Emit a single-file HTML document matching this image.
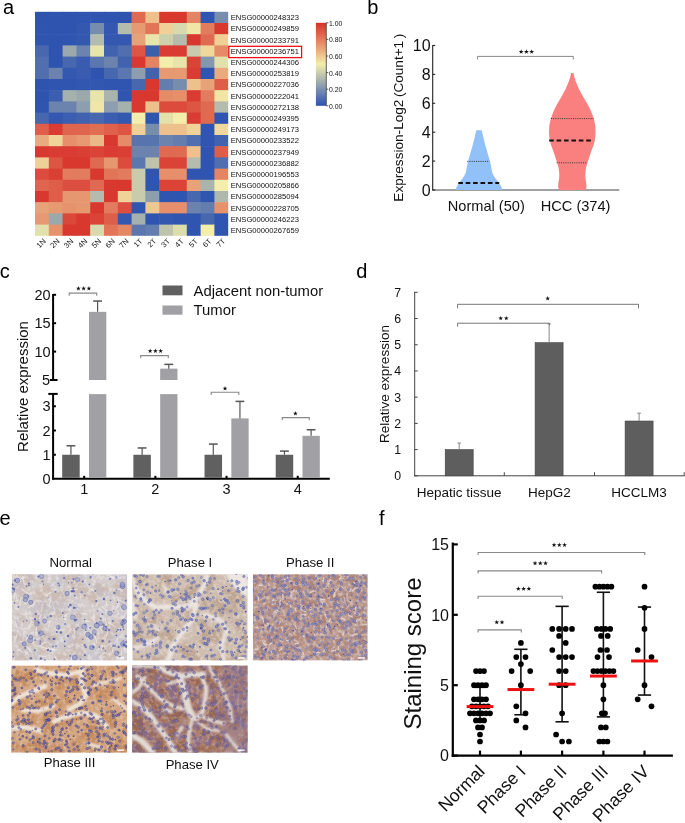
<!DOCTYPE html>
<html><head><meta charset="utf-8"><style>
html,body{margin:0;padding:0;background:#fff;width:685px;height:823px;overflow:hidden}
svg{display:block;will-change:transform}
text{font-family:"Liberation Sans", sans-serif}
</style></head><body>
<svg width="685" height="823" viewBox="0 0 685 823" font-family='"Liberation Sans", sans-serif'>
<rect width="685" height="823" fill="#fff"/>
<text x="2.90" y="14.40" font-size="20" text-anchor="start" fill="#000" >a</text>
<text x="367.30" y="14.40" font-size="20" text-anchor="start" fill="#000" >b</text>
<text x="-0.30" y="277.60" font-size="20" text-anchor="start" fill="#000" >c</text>
<text x="356.20" y="277.60" font-size="20" text-anchor="start" fill="#000" >d</text>
<text x="-0.60" y="524.80" font-size="20" text-anchor="start" fill="#000" >e</text>
<text x="379.00" y="524.80" font-size="20" text-anchor="start" fill="#000" >f</text>
<rect x="35.00" y="11.80" width="14.40" height="11.80" fill="#2e54b0" />
<rect x="48.80" y="11.80" width="14.40" height="11.80" fill="#2e54b0" />
<rect x="62.60" y="11.80" width="14.40" height="11.80" fill="#2e54b0" />
<rect x="76.40" y="11.80" width="14.40" height="11.80" fill="#3055b0" />
<rect x="90.20" y="11.80" width="14.40" height="11.80" fill="#3055b0" />
<rect x="104.00" y="11.80" width="14.40" height="11.80" fill="#2e54b0" />
<rect x="117.80" y="11.80" width="14.40" height="11.80" fill="#2e54b0" />
<rect x="131.60" y="11.80" width="14.40" height="11.80" fill="#e06951" />
<rect x="145.40" y="11.80" width="14.40" height="11.80" fill="#edc08c" />
<rect x="159.20" y="11.80" width="14.40" height="11.80" fill="#d9382f" />
<rect x="173.00" y="11.80" width="14.40" height="11.80" fill="#d9382f" />
<rect x="186.80" y="11.80" width="14.40" height="11.80" fill="#e48463" />
<rect x="200.60" y="11.80" width="14.40" height="11.80" fill="#3055b0" />
<rect x="214.40" y="11.80" width="13.80" height="11.80" fill="#778dae" />
<rect x="35.00" y="23.00" width="14.40" height="11.80" fill="#3055b0" />
<rect x="48.80" y="23.00" width="14.40" height="11.80" fill="#2e54b0" />
<rect x="62.60" y="23.00" width="14.40" height="11.80" fill="#2e54b0" />
<rect x="76.40" y="23.00" width="14.40" height="11.80" fill="#3458b0" />
<rect x="90.20" y="23.00" width="14.40" height="11.80" fill="#778dae" />
<rect x="104.00" y="23.00" width="14.40" height="11.80" fill="#3458b0" />
<rect x="117.80" y="23.00" width="14.40" height="11.80" fill="#b4bcad" />
<rect x="131.60" y="23.00" width="14.40" height="11.80" fill="#e79a72" />
<rect x="145.40" y="23.00" width="14.40" height="11.80" fill="#e27458" />
<rect x="159.20" y="23.00" width="14.40" height="11.80" fill="#efd096" />
<rect x="173.00" y="23.00" width="14.40" height="11.80" fill="#d8d9ac" />
<rect x="186.80" y="23.00" width="14.40" height="11.80" fill="#f2e6a6" />
<rect x="200.60" y="23.00" width="14.40" height="11.80" fill="#e37c5e" />
<rect x="214.40" y="23.00" width="13.80" height="11.80" fill="#d9382f" />
<rect x="35.00" y="34.20" width="14.40" height="11.80" fill="#3055b0" />
<rect x="48.80" y="34.20" width="14.40" height="11.80" fill="#2e54b0" />
<rect x="62.60" y="34.20" width="14.40" height="11.80" fill="#3055b0" />
<rect x="76.40" y="34.20" width="14.40" height="11.80" fill="#3458b0" />
<rect x="90.20" y="34.20" width="14.40" height="11.80" fill="#b4bcad" />
<rect x="104.00" y="34.20" width="14.40" height="11.80" fill="#3458b0" />
<rect x="117.80" y="34.20" width="14.40" height="11.80" fill="#3458b0" />
<rect x="131.60" y="34.20" width="14.40" height="11.80" fill="#e8a277" />
<rect x="145.40" y="34.20" width="14.40" height="11.80" fill="#e8e5ab" />
<rect x="159.20" y="34.20" width="14.40" height="11.80" fill="#cdd0ac" />
<rect x="173.00" y="34.20" width="14.40" height="11.80" fill="#b4bcad" />
<rect x="186.80" y="34.20" width="14.40" height="11.80" fill="#d9382f" />
<rect x="200.60" y="34.20" width="14.40" height="11.80" fill="#e06951" />
<rect x="214.40" y="34.20" width="13.80" height="11.80" fill="#efd096" />
<rect x="35.00" y="45.40" width="14.40" height="11.80" fill="#4767af" />
<rect x="48.80" y="45.40" width="14.40" height="11.80" fill="#2e54b0" />
<rect x="62.60" y="45.40" width="14.40" height="11.80" fill="#9ba9ad" />
<rect x="76.40" y="45.40" width="14.40" height="11.80" fill="#6b83ae" />
<rect x="90.20" y="45.40" width="14.40" height="11.80" fill="#e8e5ab" />
<rect x="104.00" y="45.40" width="14.40" height="11.80" fill="#4162af" />
<rect x="117.80" y="45.40" width="14.40" height="11.80" fill="#516faf" />
<rect x="131.60" y="45.40" width="14.40" height="11.80" fill="#dd5644" />
<rect x="145.40" y="45.40" width="14.40" height="11.80" fill="#3b5eb0" />
<rect x="159.20" y="45.40" width="14.40" height="11.80" fill="#da3b32" />
<rect x="173.00" y="45.40" width="14.40" height="11.80" fill="#da3b32" />
<rect x="186.80" y="45.40" width="14.40" height="11.80" fill="#c8ccac" />
<rect x="200.60" y="45.40" width="14.40" height="11.80" fill="#f0d79c" />
<rect x="214.40" y="45.40" width="13.80" height="11.80" fill="#e58b68" />
<rect x="35.00" y="56.60" width="14.40" height="11.80" fill="#516faf" />
<rect x="48.80" y="56.60" width="14.40" height="11.80" fill="#2e54b0" />
<rect x="62.60" y="56.60" width="14.40" height="11.80" fill="#4767af" />
<rect x="76.40" y="56.60" width="14.40" height="11.80" fill="#395cb0" />
<rect x="90.20" y="56.60" width="14.40" height="11.80" fill="#5c77af" />
<rect x="104.00" y="56.60" width="14.40" height="11.80" fill="#6b83ae" />
<rect x="117.80" y="56.60" width="14.40" height="11.80" fill="#4162af" />
<rect x="131.60" y="56.60" width="14.40" height="11.80" fill="#d9382f" />
<rect x="145.40" y="56.60" width="14.40" height="11.80" fill="#e48463" />
<rect x="159.20" y="56.60" width="14.40" height="11.80" fill="#f3eeab" />
<rect x="173.00" y="56.60" width="14.40" height="11.80" fill="#e8e5ab" />
<rect x="186.80" y="56.60" width="14.40" height="11.80" fill="#db4337" />
<rect x="200.60" y="56.60" width="14.40" height="11.80" fill="#8497ae" />
<rect x="214.40" y="56.60" width="13.80" height="11.80" fill="#e2e1ab" />
<rect x="35.00" y="67.80" width="14.40" height="11.80" fill="#516faf" />
<rect x="48.80" y="67.80" width="14.40" height="11.80" fill="#6b83ae" />
<rect x="62.60" y="67.80" width="14.40" height="11.80" fill="#3458b0" />
<rect x="76.40" y="67.80" width="14.40" height="11.80" fill="#395cb0" />
<rect x="90.20" y="67.80" width="14.40" height="11.80" fill="#2e54b0" />
<rect x="104.00" y="67.80" width="14.40" height="11.80" fill="#4767af" />
<rect x="117.80" y="67.80" width="14.40" height="11.80" fill="#5c77af" />
<rect x="131.60" y="67.80" width="14.40" height="11.80" fill="#8d9eae" />
<rect x="145.40" y="67.80" width="14.40" height="11.80" fill="#4162af" />
<rect x="159.20" y="67.80" width="14.40" height="11.80" fill="#e79a72" />
<rect x="173.00" y="67.80" width="14.40" height="11.80" fill="#e79a72" />
<rect x="186.80" y="67.80" width="14.40" height="11.80" fill="#da3b32" />
<rect x="200.60" y="67.80" width="14.40" height="11.80" fill="#3055b0" />
<rect x="214.40" y="67.80" width="13.80" height="11.80" fill="#e9aa7d" />
<rect x="35.00" y="79.00" width="14.40" height="11.80" fill="#2e54b0" />
<rect x="48.80" y="79.00" width="14.40" height="11.80" fill="#3055b0" />
<rect x="62.60" y="79.00" width="14.40" height="11.80" fill="#3055b0" />
<rect x="76.40" y="79.00" width="14.40" height="11.80" fill="#3257b0" />
<rect x="90.20" y="79.00" width="14.40" height="11.80" fill="#3257b0" />
<rect x="104.00" y="79.00" width="14.40" height="11.80" fill="#3055b0" />
<rect x="117.80" y="79.00" width="14.40" height="11.80" fill="#3055b0" />
<rect x="131.60" y="79.00" width="14.40" height="11.80" fill="#4767af" />
<rect x="145.40" y="79.00" width="14.40" height="11.80" fill="#d9382f" />
<rect x="159.20" y="79.00" width="14.40" height="11.80" fill="#637daf" />
<rect x="173.00" y="79.00" width="14.40" height="11.80" fill="#778dae" />
<rect x="186.80" y="79.00" width="14.40" height="11.80" fill="#edc08c" />
<rect x="200.60" y="79.00" width="14.40" height="11.80" fill="#e8a277" />
<rect x="214.40" y="79.00" width="13.80" height="11.80" fill="#de5e49" />
<rect x="35.00" y="90.20" width="14.40" height="11.80" fill="#2e54b0" />
<rect x="48.80" y="90.20" width="14.40" height="11.80" fill="#3b5eb0" />
<rect x="62.60" y="90.20" width="14.40" height="11.80" fill="#a5b1ad" />
<rect x="76.40" y="90.20" width="14.40" height="11.80" fill="#9ba9ad" />
<rect x="90.20" y="90.20" width="14.40" height="11.80" fill="#e8e5ab" />
<rect x="104.00" y="90.20" width="14.40" height="11.80" fill="#aab4ad" />
<rect x="117.80" y="90.20" width="14.40" height="11.80" fill="#3055b0" />
<rect x="131.60" y="90.20" width="14.40" height="11.80" fill="#d9382f" />
<rect x="145.40" y="90.20" width="14.40" height="11.80" fill="#d9382f" />
<rect x="159.20" y="90.20" width="14.40" height="11.80" fill="#e58b68" />
<rect x="173.00" y="90.20" width="14.40" height="11.80" fill="#e68f6a" />
<rect x="186.80" y="90.20" width="14.40" height="11.80" fill="#da3b32" />
<rect x="200.60" y="90.20" width="14.40" height="11.80" fill="#e37c5e" />
<rect x="214.40" y="90.20" width="13.80" height="11.80" fill="#f2e6a6" />
<rect x="35.00" y="101.40" width="14.40" height="11.80" fill="#3055b0" />
<rect x="48.80" y="101.40" width="14.40" height="11.80" fill="#6b83ae" />
<rect x="62.60" y="101.40" width="14.40" height="11.80" fill="#6b83ae" />
<rect x="76.40" y="101.40" width="14.40" height="11.80" fill="#8d9eae" />
<rect x="90.20" y="101.40" width="14.40" height="11.80" fill="#f2e6a6" />
<rect x="104.00" y="101.40" width="14.40" height="11.80" fill="#8d9eae" />
<rect x="117.80" y="101.40" width="14.40" height="11.80" fill="#a5b1ad" />
<rect x="131.60" y="101.40" width="14.40" height="11.80" fill="#d9382f" />
<rect x="145.40" y="101.40" width="14.40" height="11.80" fill="#edc08c" />
<rect x="159.20" y="101.40" width="14.40" height="11.80" fill="#dc4b3c" />
<rect x="173.00" y="101.40" width="14.40" height="11.80" fill="#dc4b3c" />
<rect x="186.80" y="101.40" width="14.40" height="11.80" fill="#dd5644" />
<rect x="200.60" y="101.40" width="14.40" height="11.80" fill="#e06951" />
<rect x="214.40" y="101.40" width="13.80" height="11.80" fill="#b4bcad" />
<rect x="35.00" y="112.60" width="14.40" height="11.80" fill="#4767af" />
<rect x="48.80" y="112.60" width="14.40" height="11.80" fill="#3458b0" />
<rect x="62.60" y="112.60" width="14.40" height="11.80" fill="#3b5eb0" />
<rect x="76.40" y="112.60" width="14.40" height="11.80" fill="#4162af" />
<rect x="90.20" y="112.60" width="14.40" height="11.80" fill="#4767af" />
<rect x="104.00" y="112.60" width="14.40" height="11.80" fill="#3b5eb0" />
<rect x="117.80" y="112.60" width="14.40" height="11.80" fill="#3458b0" />
<rect x="131.60" y="112.60" width="14.40" height="11.80" fill="#f3eeab" />
<rect x="145.40" y="112.60" width="14.40" height="11.80" fill="#3055b0" />
<rect x="159.20" y="112.60" width="14.40" height="11.80" fill="#e2e1ab" />
<rect x="173.00" y="112.60" width="14.40" height="11.80" fill="#f3eeab" />
<rect x="186.80" y="112.60" width="14.40" height="11.80" fill="#da3b32" />
<rect x="200.60" y="112.60" width="14.40" height="11.80" fill="#e06951" />
<rect x="214.40" y="112.60" width="13.80" height="11.80" fill="#3055b0" />
<rect x="35.00" y="123.80" width="14.40" height="11.80" fill="#de5e49" />
<rect x="48.80" y="123.80" width="14.40" height="11.80" fill="#da3b32" />
<rect x="62.60" y="123.80" width="14.40" height="11.80" fill="#e0654e" />
<rect x="76.40" y="123.80" width="14.40" height="11.80" fill="#e0654e" />
<rect x="90.20" y="123.80" width="14.40" height="11.80" fill="#e16d53" />
<rect x="104.00" y="123.80" width="14.40" height="11.80" fill="#df614c" />
<rect x="117.80" y="123.80" width="14.40" height="11.80" fill="#dd5644" />
<rect x="131.60" y="123.80" width="14.40" height="11.80" fill="#efd096" />
<rect x="145.40" y="123.80" width="14.40" height="11.80" fill="#778dae" />
<rect x="159.20" y="123.80" width="14.40" height="11.80" fill="#edc08c" />
<rect x="173.00" y="123.80" width="14.40" height="11.80" fill="#edc08c" />
<rect x="186.80" y="123.80" width="14.40" height="11.80" fill="#efd399" />
<rect x="200.60" y="123.80" width="14.40" height="11.80" fill="#3055b0" />
<rect x="214.40" y="123.80" width="13.80" height="11.80" fill="#f0d79c" />
<rect x="35.00" y="135.00" width="14.40" height="11.80" fill="#e9aa7d" />
<rect x="48.80" y="135.00" width="14.40" height="11.80" fill="#efd399" />
<rect x="62.60" y="135.00" width="14.40" height="11.80" fill="#e68f6a" />
<rect x="76.40" y="135.00" width="14.40" height="11.80" fill="#e79a72" />
<rect x="90.20" y="135.00" width="14.40" height="11.80" fill="#ebb987" />
<rect x="104.00" y="135.00" width="14.40" height="11.80" fill="#d9382f" />
<rect x="117.80" y="135.00" width="14.40" height="11.80" fill="#e58b68" />
<rect x="131.60" y="135.00" width="14.40" height="11.80" fill="#5874af" />
<rect x="145.40" y="135.00" width="14.40" height="11.80" fill="#5874af" />
<rect x="159.20" y="135.00" width="14.40" height="11.80" fill="#6b83ae" />
<rect x="173.00" y="135.00" width="14.40" height="11.80" fill="#637daf" />
<rect x="186.80" y="135.00" width="14.40" height="11.80" fill="#516faf" />
<rect x="200.60" y="135.00" width="14.40" height="11.80" fill="#3055b0" />
<rect x="214.40" y="135.00" width="13.80" height="11.80" fill="#4162af" />
<rect x="35.00" y="146.20" width="14.40" height="11.80" fill="#d9382f" />
<rect x="48.80" y="146.20" width="14.40" height="11.80" fill="#da3b32" />
<rect x="62.60" y="146.20" width="14.40" height="11.80" fill="#da3b32" />
<rect x="76.40" y="146.20" width="14.40" height="11.80" fill="#da3f34" />
<rect x="90.20" y="146.20" width="14.40" height="11.80" fill="#db4337" />
<rect x="104.00" y="146.20" width="14.40" height="11.80" fill="#da3b32" />
<rect x="117.80" y="146.20" width="14.40" height="11.80" fill="#da3f34" />
<rect x="131.60" y="146.20" width="14.40" height="11.80" fill="#6b83ae" />
<rect x="145.40" y="146.20" width="14.40" height="11.80" fill="#6b83ae" />
<rect x="159.20" y="146.20" width="14.40" height="11.80" fill="#e06951" />
<rect x="173.00" y="146.20" width="14.40" height="11.80" fill="#e06951" />
<rect x="186.80" y="146.20" width="14.40" height="11.80" fill="#edc08c" />
<rect x="200.60" y="146.20" width="14.40" height="11.80" fill="#3055b0" />
<rect x="214.40" y="146.20" width="13.80" height="11.80" fill="#de5e49" />
<rect x="35.00" y="157.40" width="14.40" height="11.80" fill="#efd096" />
<rect x="48.80" y="157.40" width="14.40" height="11.80" fill="#dd5644" />
<rect x="62.60" y="157.40" width="14.40" height="11.80" fill="#d9382f" />
<rect x="76.40" y="157.40" width="14.40" height="11.80" fill="#d9382f" />
<rect x="90.20" y="157.40" width="14.40" height="11.80" fill="#e06951" />
<rect x="104.00" y="157.40" width="14.40" height="11.80" fill="#e79770" />
<rect x="117.80" y="157.40" width="14.40" height="11.80" fill="#dc4b3c" />
<rect x="131.60" y="157.40" width="14.40" height="11.80" fill="#5c77af" />
<rect x="145.40" y="157.40" width="14.40" height="11.80" fill="#bec4ac" />
<rect x="159.20" y="157.40" width="14.40" height="11.80" fill="#db4337" />
<rect x="173.00" y="157.40" width="14.40" height="11.80" fill="#db4337" />
<rect x="186.80" y="157.40" width="14.40" height="11.80" fill="#b4bcad" />
<rect x="200.60" y="157.40" width="14.40" height="11.80" fill="#3055b0" />
<rect x="214.40" y="157.40" width="13.80" height="11.80" fill="#516faf" />
<rect x="35.00" y="168.60" width="14.40" height="11.80" fill="#dc4b3c" />
<rect x="48.80" y="168.60" width="14.40" height="11.80" fill="#da3f34" />
<rect x="62.60" y="168.60" width="14.40" height="11.80" fill="#e37c5e" />
<rect x="76.40" y="168.60" width="14.40" height="11.80" fill="#e37c5e" />
<rect x="90.20" y="168.60" width="14.40" height="11.80" fill="#d9382f" />
<rect x="104.00" y="168.60" width="14.40" height="11.80" fill="#e27458" />
<rect x="117.80" y="168.60" width="14.40" height="11.80" fill="#e37c5e" />
<rect x="131.60" y="168.60" width="14.40" height="11.80" fill="#c8ccac" />
<rect x="145.40" y="168.60" width="14.40" height="11.80" fill="#3055b0" />
<rect x="159.20" y="168.60" width="14.40" height="11.80" fill="#e68f6a" />
<rect x="173.00" y="168.60" width="14.40" height="11.80" fill="#e68f6a" />
<rect x="186.80" y="168.60" width="14.40" height="11.80" fill="#3055b0" />
<rect x="200.60" y="168.60" width="14.40" height="11.80" fill="#3055b0" />
<rect x="214.40" y="168.60" width="13.80" height="11.80" fill="#e48463" />
<rect x="35.00" y="179.80" width="14.40" height="11.80" fill="#e0654e" />
<rect x="48.80" y="179.80" width="14.40" height="11.80" fill="#de5e49" />
<rect x="62.60" y="179.80" width="14.40" height="11.80" fill="#dc4e3f" />
<rect x="76.40" y="179.80" width="14.40" height="11.80" fill="#dc4e3f" />
<rect x="90.20" y="179.80" width="14.40" height="11.80" fill="#e06951" />
<rect x="104.00" y="179.80" width="14.40" height="11.80" fill="#d9382f" />
<rect x="117.80" y="179.80" width="14.40" height="11.80" fill="#d9382f" />
<rect x="131.60" y="179.80" width="14.40" height="11.80" fill="#c8ccac" />
<rect x="145.40" y="179.80" width="14.40" height="11.80" fill="#3055b0" />
<rect x="159.20" y="179.80" width="14.40" height="11.80" fill="#db4337" />
<rect x="173.00" y="179.80" width="14.40" height="11.80" fill="#db4337" />
<rect x="186.80" y="179.80" width="14.40" height="11.80" fill="#e8a277" />
<rect x="200.60" y="179.80" width="14.40" height="11.80" fill="#aab4ad" />
<rect x="214.40" y="179.80" width="13.80" height="11.80" fill="#f3eeab" />
<rect x="35.00" y="191.00" width="14.40" height="11.80" fill="#d9382f" />
<rect x="48.80" y="191.00" width="14.40" height="11.80" fill="#de5e49" />
<rect x="62.60" y="191.00" width="14.40" height="11.80" fill="#e79770" />
<rect x="76.40" y="191.00" width="14.40" height="11.80" fill="#e79770" />
<rect x="90.20" y="191.00" width="14.40" height="11.80" fill="#b4bcad" />
<rect x="104.00" y="191.00" width="14.40" height="11.80" fill="#d9382f" />
<rect x="117.80" y="191.00" width="14.40" height="11.80" fill="#efd399" />
<rect x="131.60" y="191.00" width="14.40" height="11.80" fill="#c8ccac" />
<rect x="145.40" y="191.00" width="14.40" height="11.80" fill="#8d9eae" />
<rect x="159.20" y="191.00" width="14.40" height="11.80" fill="#3055b0" />
<rect x="173.00" y="191.00" width="14.40" height="11.80" fill="#3055b0" />
<rect x="186.80" y="191.00" width="14.40" height="11.80" fill="#4767af" />
<rect x="200.60" y="191.00" width="14.40" height="11.80" fill="#3055b0" />
<rect x="214.40" y="191.00" width="13.80" height="11.80" fill="#afb8ad" />
<rect x="35.00" y="202.20" width="14.40" height="11.80" fill="#e8a277" />
<rect x="48.80" y="202.20" width="14.40" height="11.80" fill="#e79a72" />
<rect x="62.60" y="202.20" width="14.40" height="11.80" fill="#e6936d" />
<rect x="76.40" y="202.20" width="14.40" height="11.80" fill="#e79770" />
<rect x="90.20" y="202.20" width="14.40" height="11.80" fill="#d9382f" />
<rect x="104.00" y="202.20" width="14.40" height="11.80" fill="#e37c5e" />
<rect x="117.80" y="202.20" width="14.40" height="11.80" fill="#dc4e3f" />
<rect x="131.60" y="202.20" width="14.40" height="11.80" fill="#3055b0" />
<rect x="145.40" y="202.20" width="14.40" height="11.80" fill="#eec891" />
<rect x="159.20" y="202.20" width="14.40" height="11.80" fill="#e68f6a" />
<rect x="173.00" y="202.20" width="14.40" height="11.80" fill="#e68f6a" />
<rect x="186.80" y="202.20" width="14.40" height="11.80" fill="#6b83ae" />
<rect x="200.60" y="202.20" width="14.40" height="11.80" fill="#637daf" />
<rect x="214.40" y="202.20" width="13.80" height="11.80" fill="#e6936d" />
<rect x="35.00" y="213.40" width="14.40" height="11.80" fill="#e79a72" />
<rect x="48.80" y="213.40" width="14.40" height="11.80" fill="#9ba9ad" />
<rect x="62.60" y="213.40" width="14.40" height="11.80" fill="#db4739" />
<rect x="76.40" y="213.40" width="14.40" height="11.80" fill="#d9382f" />
<rect x="90.20" y="213.40" width="14.40" height="11.80" fill="#db4337" />
<rect x="104.00" y="213.40" width="14.40" height="11.80" fill="#de5e49" />
<rect x="117.80" y="213.40" width="14.40" height="11.80" fill="#3458b0" />
<rect x="131.60" y="213.40" width="14.40" height="11.80" fill="#a5b1ad" />
<rect x="145.40" y="213.40" width="14.40" height="11.80" fill="#3055b0" />
<rect x="159.20" y="213.40" width="14.40" height="11.80" fill="#3257b0" />
<rect x="173.00" y="213.40" width="14.40" height="11.80" fill="#3055b0" />
<rect x="186.80" y="213.40" width="14.40" height="11.80" fill="#3055b0" />
<rect x="200.60" y="213.40" width="14.40" height="11.80" fill="#4767af" />
<rect x="214.40" y="213.40" width="13.80" height="11.80" fill="#3055b0" />
<rect x="35.00" y="224.60" width="14.40" height="11.20" fill="#e2e1ab" />
<rect x="48.80" y="224.60" width="14.40" height="11.20" fill="#e6936d" />
<rect x="62.60" y="224.60" width="14.40" height="11.20" fill="#d9382f" />
<rect x="76.40" y="224.60" width="14.40" height="11.20" fill="#d9382f" />
<rect x="90.20" y="224.60" width="14.40" height="11.20" fill="#d8d9ac" />
<rect x="104.00" y="224.60" width="14.40" height="11.20" fill="#e27458" />
<rect x="117.80" y="224.60" width="14.40" height="11.20" fill="#e48765" />
<rect x="131.60" y="224.60" width="14.40" height="11.20" fill="#5c77af" />
<rect x="145.40" y="224.60" width="14.40" height="11.20" fill="#637daf" />
<rect x="159.20" y="224.60" width="14.40" height="11.20" fill="#bec4ac" />
<rect x="173.00" y="224.60" width="14.40" height="11.20" fill="#ddddac" />
<rect x="186.80" y="224.60" width="14.40" height="11.20" fill="#3055b0" />
<rect x="200.60" y="224.60" width="14.40" height="11.20" fill="#f3eeab" />
<rect x="214.40" y="224.60" width="13.80" height="11.20" fill="#3055b0" />
<text x="230.70" y="20.25" font-size="8.1" text-anchor="start" fill="#111" textLength="68.3" lengthAdjust="spacingAndGlyphs">ENSG00000248323</text>
<text x="230.70" y="31.45" font-size="8.1" text-anchor="start" fill="#111" textLength="68.3" lengthAdjust="spacingAndGlyphs">ENSG00000249859</text>
<text x="230.70" y="42.65" font-size="8.1" text-anchor="start" fill="#111" textLength="68.3" lengthAdjust="spacingAndGlyphs">ENSG00000233791</text>
<text x="230.70" y="53.85" font-size="8.1" text-anchor="start" fill="#111" textLength="68.3" lengthAdjust="spacingAndGlyphs">ENSG00000236751</text>
<text x="230.70" y="65.05" font-size="8.1" text-anchor="start" fill="#111" textLength="68.3" lengthAdjust="spacingAndGlyphs">ENSG00000244306</text>
<text x="230.70" y="76.25" font-size="8.1" text-anchor="start" fill="#111" textLength="68.3" lengthAdjust="spacingAndGlyphs">ENSG00000253819</text>
<text x="230.70" y="87.45" font-size="8.1" text-anchor="start" fill="#111" textLength="68.3" lengthAdjust="spacingAndGlyphs">ENSG00000227036</text>
<text x="230.70" y="98.65" font-size="8.1" text-anchor="start" fill="#111" textLength="68.3" lengthAdjust="spacingAndGlyphs">ENSG00000222041</text>
<text x="230.70" y="109.85" font-size="8.1" text-anchor="start" fill="#111" textLength="68.3" lengthAdjust="spacingAndGlyphs">ENSG00000272138</text>
<text x="230.70" y="121.05" font-size="8.1" text-anchor="start" fill="#111" textLength="68.3" lengthAdjust="spacingAndGlyphs">ENSG00000249395</text>
<text x="230.70" y="132.25" font-size="8.1" text-anchor="start" fill="#111" textLength="68.3" lengthAdjust="spacingAndGlyphs">ENSG00000249173</text>
<text x="230.70" y="143.45" font-size="8.1" text-anchor="start" fill="#111" textLength="68.3" lengthAdjust="spacingAndGlyphs">ENSG00000233522</text>
<text x="230.70" y="154.65" font-size="8.1" text-anchor="start" fill="#111" textLength="68.3" lengthAdjust="spacingAndGlyphs">ENSG00000237949</text>
<text x="230.70" y="165.85" font-size="8.1" text-anchor="start" fill="#111" textLength="68.3" lengthAdjust="spacingAndGlyphs">ENSG00000236882</text>
<text x="230.70" y="177.05" font-size="8.1" text-anchor="start" fill="#111" textLength="68.3" lengthAdjust="spacingAndGlyphs">ENSG00000196553</text>
<text x="230.70" y="188.25" font-size="8.1" text-anchor="start" fill="#111" textLength="68.3" lengthAdjust="spacingAndGlyphs">ENSG00000205866</text>
<text x="230.70" y="199.45" font-size="8.1" text-anchor="start" fill="#111" textLength="68.3" lengthAdjust="spacingAndGlyphs">ENSG00000285094</text>
<text x="230.70" y="210.65" font-size="8.1" text-anchor="start" fill="#111" textLength="68.3" lengthAdjust="spacingAndGlyphs">ENSG00000228705</text>
<text x="230.70" y="221.85" font-size="8.1" text-anchor="start" fill="#111" textLength="68.3" lengthAdjust="spacingAndGlyphs">ENSG00000246223</text>
<text x="230.70" y="233.05" font-size="8.1" text-anchor="start" fill="#111" textLength="68.3" lengthAdjust="spacingAndGlyphs">ENSG00000267659</text>
<rect x="228.8" y="46.3" width="72.8" height="11.3" fill="none" stroke="#ee1111" stroke-width="1.3"/>
<text x="46.40" y="241.60" font-size="7.6" text-anchor="end" fill="#111" transform="rotate(-45 46.40 241.60)">1N</text>
<text x="60.20" y="241.60" font-size="7.6" text-anchor="end" fill="#111" transform="rotate(-45 60.20 241.60)">2N</text>
<text x="74.00" y="241.60" font-size="7.6" text-anchor="end" fill="#111" transform="rotate(-45 74.00 241.60)">3N</text>
<text x="87.80" y="241.60" font-size="7.6" text-anchor="end" fill="#111" transform="rotate(-45 87.80 241.60)">4N</text>
<text x="101.60" y="241.60" font-size="7.6" text-anchor="end" fill="#111" transform="rotate(-45 101.60 241.60)">5N</text>
<text x="115.40" y="241.60" font-size="7.6" text-anchor="end" fill="#111" transform="rotate(-45 115.40 241.60)">6N</text>
<text x="129.20" y="241.60" font-size="7.6" text-anchor="end" fill="#111" transform="rotate(-45 129.20 241.60)">7N</text>
<text x="143.00" y="241.60" font-size="7.6" text-anchor="end" fill="#111" transform="rotate(-45 143.00 241.60)">1T</text>
<text x="156.80" y="241.60" font-size="7.6" text-anchor="end" fill="#111" transform="rotate(-45 156.80 241.60)">2T</text>
<text x="170.60" y="241.60" font-size="7.6" text-anchor="end" fill="#111" transform="rotate(-45 170.60 241.60)">3T</text>
<text x="184.40" y="241.60" font-size="7.6" text-anchor="end" fill="#111" transform="rotate(-45 184.40 241.60)">4T</text>
<text x="198.20" y="241.60" font-size="7.6" text-anchor="end" fill="#111" transform="rotate(-45 198.20 241.60)">5T</text>
<text x="212.00" y="241.60" font-size="7.6" text-anchor="end" fill="#111" transform="rotate(-45 212.00 241.60)">6T</text>
<text x="225.80" y="241.60" font-size="7.6" text-anchor="end" fill="#111" transform="rotate(-45 225.80 241.60)">7T</text>
<defs><linearGradient id="cb" x1="0" y1="1" x2="0" y2="0"><stop offset="0" stop-color="#2c52b0"/><stop offset="0.5" stop-color="#f3eeab"/><stop offset="1" stop-color="#d8302a"/></linearGradient></defs>
<rect x="315.90" y="22.80" width="10.20" height="83.00" fill="url(#cb)" />
<line x1="326.30" y1="22.80" x2="326.30" y2="105.80" stroke="#333" stroke-width="0.8" />
<line x1="326.30" y1="105.80" x2="328.30" y2="105.80" stroke="#333" stroke-width="0.8" />
<text x="328.90" y="108.80" font-size="7.9" text-anchor="start" fill="#111" textLength="13.4" lengthAdjust="spacingAndGlyphs">0.00</text>
<line x1="326.30" y1="89.20" x2="328.30" y2="89.20" stroke="#333" stroke-width="0.8" />
<text x="328.90" y="92.20" font-size="7.9" text-anchor="start" fill="#111" textLength="13.4" lengthAdjust="spacingAndGlyphs">0.20</text>
<line x1="326.30" y1="72.60" x2="328.30" y2="72.60" stroke="#333" stroke-width="0.8" />
<text x="328.90" y="75.60" font-size="7.9" text-anchor="start" fill="#111" textLength="13.4" lengthAdjust="spacingAndGlyphs">0.40</text>
<line x1="326.30" y1="56.00" x2="328.30" y2="56.00" stroke="#333" stroke-width="0.8" />
<text x="328.90" y="59.00" font-size="7.9" text-anchor="start" fill="#111" textLength="13.4" lengthAdjust="spacingAndGlyphs">0.60</text>
<line x1="326.30" y1="39.40" x2="328.30" y2="39.40" stroke="#333" stroke-width="0.8" />
<text x="328.90" y="42.40" font-size="7.9" text-anchor="start" fill="#111" textLength="13.4" lengthAdjust="spacingAndGlyphs">0.80</text>
<line x1="326.30" y1="22.80" x2="328.30" y2="22.80" stroke="#333" stroke-width="0.8" />
<text x="328.90" y="25.80" font-size="7.9" text-anchor="start" fill="#111" textLength="13.4" lengthAdjust="spacingAndGlyphs">1.00</text>
<line x1="432.70" y1="45.00" x2="432.70" y2="190.50" stroke="#222" stroke-width="1.1" />
<line x1="432.20" y1="190.00" x2="619.30" y2="190.00" stroke="#444" stroke-width="1.1" />
<line x1="432.70" y1="190.00" x2="435.20" y2="190.00" stroke="#222" stroke-width="1.1" />
<text x="430.60" y="195.75" font-size="16" text-anchor="end" fill="#111" >0</text>
<line x1="432.70" y1="161.10" x2="435.20" y2="161.10" stroke="#222" stroke-width="1.1" />
<text x="430.60" y="166.85" font-size="16" text-anchor="end" fill="#111" >2</text>
<line x1="432.70" y1="132.20" x2="435.20" y2="132.20" stroke="#222" stroke-width="1.1" />
<text x="430.60" y="137.95" font-size="16" text-anchor="end" fill="#111" >4</text>
<line x1="432.70" y1="103.30" x2="435.20" y2="103.30" stroke="#222" stroke-width="1.1" />
<text x="430.60" y="109.05" font-size="16" text-anchor="end" fill="#111" >6</text>
<line x1="432.70" y1="74.40" x2="435.20" y2="74.40" stroke="#222" stroke-width="1.1" />
<text x="430.60" y="80.15" font-size="16" text-anchor="end" fill="#111" >8</text>
<line x1="432.70" y1="45.50" x2="435.20" y2="45.50" stroke="#222" stroke-width="1.1" />
<text x="430.60" y="51.25" font-size="16" text-anchor="end" fill="#111" >10</text>
<text x="403" y="117.7" font-size="13.6" text-anchor="middle" fill="#111" transform="rotate(-90 403 117.7)">Expression-Log2<tspan dx="2.5">(</tspan>Count+1<tspan dx="2.5">)</tspan></text>
<path d="M476.30,130.20 L475.20,135.00 L474.00,140.00 L472.60,145.50 L471.30,150.00 L469.90,155.00 L468.10,160.90 L467.00,166.00 L466.10,171.10 L465.20,174.00 L464.00,176.20 L462.00,179.00 L459.60,182.30 L457.70,185.00 L456.30,187.40 L456.00,189.30 L456.00,190.00 L502.00,190.00 L502.00,189.30 L501.70,187.40 L500.30,185.00 L498.40,182.30 L496.00,179.00 L494.00,176.20 L492.80,174.00 L491.90,171.10 L491.00,166.00 L489.90,160.90 L488.10,155.00 L486.70,150.00 L485.40,145.50 L484.00,140.00 L482.80,135.00 L481.70,130.20 Z" fill="#92c0f8"/>
<path d="M571.10,72.90 L570.50,76.00 L569.10,80.80 L567.50,84.50 L565.80,88.70 L563.80,92.50 L561.60,96.60 L559.30,100.50 L556.90,104.40 L554.90,108.30 L553.20,112.30 L551.70,116.00 L550.40,120.20 L549.40,125.00 L549.00,131.30 L549.20,136.00 L549.80,140.70 L551.20,145.50 L553.00,150.20 L554.60,155.00 L556.10,159.70 L557.40,163.50 L558.50,167.60 L559.10,171.50 L559.30,175.40 L559.00,179.50 L558.30,183.30 L558.10,186.50 L558.50,188.60 L559.30,190.00 L585.30,190.00 L586.10,188.60 L586.50,186.50 L586.30,183.30 L585.60,179.50 L585.30,175.40 L585.50,171.50 L586.10,167.60 L587.20,163.50 L588.50,159.70 L590.00,155.00 L591.60,150.20 L593.40,145.50 L594.80,140.70 L595.40,136.00 L595.60,131.30 L595.20,125.00 L594.20,120.20 L592.90,116.00 L591.40,112.30 L589.70,108.30 L587.70,104.40 L585.30,100.50 L583.00,96.60 L580.80,92.50 L578.80,88.70 L577.10,84.50 L575.50,80.80 L574.10,76.00 L573.50,72.90 Z" fill="#fa8080"/>
<line x1="458.30" y1="183.00" x2="499.20" y2="183.00" stroke="#111" stroke-width="2.0" stroke-dasharray="4.6 2.8"/>
<line x1="467.30" y1="161.40" x2="489.50" y2="161.40" stroke="#333" stroke-width="1.0" stroke-dasharray="1 1.2"/>
<line x1="549.20" y1="140.40" x2="592.10" y2="140.40" stroke="#111" stroke-width="2.0" stroke-dasharray="4.6 2.8"/>
<line x1="551.00" y1="118.60" x2="593.60" y2="118.60" stroke="#333" stroke-width="1.0" stroke-dasharray="1 1.2"/>
<line x1="556.60" y1="162.80" x2="587.30" y2="162.80" stroke="#333" stroke-width="1.0" stroke-dasharray="1 1.2"/>
<path d="M477.5,59.5 L477.5,56.4 L573.3,56.4 L573.3,59.5" fill="none" stroke="#888" stroke-width="1"/>
<polygon points="521.15,49.35 521.74,51.04 523.53,51.08 522.10,52.16 522.62,53.87 521.15,52.85 519.68,53.87 520.20,52.16 518.77,51.08 520.56,51.04" fill="#111"/>
<polygon points="526.40,49.35 526.99,51.04 528.78,51.08 527.35,52.16 527.87,53.87 526.40,52.85 524.93,53.87 525.45,52.16 524.02,51.08 525.81,51.04" fill="#111"/>
<polygon points="531.65,49.35 532.24,51.04 534.03,51.08 532.60,52.16 533.12,53.87 531.65,52.85 530.18,53.87 530.70,52.16 529.27,51.08 531.06,51.04" fill="#111"/>
<text x="486.30" y="211.20" font-size="14.6" text-anchor="middle" fill="#111" >Normal (50)</text>
<text x="575.60" y="211.20" font-size="14.6" text-anchor="middle" fill="#111" >HCC (374)</text>
<line x1="53.10" y1="294.00" x2="53.10" y2="381.00" stroke="#000" stroke-width="2" />
<line x1="53.10" y1="393.00" x2="53.10" y2="479.50" stroke="#000" stroke-width="2" />
<line x1="49.90" y1="380.00" x2="57.50" y2="380.00" stroke="#000" stroke-width="2" />
<line x1="48.30" y1="393.90" x2="57.70" y2="393.90" stroke="#000" stroke-width="2" />
<line x1="53.10" y1="294.80" x2="56.10" y2="294.80" stroke="#000" stroke-width="2" />
<line x1="53.10" y1="323.20" x2="56.10" y2="323.20" stroke="#000" stroke-width="2" />
<line x1="53.10" y1="351.60" x2="56.10" y2="351.60" stroke="#000" stroke-width="2" />
<line x1="53.10" y1="406.25" x2="55.90" y2="406.25" stroke="#000" stroke-width="2" />
<line x1="53.10" y1="430.50" x2="55.90" y2="430.50" stroke="#000" stroke-width="2" />
<line x1="53.10" y1="454.75" x2="55.90" y2="454.75" stroke="#000" stroke-width="2" />
<line x1="52.10" y1="478.70" x2="329.80" y2="478.70" stroke="#000" stroke-width="2" />
<text x="50.70" y="300.00" font-size="14.5" text-anchor="end" fill="#111" >20</text>
<text x="50.70" y="328.40" font-size="14.5" text-anchor="end" fill="#111" >15</text>
<text x="50.70" y="356.80" font-size="14.5" text-anchor="end" fill="#111" >10</text>
<text x="50.00" y="385.20" font-size="14.5" text-anchor="end" fill="#111" >5</text>
<text x="50.70" y="411.45" font-size="14.5" text-anchor="end" fill="#111" >3</text>
<text x="50.70" y="435.70" font-size="14.5" text-anchor="end" fill="#111" >2</text>
<text x="50.70" y="459.95" font-size="14.5" text-anchor="end" fill="#111" >1</text>
<text x="50.70" y="484.20" font-size="14.5" text-anchor="end" fill="#111" >0</text>
<text x="27.6" y="386.5" font-size="15" text-anchor="middle" fill="#111" transform="rotate(-90 27.6 386.5)">Relative expression</text>
<rect x="62.20" y="454.75" width="17.50" height="23.05" fill="#606060" />
<line x1="70.95" y1="445.78" x2="70.95" y2="454.75" stroke="#555" stroke-width="1.2" />
<line x1="66.55" y1="445.78" x2="75.35" y2="445.78" stroke="#555" stroke-width="1.5" />
<rect x="89.00" y="394.12" width="17.30" height="83.68" fill="#a0a0a5" />
<rect x="89.00" y="311.84" width="17.30" height="68.16" fill="#a0a0a5" />
<line x1="97.60" y1="301.05" x2="97.60" y2="311.84" stroke="#555" stroke-width="1.2" />
<line x1="93.20" y1="301.05" x2="102.00" y2="301.05" stroke="#555" stroke-width="1.5" />
<line x1="84.20" y1="475.80" x2="84.20" y2="478.70" stroke="#000" stroke-width="2" />
<text x="84.20" y="494.40" font-size="14.5" text-anchor="middle" fill="#111" >1</text>
<rect x="133.37" y="454.75" width="17.50" height="23.05" fill="#606060" />
<line x1="142.12" y1="447.96" x2="142.12" y2="454.75" stroke="#555" stroke-width="1.2" />
<line x1="137.72" y1="447.96" x2="146.52" y2="447.96" stroke="#555" stroke-width="1.5" />
<rect x="160.17" y="394.12" width="17.30" height="83.68" fill="#a0a0a5" />
<rect x="160.17" y="368.64" width="17.30" height="11.36" fill="#a0a0a5" />
<line x1="168.77" y1="364.38" x2="168.77" y2="368.64" stroke="#555" stroke-width="1.2" />
<line x1="164.37" y1="364.38" x2="173.17" y2="364.38" stroke="#555" stroke-width="1.5" />
<line x1="155.37" y1="475.80" x2="155.37" y2="478.70" stroke="#000" stroke-width="2" />
<text x="155.37" y="494.40" font-size="14.5" text-anchor="middle" fill="#111" >2</text>
<rect x="204.54" y="454.75" width="17.50" height="23.05" fill="#606060" />
<line x1="213.29" y1="444.08" x2="213.29" y2="454.75" stroke="#555" stroke-width="1.2" />
<line x1="208.89" y1="444.08" x2="217.69" y2="444.08" stroke="#555" stroke-width="1.5" />
<rect x="231.34" y="418.38" width="17.30" height="59.43" fill="#a0a0a5" />
<line x1="239.94" y1="401.40" x2="239.94" y2="418.38" stroke="#555" stroke-width="1.2" />
<line x1="235.54" y1="401.40" x2="244.34" y2="401.40" stroke="#555" stroke-width="1.5" />
<line x1="226.54" y1="475.80" x2="226.54" y2="478.70" stroke="#000" stroke-width="2" />
<text x="226.54" y="494.40" font-size="14.5" text-anchor="middle" fill="#111" >3</text>
<rect x="275.71" y="454.75" width="17.50" height="23.05" fill="#606060" />
<line x1="284.46" y1="451.11" x2="284.46" y2="454.75" stroke="#555" stroke-width="1.2" />
<line x1="280.06" y1="451.11" x2="288.86" y2="451.11" stroke="#555" stroke-width="1.5" />
<rect x="302.51" y="435.83" width="17.30" height="41.97" fill="#a0a0a5" />
<line x1="311.11" y1="429.77" x2="311.11" y2="435.83" stroke="#555" stroke-width="1.2" />
<line x1="306.71" y1="429.77" x2="315.51" y2="429.77" stroke="#555" stroke-width="1.5" />
<line x1="297.71" y1="475.80" x2="297.71" y2="478.70" stroke="#000" stroke-width="2" />
<text x="297.71" y="494.40" font-size="14.5" text-anchor="middle" fill="#111" >4</text>
<path d="M69.2,295.70000000000005 L69.2,293.1 L96.7,293.1 L96.7,295.70000000000005" fill="none" stroke="#888" stroke-width="1.1"/>
<polygon points="78.40,286.05 78.99,287.74 80.78,287.78 79.35,288.86 79.87,290.57 78.40,289.55 76.93,290.57 77.45,288.86 76.02,287.78 77.81,287.74" fill="#111"/>
<polygon points="83.65,286.05 84.24,287.74 86.03,287.78 84.60,288.86 85.12,290.57 83.65,289.55 82.18,290.57 82.70,288.86 81.27,287.78 83.06,287.74" fill="#111"/>
<polygon points="88.90,286.05 89.49,287.74 91.28,287.78 89.85,288.86 90.37,290.57 88.90,289.55 87.43,290.57 87.95,288.86 86.52,287.78 88.31,287.74" fill="#111"/>
<path d="M140.7,358.20000000000005 L140.7,355.6 L168.3,355.6 L168.3,358.20000000000005" fill="none" stroke="#888" stroke-width="1.1"/>
<polygon points="150.15,348.55 150.74,350.24 152.53,350.28 151.10,351.36 151.62,353.07 150.15,352.05 148.68,353.07 149.20,351.36 147.77,350.28 149.56,350.24" fill="#111"/>
<polygon points="155.40,348.55 155.99,350.24 157.78,350.28 156.35,351.36 156.87,353.07 155.40,352.05 153.93,353.07 154.45,351.36 153.02,350.28 154.81,350.24" fill="#111"/>
<polygon points="160.65,348.55 161.24,350.24 163.03,350.28 161.60,351.36 162.12,353.07 160.65,352.05 159.18,353.07 159.70,351.36 158.27,350.28 160.06,350.24" fill="#111"/>
<path d="M211.2,394.90000000000003 L211.2,392.3 L238.8,392.3 L238.8,394.90000000000003" fill="none" stroke="#888" stroke-width="1.1"/>
<polygon points="225.00,386.05 225.59,387.74 227.38,387.78 225.95,388.86 226.47,390.57 225.00,389.55 223.53,390.57 224.05,388.86 222.62,387.78 224.41,387.74" fill="#111"/>
<path d="M282.2,420.20000000000005 L282.2,417.6 L309.3,417.6 L309.3,420.20000000000005" fill="none" stroke="#888" stroke-width="1.1"/>
<polygon points="295.40,411.05 295.99,412.74 297.78,412.78 296.35,413.86 296.87,415.57 295.40,414.55 293.93,415.57 294.45,413.86 293.02,412.78 294.81,412.74" fill="#111"/>
<rect x="162.50" y="285.50" width="20.00" height="9.80" fill="#606060" />
<rect x="162.50" y="305.50" width="20.00" height="9.20" fill="#a0a0a5" />
<text x="193.60" y="295.60" font-size="14.85" text-anchor="start" fill="#111" >Adjacent non-tumor</text>
<text x="193.60" y="315.00" font-size="14.85" text-anchor="start" fill="#111" >Tumor</text>
<line x1="414.70" y1="291.80" x2="414.70" y2="476.30" stroke="#444" stroke-width="1" />
<line x1="414.20" y1="475.80" x2="684.60" y2="475.80" stroke="#444" stroke-width="1" />
<line x1="414.70" y1="475.80" x2="417.70" y2="475.80" stroke="#444" stroke-width="1" />
<text x="401.00" y="480.20" font-size="12.3" text-anchor="end" fill="#111" >0</text>
<line x1="414.70" y1="449.59" x2="417.70" y2="449.59" stroke="#444" stroke-width="1" />
<text x="401.00" y="453.99" font-size="12.3" text-anchor="end" fill="#111" >1</text>
<line x1="414.70" y1="423.38" x2="417.70" y2="423.38" stroke="#444" stroke-width="1" />
<text x="401.00" y="427.78" font-size="12.3" text-anchor="end" fill="#111" >2</text>
<line x1="414.70" y1="397.17" x2="417.70" y2="397.17" stroke="#444" stroke-width="1" />
<text x="401.00" y="401.57" font-size="12.3" text-anchor="end" fill="#111" >3</text>
<line x1="414.70" y1="370.96" x2="417.70" y2="370.96" stroke="#444" stroke-width="1" />
<text x="401.00" y="375.36" font-size="12.3" text-anchor="end" fill="#111" >4</text>
<line x1="414.70" y1="344.75" x2="417.70" y2="344.75" stroke="#444" stroke-width="1" />
<text x="401.00" y="349.15" font-size="12.3" text-anchor="end" fill="#111" >5</text>
<line x1="414.70" y1="318.54" x2="417.70" y2="318.54" stroke="#444" stroke-width="1" />
<text x="401.00" y="322.94" font-size="12.3" text-anchor="end" fill="#111" >6</text>
<line x1="414.70" y1="292.33" x2="417.70" y2="292.33" stroke="#444" stroke-width="1" />
<text x="401.00" y="296.73" font-size="12.3" text-anchor="end" fill="#111" >7</text>
<line x1="504.30" y1="472.30" x2="504.30" y2="475.80" stroke="#444" stroke-width="1" />
<line x1="594.50" y1="472.30" x2="594.50" y2="475.80" stroke="#444" stroke-width="1" />
<line x1="684.20" y1="472.30" x2="684.20" y2="475.80" stroke="#444" stroke-width="1" />
<text x="389.4" y="384.0" font-size="13.5" text-anchor="middle" fill="#111" transform="rotate(-90 389.4 384.0)">Relative expression</text>
<rect x="445.20" y="449.59" width="28.00" height="26.21" fill="#5e5e5e" stroke="#444" stroke-width="0.6"/>
<line x1="459.20" y1="443.04" x2="459.20" y2="449.59" stroke="#888" stroke-width="1" />
<line x1="457.40" y1="443.04" x2="461.00" y2="443.04" stroke="#888" stroke-width="1" />
<rect x="535.10" y="342.65" width="28.00" height="133.15" fill="#5e5e5e" stroke="#444" stroke-width="0.6"/>
<line x1="549.10" y1="323.78" x2="549.10" y2="342.65" stroke="#888" stroke-width="1" />
<line x1="547.30" y1="323.78" x2="550.90" y2="323.78" stroke="#888" stroke-width="1" />
<rect x="625.10" y="421.02" width="28.00" height="54.78" fill="#5e5e5e" stroke="#444" stroke-width="0.6"/>
<line x1="639.10" y1="413.16" x2="639.10" y2="421.02" stroke="#888" stroke-width="1" />
<line x1="637.30" y1="413.16" x2="640.90" y2="413.16" stroke="#888" stroke-width="1" />
<path d="M457.6,308.4 L457.6,304.3 L638.5,304.3 L638.5,308.4" fill="none" stroke="#777" stroke-width="1"/>
<path d="M457.6,326.6 L457.6,323.2 L549.4,323.2 L549.4,325.5" fill="none" stroke="#777" stroke-width="1"/>
<polygon points="547.70,295.95 548.29,297.64 550.08,297.68 548.65,298.76 549.17,300.47 547.70,299.45 546.23,300.47 546.75,298.76 545.32,297.68 547.11,297.64" fill="#111"/>
<polygon points="500.70,315.94 501.26,317.56 502.98,317.60 501.61,318.64 502.11,320.28 500.70,319.30 499.29,320.28 499.79,318.64 498.42,317.60 500.14,317.56" fill="#111"/>
<polygon points="506.30,315.94 506.86,317.56 508.58,317.60 507.21,318.64 507.71,320.28 506.30,319.30 504.89,320.28 505.39,318.64 504.02,317.60 505.74,317.56" fill="#111"/>
<text x="459.10" y="496.80" font-size="13.5" text-anchor="middle" fill="#111" >Hepatic tissue</text>
<text x="549.30" y="496.80" font-size="13.5" text-anchor="middle" fill="#111" >HepG2</text>
<text x="639.00" y="496.80" font-size="13.5" text-anchor="middle" fill="#111" >HCCLM3</text>
<line x1="452.80" y1="542.50" x2="452.80" y2="756.80" stroke="#000" stroke-width="2.2" />
<line x1="451.70" y1="755.60" x2="672.90" y2="755.60" stroke="#000" stroke-width="2.2" />
<line x1="452.80" y1="755.60" x2="457.80" y2="755.60" stroke="#000" stroke-width="2.2" />
<text x="449.00" y="761.30" font-size="16" text-anchor="end" fill="#111" >0</text>
<line x1="452.80" y1="685.20" x2="457.80" y2="685.20" stroke="#000" stroke-width="2.2" />
<text x="449.00" y="690.90" font-size="16" text-anchor="end" fill="#111" >5</text>
<line x1="452.80" y1="614.80" x2="457.80" y2="614.80" stroke="#000" stroke-width="2.2" />
<text x="449.00" y="620.50" font-size="16" text-anchor="end" fill="#111" >10</text>
<line x1="452.80" y1="544.40" x2="457.80" y2="544.40" stroke="#000" stroke-width="2.2" />
<text x="449.00" y="550.10" font-size="16" text-anchor="end" fill="#111" >15</text>
<text x="421" y="653.5" font-size="24" text-anchor="middle" fill="#111" transform="rotate(-90 421 653.5)">Staining score</text>
<line x1="480.00" y1="750.60" x2="480.00" y2="755.60" stroke="#000" stroke-width="2.2" />
<line x1="520.90" y1="750.60" x2="520.90" y2="755.60" stroke="#000" stroke-width="2.2" />
<line x1="562.10" y1="750.60" x2="562.10" y2="755.60" stroke="#000" stroke-width="2.2" />
<line x1="603.40" y1="750.60" x2="603.40" y2="755.60" stroke="#000" stroke-width="2.2" />
<line x1="644.50" y1="750.60" x2="644.50" y2="755.60" stroke="#000" stroke-width="2.2" />
<text x="485.70" y="772.50" font-size="17.6" text-anchor="end" fill="#111" transform="rotate(-45 485.70 772.50)">Normal</text>
<text x="526.60" y="772.50" font-size="17.6" text-anchor="end" fill="#111" transform="rotate(-45 526.60 772.50)">Phase I</text>
<text x="567.80" y="772.50" font-size="17.6" text-anchor="end" fill="#111" transform="rotate(-45 567.80 772.50)">Phase II</text>
<text x="609.10" y="772.50" font-size="17.6" text-anchor="end" fill="#111" transform="rotate(-45 609.10 772.50)">Phase III</text>
<text x="650.20" y="772.50" font-size="17.6" text-anchor="end" fill="#111" transform="rotate(-45 650.20 772.50)">Phase IV</text>
<path d="M478.1,555.1 L478.1,552.5 L644.8,552.5 L644.8,555.1" fill="none" stroke="#888" stroke-width="1.1"/>
<polygon points="554.05,542.45 554.64,544.14 556.43,544.18 555.00,545.26 555.52,546.97 554.05,545.95 552.58,546.97 553.10,545.26 551.67,544.18 553.46,544.14" fill="#111"/>
<polygon points="559.30,542.45 559.89,544.14 561.68,544.18 560.25,545.26 560.77,546.97 559.30,545.95 557.83,546.97 558.35,545.26 556.92,544.18 558.71,544.14" fill="#111"/>
<polygon points="564.55,542.45 565.14,544.14 566.93,544.18 565.50,545.26 566.02,546.97 564.55,545.95 563.08,546.97 563.60,545.26 562.17,544.18 563.96,544.14" fill="#111"/>
<path d="M478.1,573.5 L478.1,570.9 L601.6,570.9 L601.6,573.5" fill="none" stroke="#888" stroke-width="1.1"/>
<polygon points="535.05,560.85 535.64,562.54 537.43,562.58 536.00,563.66 536.52,565.37 535.05,564.35 533.58,565.37 534.10,563.66 532.67,562.58 534.46,562.54" fill="#111"/>
<polygon points="540.30,560.85 540.89,562.54 542.68,562.58 541.25,563.66 541.77,565.37 540.30,564.35 538.83,565.37 539.35,563.66 537.92,562.58 539.71,562.54" fill="#111"/>
<polygon points="545.55,560.85 546.14,562.54 547.93,562.58 546.50,563.66 547.02,565.37 545.55,564.35 544.08,565.37 544.60,563.66 543.17,562.58 544.96,562.54" fill="#111"/>
<path d="M478.1,598.9 L478.1,596.3 L562.2,596.3 L562.2,598.9" fill="none" stroke="#888" stroke-width="1.1"/>
<polygon points="518.35,586.25 518.94,587.94 520.73,587.98 519.30,589.06 519.82,590.77 518.35,589.75 516.88,590.77 517.40,589.06 515.97,587.98 517.76,587.94" fill="#111"/>
<polygon points="523.60,586.25 524.19,587.94 525.98,587.98 524.55,589.06 525.07,590.77 523.60,589.75 522.13,590.77 522.65,589.06 521.22,587.98 523.01,587.94" fill="#111"/>
<polygon points="528.85,586.25 529.44,587.94 531.23,587.98 529.80,589.06 530.32,590.77 528.85,589.75 527.38,590.77 527.90,589.06 526.47,587.98 528.26,587.94" fill="#111"/>
<path d="M478.1,632.5 L478.1,629.9 L521.3,629.9 L521.3,632.5" fill="none" stroke="#888" stroke-width="1.1"/>
<polygon points="496.77,619.85 497.36,621.54 499.15,621.58 497.73,622.66 498.24,624.37 496.77,623.35 495.31,624.37 495.82,622.66 494.40,621.58 496.19,621.54" fill="#111"/>
<polygon points="502.02,619.85 502.61,621.54 504.40,621.58 502.98,622.66 503.49,624.37 502.02,623.35 500.56,624.37 501.07,622.66 499.65,621.58 501.44,621.54" fill="#111"/>
<line x1="480.00" y1="687.31" x2="480.00" y2="720.40" stroke="#111" stroke-width="1.6" />
<line x1="473.40" y1="687.31" x2="486.60" y2="687.31" stroke="#111" stroke-width="1.6" />
<line x1="473.40" y1="720.40" x2="486.60" y2="720.40" stroke="#111" stroke-width="1.6" />
<line x1="520.90" y1="649.30" x2="520.90" y2="714.77" stroke="#111" stroke-width="1.6" />
<line x1="514.30" y1="649.30" x2="527.50" y2="649.30" stroke="#111" stroke-width="1.6" />
<line x1="514.30" y1="714.77" x2="527.50" y2="714.77" stroke="#111" stroke-width="1.6" />
<line x1="562.10" y1="606.35" x2="562.10" y2="721.81" stroke="#111" stroke-width="1.6" />
<line x1="555.50" y1="606.35" x2="568.70" y2="606.35" stroke="#111" stroke-width="1.6" />
<line x1="555.50" y1="721.81" x2="568.70" y2="721.81" stroke="#111" stroke-width="1.6" />
<line x1="603.40" y1="592.27" x2="603.40" y2="716.88" stroke="#111" stroke-width="1.6" />
<line x1="596.80" y1="592.27" x2="610.00" y2="592.27" stroke="#111" stroke-width="1.6" />
<line x1="596.80" y1="716.88" x2="610.00" y2="716.88" stroke="#111" stroke-width="1.6" />
<line x1="644.50" y1="607.06" x2="644.50" y2="695.06" stroke="#111" stroke-width="1.6" />
<line x1="637.90" y1="607.06" x2="651.10" y2="607.06" stroke="#111" stroke-width="1.6" />
<line x1="637.90" y1="695.06" x2="651.10" y2="695.06" stroke="#111" stroke-width="1.6" />
<circle cx="476.00" cy="671.12" r="2.85" fill="#000"/>
<circle cx="480.00" cy="671.12" r="2.85" fill="#000"/>
<circle cx="484.00" cy="671.12" r="2.85" fill="#000"/>
<circle cx="474.00" cy="685.20" r="2.85" fill="#000"/>
<circle cx="478.00" cy="685.20" r="2.85" fill="#000"/>
<circle cx="482.00" cy="685.20" r="2.85" fill="#000"/>
<circle cx="486.00" cy="685.20" r="2.85" fill="#000"/>
<circle cx="474.00" cy="699.28" r="2.85" fill="#000"/>
<circle cx="478.00" cy="699.28" r="2.85" fill="#000"/>
<circle cx="482.00" cy="699.28" r="2.85" fill="#000"/>
<circle cx="486.00" cy="699.28" r="2.85" fill="#000"/>
<circle cx="472.00" cy="706.32" r="2.85" fill="#000"/>
<circle cx="476.00" cy="706.32" r="2.85" fill="#000"/>
<circle cx="480.00" cy="706.32" r="2.85" fill="#000"/>
<circle cx="484.00" cy="706.32" r="2.85" fill="#000"/>
<circle cx="488.00" cy="706.32" r="2.85" fill="#000"/>
<circle cx="470.00" cy="713.36" r="2.85" fill="#000"/>
<circle cx="474.00" cy="713.36" r="2.85" fill="#000"/>
<circle cx="478.00" cy="713.36" r="2.85" fill="#000"/>
<circle cx="482.00" cy="713.36" r="2.85" fill="#000"/>
<circle cx="486.00" cy="713.36" r="2.85" fill="#000"/>
<circle cx="490.00" cy="713.36" r="2.85" fill="#000"/>
<circle cx="476.00" cy="720.40" r="2.85" fill="#000"/>
<circle cx="480.00" cy="720.40" r="2.85" fill="#000"/>
<circle cx="484.00" cy="720.40" r="2.85" fill="#000"/>
<circle cx="478.00" cy="727.44" r="2.85" fill="#000"/>
<circle cx="482.00" cy="727.44" r="2.85" fill="#000"/>
<circle cx="480.00" cy="734.48" r="2.85" fill="#000"/>
<circle cx="480.00" cy="741.52" r="2.85" fill="#000"/>
<circle cx="520.90" cy="642.96" r="2.85" fill="#000"/>
<circle cx="516.30" cy="657.04" r="2.85" fill="#000"/>
<circle cx="525.50" cy="657.04" r="2.85" fill="#000"/>
<circle cx="520.90" cy="664.08" r="2.85" fill="#000"/>
<circle cx="511.60" cy="671.12" r="2.85" fill="#000"/>
<circle cx="530.20" cy="671.12" r="2.85" fill="#000"/>
<circle cx="520.90" cy="685.20" r="2.85" fill="#000"/>
<circle cx="516.30" cy="706.32" r="2.85" fill="#000"/>
<circle cx="525.50" cy="713.36" r="2.85" fill="#000"/>
<circle cx="516.30" cy="720.40" r="2.85" fill="#000"/>
<circle cx="525.50" cy="727.44" r="2.85" fill="#000"/>
<circle cx="552.30" cy="628.88" r="2.85" fill="#000"/>
<circle cx="559.10" cy="628.88" r="2.85" fill="#000"/>
<circle cx="565.70" cy="628.88" r="2.85" fill="#000"/>
<circle cx="572.00" cy="628.88" r="2.85" fill="#000"/>
<circle cx="559.10" cy="635.92" r="2.85" fill="#000"/>
<circle cx="565.70" cy="642.96" r="2.85" fill="#000"/>
<circle cx="552.30" cy="650.00" r="2.85" fill="#000"/>
<circle cx="559.10" cy="657.04" r="2.85" fill="#000"/>
<circle cx="565.70" cy="657.04" r="2.85" fill="#000"/>
<circle cx="572.00" cy="657.04" r="2.85" fill="#000"/>
<circle cx="559.10" cy="671.12" r="2.85" fill="#000"/>
<circle cx="565.70" cy="671.12" r="2.85" fill="#000"/>
<circle cx="559.10" cy="685.20" r="2.85" fill="#000"/>
<circle cx="565.70" cy="685.20" r="2.85" fill="#000"/>
<circle cx="562.10" cy="713.36" r="2.85" fill="#000"/>
<circle cx="556.10" cy="734.48" r="2.85" fill="#000"/>
<circle cx="562.10" cy="741.52" r="2.85" fill="#000"/>
<circle cx="568.90" cy="741.52" r="2.85" fill="#000"/>
<circle cx="595.40" cy="586.64" r="2.85" fill="#000"/>
<circle cx="599.40" cy="586.64" r="2.85" fill="#000"/>
<circle cx="603.40" cy="586.64" r="2.85" fill="#000"/>
<circle cx="607.40" cy="586.64" r="2.85" fill="#000"/>
<circle cx="611.40" cy="586.64" r="2.85" fill="#000"/>
<circle cx="596.80" cy="628.88" r="2.85" fill="#000"/>
<circle cx="601.40" cy="628.88" r="2.85" fill="#000"/>
<circle cx="605.40" cy="628.88" r="2.85" fill="#000"/>
<circle cx="610.20" cy="628.88" r="2.85" fill="#000"/>
<circle cx="601.00" cy="635.92" r="2.85" fill="#000"/>
<circle cx="607.70" cy="635.92" r="2.85" fill="#000"/>
<circle cx="600.40" cy="650.00" r="2.85" fill="#000"/>
<circle cx="607.00" cy="650.00" r="2.85" fill="#000"/>
<circle cx="597.50" cy="657.04" r="2.85" fill="#000"/>
<circle cx="609.00" cy="657.04" r="2.85" fill="#000"/>
<circle cx="593.40" cy="671.12" r="2.85" fill="#000"/>
<circle cx="597.40" cy="671.12" r="2.85" fill="#000"/>
<circle cx="601.40" cy="671.12" r="2.85" fill="#000"/>
<circle cx="605.40" cy="671.12" r="2.85" fill="#000"/>
<circle cx="609.40" cy="671.12" r="2.85" fill="#000"/>
<circle cx="613.40" cy="671.12" r="2.85" fill="#000"/>
<circle cx="603.40" cy="685.20" r="2.85" fill="#000"/>
<circle cx="603.40" cy="699.28" r="2.85" fill="#000"/>
<circle cx="601.80" cy="713.36" r="2.85" fill="#000"/>
<circle cx="605.00" cy="713.36" r="2.85" fill="#000"/>
<circle cx="601.00" cy="727.44" r="2.85" fill="#000"/>
<circle cx="605.80" cy="727.44" r="2.85" fill="#000"/>
<circle cx="599.40" cy="741.52" r="2.85" fill="#000"/>
<circle cx="603.40" cy="741.52" r="2.85" fill="#000"/>
<circle cx="607.40" cy="741.52" r="2.85" fill="#000"/>
<circle cx="644.50" cy="586.64" r="2.85" fill="#000"/>
<circle cx="644.50" cy="607.76" r="2.85" fill="#000"/>
<circle cx="644.50" cy="628.88" r="2.85" fill="#000"/>
<circle cx="637.70" cy="650.00" r="2.85" fill="#000"/>
<circle cx="651.50" cy="657.04" r="2.85" fill="#000"/>
<circle cx="644.50" cy="685.20" r="2.85" fill="#000"/>
<circle cx="637.70" cy="699.28" r="2.85" fill="#000"/>
<circle cx="651.50" cy="706.32" r="2.85" fill="#000"/>
<line x1="466.60" y1="706.60" x2="493.40" y2="706.60" stroke="#ee1111" stroke-width="3.0" />
<line x1="507.50" y1="689.56" x2="534.30" y2="689.56" stroke="#ee1111" stroke-width="3.0" />
<line x1="548.70" y1="684.21" x2="575.50" y2="684.21" stroke="#ee1111" stroke-width="3.0" />
<line x1="590.00" y1="676.05" x2="616.80" y2="676.05" stroke="#ee1111" stroke-width="3.0" />
<line x1="631.10" y1="660.98" x2="657.90" y2="660.98" stroke="#ee1111" stroke-width="3.0" />
<clipPath id="clip1"><rect x="11.8" y="574.2" width="115.4" height="86.3"/></clipPath>
<filter id="bl1" x="-20%" y="-20%" width="140%" height="140%"><feGaussianBlur stdDeviation="1.2"/></filter>
<filter id="bl1s" x="-50%" y="-50%" width="200%" height="200%"><feGaussianBlur stdDeviation="0.5"/></filter>
<filter id="nf1_0" filterUnits="userSpaceOnUse" x="11.8" y="574.2" width="115.4" height="86.3" color-interpolation-filters="sRGB"><feTurbulence type="fractalNoise" baseFrequency="0.06" numOctaves="2" seed="10"/><feColorMatrix type="matrix" values="0 0 0 0 0.769 0 0 0 0 0.635 0 0 0 0 0.557 6.0 0 0 0 -2.7"/></filter>
<filter id="nf1_1" filterUnits="userSpaceOnUse" x="11.8" y="574.2" width="115.4" height="86.3" color-interpolation-filters="sRGB"><feTurbulence type="fractalNoise" baseFrequency="0.06" numOctaves="2" seed="11"/><feColorMatrix type="matrix" values="0 0 0 0 0.706 0 0 0 0 0.714 0 0 0 0 0.824 4.0 0 0 0 -1.8"/></filter>
<filter id="nf1_2" filterUnits="userSpaceOnUse" x="11.8" y="574.2" width="115.4" height="86.3" color-interpolation-filters="sRGB"><feTurbulence type="fractalNoise" baseFrequency="0.25" numOctaves="2" seed="12"/><feColorMatrix type="matrix" values="0 0 0 0 0.957 0 0 0 0 0.941 0 0 0 0 0.949 3.5 0 0 0 -1.6"/></filter>
<g clip-path="url(#clip1)">
<rect x="11.80" y="574.20" width="115.40" height="86.30" fill="#d2cbc9" />
<rect x="11.8" y="574.2" width="115.4" height="86.3" filter="url(#nf1_0)" opacity="0.35"/>
<rect x="11.8" y="574.2" width="115.4" height="86.3" filter="url(#nf1_1)" opacity="0.25"/>
<rect x="11.8" y="574.2" width="115.4" height="86.3" filter="url(#nf1_2)" opacity="0.5"/>
<g stroke="#f0eaea" stroke-width="1.1" stroke-linecap="round" opacity="0.75" filter="url(#bl1s)">
<line x1="27.3" y1="647.3" x2="32.0" y2="652.2"/>
<line x1="69.0" y1="613.0" x2="64.0" y2="616.8"/>
<line x1="22.6" y1="576.6" x2="24.1" y2="583.7"/>
<line x1="99.8" y1="574.4" x2="96.4" y2="578.4"/>
<line x1="38.2" y1="655.8" x2="45.7" y2="656.5"/>
<line x1="14.7" y1="620.9" x2="17.5" y2="628.1"/>
<line x1="36.8" y1="610.6" x2="39.2" y2="612.6"/>
<line x1="62.3" y1="617.0" x2="65.4" y2="619.8"/>
<line x1="37.0" y1="613.9" x2="41.5" y2="614.2"/>
<line x1="108.5" y1="622.2" x2="113.6" y2="625.6"/>
<line x1="126.3" y1="648.4" x2="128.1" y2="651.5"/>
<line x1="95.1" y1="635.6" x2="96.9" y2="643.0"/>
<line x1="107.6" y1="632.0" x2="106.4" y2="636.4"/>
<line x1="113.6" y1="647.2" x2="112.1" y2="652.5"/>
<line x1="15.8" y1="595.1" x2="17.6" y2="601.9"/>
<line x1="31.8" y1="621.6" x2="28.4" y2="627.1"/>
<line x1="55.0" y1="612.1" x2="50.8" y2="615.6"/>
<line x1="71.9" y1="608.1" x2="77.3" y2="608.6"/>
<line x1="16.8" y1="634.9" x2="14.5" y2="642.5"/>
<line x1="57.2" y1="588.9" x2="51.7" y2="589.2"/>
<line x1="100.7" y1="620.8" x2="106.2" y2="625.6"/>
<line x1="71.1" y1="656.4" x2="71.8" y2="662.2"/>
<line x1="42.9" y1="621.5" x2="50.7" y2="621.6"/>
<line x1="102.2" y1="645.0" x2="97.1" y2="650.4"/>
<line x1="105.2" y1="619.0" x2="106.5" y2="624.6"/>
<line x1="18.3" y1="649.3" x2="23.0" y2="652.7"/>
<line x1="70.0" y1="616.0" x2="72.3" y2="620.3"/>
<line x1="73.9" y1="628.0" x2="74.7" y2="634.0"/>
<line x1="15.0" y1="594.0" x2="14.0" y2="597.8"/>
<line x1="111.2" y1="643.1" x2="105.3" y2="646.9"/>
<line x1="41.3" y1="646.8" x2="47.4" y2="648.5"/>
<line x1="13.7" y1="575.5" x2="18.5" y2="580.2"/>
<line x1="24.4" y1="628.1" x2="29.0" y2="629.1"/>
<line x1="30.2" y1="619.7" x2="32.7" y2="622.6"/>
<line x1="93.9" y1="613.4" x2="94.3" y2="618.0"/>
<line x1="14.5" y1="607.6" x2="18.8" y2="610.4"/>
<line x1="24.4" y1="651.9" x2="28.7" y2="655.2"/>
<line x1="81.7" y1="644.7" x2="84.8" y2="644.9"/>
<line x1="28.7" y1="636.2" x2="26.4" y2="639.3"/>
<line x1="90.1" y1="621.2" x2="86.0" y2="621.5"/>
<line x1="103.9" y1="618.8" x2="102.0" y2="622.5"/>
<line x1="57.4" y1="623.9" x2="55.5" y2="628.1"/>
<line x1="18.6" y1="600.0" x2="11.3" y2="603.0"/>
<line x1="47.2" y1="648.3" x2="42.7" y2="649.2"/>
<line x1="97.6" y1="610.1" x2="101.9" y2="610.2"/>
<line x1="113.2" y1="577.5" x2="106.2" y2="578.3"/>
<line x1="77.6" y1="589.0" x2="70.3" y2="589.6"/>
<line x1="93.0" y1="618.1" x2="95.3" y2="622.5"/>
<line x1="35.5" y1="632.4" x2="39.8" y2="635.3"/>
<line x1="23.9" y1="631.7" x2="23.9" y2="636.2"/>
<line x1="49.3" y1="649.4" x2="56.8" y2="649.8"/>
<line x1="35.0" y1="602.5" x2="28.8" y2="607.5"/>
<line x1="50.9" y1="592.6" x2="45.4" y2="595.7"/>
<line x1="119.4" y1="603.9" x2="115.3" y2="610.0"/>
<line x1="67.7" y1="659.2" x2="65.0" y2="662.4"/>
<line x1="21.6" y1="588.8" x2="27.5" y2="593.5"/>
<line x1="99.4" y1="626.0" x2="102.3" y2="632.6"/>
<line x1="51.1" y1="599.3" x2="48.7" y2="606.3"/>
<line x1="121.9" y1="650.8" x2="121.3" y2="654.4"/>
<line x1="23.8" y1="577.6" x2="20.8" y2="579.0"/>
<line x1="102.7" y1="645.7" x2="101.1" y2="650.1"/>
<line x1="102.0" y1="606.8" x2="106.5" y2="610.6"/>
<line x1="21.2" y1="597.2" x2="19.7" y2="604.5"/>
<line x1="118.6" y1="613.7" x2="115.1" y2="616.4"/>
<line x1="107.3" y1="575.3" x2="113.4" y2="577.1"/>
<line x1="25.1" y1="650.6" x2="27.4" y2="652.8"/>
<line x1="125.8" y1="610.5" x2="128.9" y2="612.3"/>
<line x1="39.7" y1="638.4" x2="36.3" y2="639.4"/>
<line x1="55.5" y1="657.9" x2="60.0" y2="664.0"/>
<line x1="41.0" y1="615.4" x2="39.4" y2="618.5"/>
<line x1="16.4" y1="575.1" x2="21.1" y2="581.4"/>
<line x1="80.6" y1="613.0" x2="85.1" y2="613.9"/>
<line x1="117.2" y1="657.9" x2="124.6" y2="660.6"/>
<line x1="36.6" y1="627.5" x2="35.6" y2="635.3"/>
<line x1="91.2" y1="631.3" x2="90.7" y2="635.6"/>
<line x1="47.3" y1="595.5" x2="49.4" y2="598.1"/>
<line x1="125.3" y1="612.9" x2="122.6" y2="618.5"/>
<line x1="120.4" y1="607.9" x2="122.7" y2="611.8"/>
<line x1="48.4" y1="647.3" x2="52.7" y2="653.4"/>
<line x1="50.4" y1="621.2" x2="48.6" y2="626.8"/>
<line x1="40.1" y1="576.0" x2="44.2" y2="576.9"/>
<line x1="75.4" y1="580.3" x2="74.0" y2="583.4"/>
<line x1="45.4" y1="642.6" x2="40.4" y2="644.9"/>
<line x1="29.6" y1="617.5" x2="36.4" y2="619.1"/>
<line x1="121.3" y1="589.2" x2="114.5" y2="589.5"/>
<line x1="106.6" y1="601.8" x2="106.4" y2="605.3"/>
<line x1="117.9" y1="599.5" x2="124.6" y2="602.7"/>
<line x1="116.9" y1="576.9" x2="112.5" y2="578.3"/>
<line x1="104.6" y1="652.5" x2="99.5" y2="657.6"/>
<line x1="91.4" y1="589.6" x2="95.9" y2="592.0"/>
</g>
<circle cx="94.3" cy="631.8" r="2.15" fill="#9a9ec8" stroke="#5a66aa" stroke-width="0.7" opacity="0.62"/>
<circle cx="123.0" cy="644.0" r="2.33" fill="#9a9ec8" stroke="#5a66aa" stroke-width="0.7" opacity="0.74"/>
<circle cx="110.0" cy="613.3" r="2.24" fill="#9a9ec8" stroke="#5a66aa" stroke-width="0.7" opacity="0.68"/>
<circle cx="41.6" cy="576.3" r="2.39" fill="#9a9ec8" stroke="#5a66aa" stroke-width="0.7" opacity="0.70"/>
<circle cx="77.6" cy="579.6" r="2.21" fill="#9a9ec8" stroke="#5a66aa" stroke-width="0.7" opacity="0.63"/>
<circle cx="26.2" cy="596.6" r="2.50" fill="#9a9ec8" stroke="#5a66aa" stroke-width="0.7" opacity="0.70"/>
<circle cx="58.1" cy="627.1" r="2.14" fill="#9a9ec8" stroke="#5a66aa" stroke-width="0.7" opacity="0.60"/>
<circle cx="72.8" cy="617.4" r="2.39" fill="#9a9ec8" stroke="#5a66aa" stroke-width="0.7" opacity="0.71"/>
<circle cx="91.0" cy="637.3" r="2.14" fill="#9a9ec8" stroke="#5a66aa" stroke-width="0.7" opacity="0.72"/>
<circle cx="67.1" cy="593.6" r="2.25" fill="#9a9ec8" stroke="#5a66aa" stroke-width="0.7" opacity="0.74"/>
<circle cx="116.5" cy="653.4" r="2.17" fill="#9a9ec8" stroke="#5a66aa" stroke-width="0.7" opacity="0.76"/>
<circle cx="17.4" cy="580.4" r="2.31" fill="#9a9ec8" stroke="#5a66aa" stroke-width="0.7" opacity="0.82"/>
<circle cx="30.2" cy="640.3" r="2.53" fill="#9a9ec8" stroke="#5a66aa" stroke-width="0.7" opacity="0.68"/>
<circle cx="91.7" cy="647.5" r="2.22" fill="#9a9ec8" stroke="#5a66aa" stroke-width="0.7" opacity="0.78"/>
<circle cx="96.8" cy="625.5" r="2.51" fill="#9a9ec8" stroke="#5a66aa" stroke-width="0.7" opacity="0.82"/>
<circle cx="122.6" cy="623.5" r="2.11" fill="#9a9ec8" stroke="#5a66aa" stroke-width="0.7" opacity="0.66"/>
<circle cx="36.9" cy="623.3" r="2.45" fill="#9a9ec8" stroke="#5a66aa" stroke-width="0.7" opacity="0.61"/>
<circle cx="90.5" cy="636.1" r="2.21" fill="#9a9ec8" stroke="#5a66aa" stroke-width="0.7" opacity="0.73"/>
<circle cx="30.8" cy="637.2" r="2.02" fill="#9a9ec8" stroke="#5a66aa" stroke-width="0.7" opacity="0.85"/>
<circle cx="105.0" cy="628.4" r="2.16" fill="#9a9ec8" stroke="#5a66aa" stroke-width="0.7" opacity="0.83"/>
<circle cx="122.5" cy="586.2" r="2.47" fill="#9a9ec8" stroke="#5a66aa" stroke-width="0.7" opacity="0.81"/>
<circle cx="87.9" cy="634.6" r="2.27" fill="#9a9ec8" stroke="#5a66aa" stroke-width="0.7" opacity="0.83"/>
<circle cx="123.9" cy="607.2" r="2.48" fill="#9a9ec8" stroke="#5a66aa" stroke-width="0.7" opacity="0.71"/>
<circle cx="30.8" cy="602.3" r="2.08" fill="#9a9ec8" stroke="#5a66aa" stroke-width="0.7" opacity="0.83"/>
<circle cx="122.5" cy="584.5" r="2.36" fill="#9a9ec8" stroke="#5a66aa" stroke-width="0.7" opacity="0.70"/>
<circle cx="25.4" cy="599.7" r="2.15" fill="#9a9ec8" stroke="#5a66aa" stroke-width="0.7" opacity="0.79"/>
<circle cx="12.3" cy="590.6" r="2.26" fill="#9a9ec8" stroke="#5a66aa" stroke-width="0.7" opacity="0.61"/>
<circle cx="84.2" cy="626.5" r="2.50" fill="#9a9ec8" stroke="#5a66aa" stroke-width="0.7" opacity="0.65"/>
<circle cx="44.7" cy="621.0" r="2.16" fill="#9a9ec8" stroke="#5a66aa" stroke-width="0.7" opacity="0.75"/>
<circle cx="40.8" cy="633.2" r="2.47" fill="#9a9ec8" stroke="#5a66aa" stroke-width="0.7" opacity="0.80"/>
<circle cx="124.2" cy="621.3" r="2.29" fill="#9a9ec8" stroke="#5a66aa" stroke-width="0.7" opacity="0.81"/>
<circle cx="100.6" cy="623.4" r="2.23" fill="#9a9ec8" stroke="#5a66aa" stroke-width="0.7" opacity="0.67"/>
<circle cx="24.3" cy="643.9" r="2.07" fill="#9a9ec8" stroke="#5a66aa" stroke-width="0.7" opacity="0.79"/>
<circle cx="74.7" cy="657.5" r="2.46" fill="#9a9ec8" stroke="#5a66aa" stroke-width="0.7" opacity="0.84"/>
<circle cx="47.7" cy="617.6" r="0.99" fill="#4656a8" opacity="0.45"/>
<circle cx="62.8" cy="613.0" r="0.92" fill="#4656a8" opacity="0.76"/>
<circle cx="55.4" cy="591.8" r="0.85" fill="#4656a8" opacity="0.69"/>
<circle cx="113.5" cy="645.8" r="1.24" fill="#4656a8" opacity="0.63"/>
<circle cx="125.8" cy="600.6" r="1.04" fill="#4656a8" opacity="0.66"/>
<circle cx="85.7" cy="630.2" r="0.92" fill="#4656a8" opacity="0.70"/>
<circle cx="84.9" cy="655.1" r="1.17" fill="#4656a8" opacity="0.76"/>
<circle cx="105.9" cy="626.5" r="0.85" fill="#4656a8" opacity="0.73"/>
<circle cx="112.7" cy="621.2" r="1.16" fill="#4656a8" opacity="0.64"/>
<circle cx="97.7" cy="610.7" r="1.06" fill="#4656a8" opacity="0.46"/>
<circle cx="70.3" cy="655.9" r="0.92" fill="#4656a8" opacity="0.73"/>
<circle cx="81.6" cy="592.2" r="1.19" fill="#4656a8" opacity="0.56"/>
<circle cx="38.6" cy="622.6" r="1.13" fill="#4656a8" opacity="0.80"/>
<circle cx="93.4" cy="647.0" r="1.19" fill="#4656a8" opacity="0.70"/>
<circle cx="30.9" cy="658.2" r="1.20" fill="#4656a8" opacity="0.74"/>
<circle cx="53.5" cy="639.0" r="1.09" fill="#4656a8" opacity="0.74"/>
<circle cx="68.6" cy="582.8" r="0.73" fill="#4656a8" opacity="0.69"/>
<circle cx="114.4" cy="592.9" r="1.09" fill="#4656a8" opacity="0.78"/>
<circle cx="123.1" cy="627.1" r="1.16" fill="#4656a8" opacity="0.50"/>
<circle cx="68.9" cy="606.8" r="0.83" fill="#4656a8" opacity="0.78"/>
<circle cx="65.2" cy="624.2" r="1.09" fill="#4656a8" opacity="0.58"/>
<circle cx="18.4" cy="606.9" r="0.95" fill="#4656a8" opacity="0.79"/>
<circle cx="116.4" cy="577.3" r="1.16" fill="#4656a8" opacity="0.47"/>
<circle cx="43.4" cy="584.3" r="0.72" fill="#4656a8" opacity="0.71"/>
<circle cx="123.7" cy="629.6" r="0.73" fill="#4656a8" opacity="0.82"/>
<circle cx="76.5" cy="619.3" r="0.89" fill="#4656a8" opacity="0.62"/>
<circle cx="34.8" cy="650.2" r="1.06" fill="#4656a8" opacity="0.74"/>
<circle cx="40.8" cy="658.5" r="1.21" fill="#4656a8" opacity="0.79"/>
<circle cx="110.1" cy="578.8" r="1.15" fill="#4656a8" opacity="0.64"/>
<circle cx="54.5" cy="659.2" r="0.99" fill="#4656a8" opacity="0.63"/>
<circle cx="22.2" cy="643.3" r="0.72" fill="#4656a8" opacity="0.60"/>
<circle cx="96.3" cy="601.2" r="1.14" fill="#4656a8" opacity="0.77"/>
<circle cx="110.6" cy="600.4" r="0.83" fill="#4656a8" opacity="0.67"/>
<circle cx="122.2" cy="624.6" r="1.06" fill="#4656a8" opacity="0.63"/>
<circle cx="125.8" cy="636.3" r="1.09" fill="#4656a8" opacity="0.66"/>
<circle cx="115.3" cy="646.0" r="0.79" fill="#4656a8" opacity="0.60"/>
<circle cx="71.9" cy="582.6" r="1.02" fill="#4656a8" opacity="0.47"/>
<circle cx="105.8" cy="630.4" r="0.86" fill="#4656a8" opacity="0.59"/>
<circle cx="49.3" cy="638.8" r="0.99" fill="#4656a8" opacity="0.51"/>
<circle cx="117.3" cy="602.3" r="0.74" fill="#4656a8" opacity="0.84"/>
<circle cx="123.7" cy="644.6" r="1.21" fill="#4656a8" opacity="0.77"/>
<circle cx="126.3" cy="641.9" r="1.11" fill="#4656a8" opacity="0.59"/>
<circle cx="120.5" cy="629.7" r="0.96" fill="#4656a8" opacity="0.84"/>
<circle cx="73.2" cy="588.7" r="1.08" fill="#4656a8" opacity="0.68"/>
<circle cx="116.4" cy="590.1" r="1.10" fill="#4656a8" opacity="0.47"/>
<circle cx="23.3" cy="621.3" r="0.76" fill="#4656a8" opacity="0.55"/>
<circle cx="84.7" cy="619.6" r="0.74" fill="#4656a8" opacity="0.79"/>
<circle cx="60.9" cy="632.5" r="1.22" fill="#4656a8" opacity="0.77"/>
<circle cx="100.7" cy="618.6" r="0.92" fill="#4656a8" opacity="0.80"/>
<circle cx="103.7" cy="624.7" r="1.17" fill="#4656a8" opacity="0.63"/>
<circle cx="12.4" cy="584.6" r="1.19" fill="#4656a8" opacity="0.75"/>
<circle cx="123.8" cy="621.1" r="1.00" fill="#4656a8" opacity="0.66"/>
<circle cx="58.9" cy="628.6" r="0.87" fill="#4656a8" opacity="0.65"/>
<circle cx="96.8" cy="623.0" r="0.92" fill="#4656a8" opacity="0.82"/>
<circle cx="118.6" cy="647.2" r="0.96" fill="#4656a8" opacity="0.77"/>
<circle cx="54.8" cy="638.9" r="0.89" fill="#4656a8" opacity="0.63"/>
<circle cx="13.9" cy="589.0" r="1.17" fill="#4656a8" opacity="0.69"/>
<circle cx="44.9" cy="660.3" r="0.98" fill="#4656a8" opacity="0.75"/>
<circle cx="67.9" cy="635.9" r="1.23" fill="#4656a8" opacity="0.74"/>
<circle cx="38.3" cy="576.5" r="0.96" fill="#4656a8" opacity="0.83"/>
<circle cx="75.2" cy="620.3" r="1.22" fill="#4656a8" opacity="0.84"/>
<circle cx="89.3" cy="584.4" r="0.85" fill="#4656a8" opacity="0.64"/>
<circle cx="103.3" cy="648.2" r="1.07" fill="#4656a8" opacity="0.48"/>
<circle cx="56.8" cy="631.9" r="0.98" fill="#4656a8" opacity="0.81"/>
<circle cx="25.2" cy="647.9" r="0.91" fill="#4656a8" opacity="0.81"/>
<circle cx="35.0" cy="619.1" r="1.19" fill="#4656a8" opacity="0.85"/>
<circle cx="50.7" cy="616.1" r="1.24" fill="#4656a8" opacity="0.71"/>
<circle cx="118.6" cy="657.8" r="1.00" fill="#4656a8" opacity="0.63"/>
<circle cx="99.5" cy="646.9" r="0.85" fill="#4656a8" opacity="0.73"/>
<circle cx="59.3" cy="585.4" r="1.01" fill="#4656a8" opacity="0.69"/>
<circle cx="122.6" cy="620.2" r="0.78" fill="#4656a8" opacity="0.62"/>
<circle cx="44.1" cy="634.2" r="0.82" fill="#4656a8" opacity="0.60"/>
<circle cx="73.5" cy="579.2" r="1.08" fill="#4656a8" opacity="0.71"/>
<circle cx="105.5" cy="651.1" r="0.97" fill="#4656a8" opacity="0.58"/>
<circle cx="26.6" cy="586.3" r="0.75" fill="#4656a8" opacity="0.67"/>
<circle cx="113.8" cy="610.6" r="0.71" fill="#4656a8" opacity="0.57"/>
<circle cx="82.8" cy="581.5" r="1.07" fill="#4656a8" opacity="0.84"/>
<circle cx="14.5" cy="602.7" r="0.84" fill="#4656a8" opacity="0.76"/>
<circle cx="90.4" cy="577.7" r="1.10" fill="#4656a8" opacity="0.49"/>
<circle cx="48.4" cy="597.4" r="0.72" fill="#4656a8" opacity="0.51"/>
<circle cx="39.7" cy="632.9" r="0.98" fill="#4656a8" opacity="0.58"/>
<circle cx="85.8" cy="647.0" r="1.18" fill="#4656a8" opacity="0.61"/>
<circle cx="90.2" cy="627.8" r="1.01" fill="#4656a8" opacity="0.66"/>
<circle cx="74.8" cy="595.8" r="0.99" fill="#4656a8" opacity="0.64"/>
<circle cx="58.3" cy="583.2" r="1.06" fill="#4656a8" opacity="0.67"/>
<circle cx="90.8" cy="576.8" r="1.08" fill="#4656a8" opacity="0.51"/>
<circle cx="50.5" cy="650.9" r="1.17" fill="#4656a8" opacity="0.60"/>
<circle cx="117.9" cy="629.7" r="1.01" fill="#4656a8" opacity="0.80"/>
<circle cx="64.8" cy="641.4" r="0.93" fill="#4656a8" opacity="0.82"/>
<circle cx="58.9" cy="626.5" r="0.96" fill="#4656a8" opacity="0.46"/>
<circle cx="93.1" cy="574.3" r="0.76" fill="#4656a8" opacity="0.51"/>
<circle cx="70.4" cy="604.9" r="1.24" fill="#4656a8" opacity="0.81"/>
<circle cx="40.1" cy="644.0" r="1.01" fill="#4656a8" opacity="0.59"/>
<circle cx="48.0" cy="650.1" r="1.06" fill="#4656a8" opacity="0.85"/>
<circle cx="56.0" cy="646.2" r="1.09" fill="#4656a8" opacity="0.49"/>
<circle cx="102.3" cy="614.0" r="0.97" fill="#4656a8" opacity="0.76"/>
<circle cx="95.3" cy="590.9" r="1.00" fill="#4656a8" opacity="0.68"/>
<circle cx="118.7" cy="646.7" r="0.91" fill="#4656a8" opacity="0.49"/>
<circle cx="14.8" cy="580.6" r="1.12" fill="#4656a8" opacity="0.72"/>
<circle cx="103.9" cy="599.1" r="1.23" fill="#4656a8" opacity="0.78"/>
<circle cx="73.9" cy="607.9" r="1.14" fill="#4656a8" opacity="0.84"/>
<circle cx="116.5" cy="631.4" r="0.83" fill="#4656a8" opacity="0.76"/>
<circle cx="119.7" cy="657.1" r="1.02" fill="#4656a8" opacity="0.66"/>
<circle cx="95.4" cy="634.6" r="1.06" fill="#4656a8" opacity="0.66"/>
<circle cx="40.4" cy="641.5" r="1.05" fill="#4656a8" opacity="0.60"/>
<circle cx="76.4" cy="629.6" r="1.24" fill="#4656a8" opacity="0.55"/>
<circle cx="13.2" cy="656.6" r="0.85" fill="#4656a8" opacity="0.62"/>
<circle cx="80.5" cy="659.3" r="0.88" fill="#4656a8" opacity="0.66"/>
<circle cx="63.6" cy="617.5" r="0.79" fill="#4656a8" opacity="0.61"/>
<circle cx="109.3" cy="641.6" r="1.10" fill="#4656a8" opacity="0.58"/>
<circle cx="28.3" cy="596.2" r="0.85" fill="#4656a8" opacity="0.64"/>
<circle cx="29.0" cy="585.4" r="0.81" fill="#4656a8" opacity="0.77"/>
<circle cx="73.8" cy="591.3" r="1.18" fill="#4656a8" opacity="0.68"/>
<circle cx="75.7" cy="608.0" r="1.04" fill="#4656a8" opacity="0.48"/>
<circle cx="26.7" cy="620.7" r="0.83" fill="#4656a8" opacity="0.60"/>
<circle cx="53.0" cy="646.6" r="1.09" fill="#4656a8" opacity="0.59"/>
<circle cx="35.9" cy="614.2" r="1.15" fill="#4656a8" opacity="0.69"/>
<circle cx="82.8" cy="639.3" r="0.73" fill="#4656a8" opacity="0.78"/>
<circle cx="84.9" cy="595.4" r="0.98" fill="#4656a8" opacity="0.50"/>
<circle cx="116.4" cy="635.3" r="0.91" fill="#4656a8" opacity="0.82"/>
<circle cx="27.3" cy="636.0" r="0.70" fill="#4656a8" opacity="0.50"/>
<circle cx="35.1" cy="640.1" r="0.97" fill="#4656a8" opacity="0.70"/>
<circle cx="123.5" cy="640.6" r="0.85" fill="#4656a8" opacity="0.49"/>
<circle cx="64.2" cy="578.1" r="1.15" fill="#4656a8" opacity="0.67"/>
<circle cx="118.5" cy="652.6" r="1.07" fill="#4656a8" opacity="0.47"/>
<circle cx="72.0" cy="591.2" r="1.18" fill="#4656a8" opacity="0.84"/>
<circle cx="64.7" cy="646.2" r="0.78" fill="#4656a8" opacity="0.81"/>
<circle cx="126.1" cy="646.3" r="1.25" fill="#4656a8" opacity="0.77"/>
<circle cx="109.0" cy="630.0" r="1.20" fill="#4656a8" opacity="0.64"/>
<circle cx="102.6" cy="641.1" r="1.25" fill="#4656a8" opacity="0.77"/>
<circle cx="13.5" cy="652.1" r="0.90" fill="#4656a8" opacity="0.67"/>
<circle cx="85.4" cy="624.5" r="1.05" fill="#4656a8" opacity="0.79"/>
<circle cx="12.2" cy="588.1" r="0.82" fill="#4656a8" opacity="0.81"/>
<circle cx="28.9" cy="583.5" r="0.98" fill="#4656a8" opacity="0.78"/>
<circle cx="126.7" cy="647.7" r="0.72" fill="#4656a8" opacity="0.48"/>
<circle cx="84.6" cy="645.0" r="1.23" fill="#4656a8" opacity="0.67"/>
<circle cx="78.0" cy="627.6" r="0.79" fill="#4656a8" opacity="0.82"/>
<circle cx="42.6" cy="581.4" r="1.10" fill="#4656a8" opacity="0.56"/>
<circle cx="124.4" cy="645.1" r="0.87" fill="#4656a8" opacity="0.82"/>
<circle cx="53.8" cy="638.7" r="0.87" fill="#4656a8" opacity="0.75"/>
<rect x="117.20" y="657.30" width="7.00" height="1.30" fill="#ffffff" />
</g>
<clipPath id="clip2"><rect x="132.3" y="574.2" width="115.4" height="86.3"/></clipPath>
<filter id="bl2" x="-20%" y="-20%" width="140%" height="140%"><feGaussianBlur stdDeviation="1.8"/></filter>
<filter id="bl2s" x="-50%" y="-50%" width="200%" height="200%"><feGaussianBlur stdDeviation="0.5"/></filter>
<filter id="nf2_0" filterUnits="userSpaceOnUse" x="132.3" y="574.2" width="115.4" height="86.3" color-interpolation-filters="sRGB"><feTurbulence type="fractalNoise" baseFrequency="0.07" numOctaves="2" seed="20"/><feColorMatrix type="matrix" values="0 0 0 0 0.659 0 0 0 0 0.518 0 0 0 0 0.408 6.0 0 0 0 -2.7"/></filter>
<filter id="nf2_1" filterUnits="userSpaceOnUse" x="132.3" y="574.2" width="115.4" height="86.3" color-interpolation-filters="sRGB"><feTurbulence type="fractalNoise" baseFrequency="0.3" numOctaves="2" seed="21"/><feColorMatrix type="matrix" values="0 0 0 0 0.953 0 0 0 0 0.925 0 0 0 0 0.902 3.5 0 0 0 -1.6"/></filter>
<g clip-path="url(#clip2)">
<rect x="132.30" y="574.20" width="115.40" height="86.30" fill="#cfbdb0" />
<rect x="132.3" y="574.2" width="115.4" height="86.3" filter="url(#nf2_0)" opacity="0.4"/>
<rect x="132.3" y="574.2" width="115.4" height="86.3" filter="url(#nf2_1)" opacity="0.4"/>
<g filter="url(#bl2)" fill="none" stroke="#ede7e3" stroke-linecap="round" stroke-linejoin="round">
<path d="M132.0,579.1 L137.1,590.9 L143.9,599.4 L154.0,607.0 L171.0,607.0 L187.9,607.0" stroke-width="5"/>
<path d="M187.9,607.9 L198.0,596.0 L204.8,584.2 L207.4,574.0" stroke-width="5"/>
<path d="M196.4,604.5 L191.3,621.4 L182.8,631.6 L174.3,643.4 L167.6,661.0" stroke-width="5"/>
<path d="M233.6,574.0 L240.4,584.2 L248.0,589.2" stroke-width="14"/>
<path d="M248.0,574.0 L233.6,580.8" stroke-width="8"/>
<path d="M204.8,614.6 L220.1,619.7 L226.8,629.9 L220.9,646.8 L224.3,661.0" stroke-width="4"/>
<path d="M132.0,648.5 L145.5,645.1 L157.4,638.4" stroke-width="4"/>
<path d="M132.0,601.1 L135.4,618.0" stroke-width="4"/>
<path d="M162.5,584.2 L169.3,594.3" stroke-width="3"/>
<path d="M148.9,624.8 L159.1,629.9" stroke-width="3"/>
</g>
<circle cx="242.6" cy="656.0" r="0.97" fill="#8a8ec4" stroke="#4e5aa6" stroke-width="0.7" opacity="0.58"/>
<circle cx="228.7" cy="637.7" r="1.22" fill="#8a8ec4" stroke="#4e5aa6" stroke-width="0.7" opacity="0.66"/>
<circle cx="202.2" cy="626.6" r="1.18" fill="#8a8ec4" stroke="#4e5aa6" stroke-width="0.7" opacity="0.61"/>
<circle cx="182.0" cy="608.2" r="1.24" fill="#8a8ec4" stroke="#4e5aa6" stroke-width="0.7" opacity="0.90"/>
<circle cx="241.9" cy="621.2" r="1.13" fill="#8a8ec4" stroke="#4e5aa6" stroke-width="0.7" opacity="0.64"/>
<circle cx="136.4" cy="576.6" r="1.14" fill="#8a8ec4" stroke="#4e5aa6" stroke-width="0.7" opacity="0.66"/>
<circle cx="176.2" cy="651.2" r="1.16" fill="#8a8ec4" stroke="#4e5aa6" stroke-width="0.7" opacity="0.75"/>
<circle cx="159.5" cy="576.3" r="1.08" fill="#8a8ec4" stroke="#4e5aa6" stroke-width="0.7" opacity="0.60"/>
<circle cx="191.2" cy="660.4" r="1.22" fill="#8a8ec4" stroke="#4e5aa6" stroke-width="0.7" opacity="0.61"/>
<circle cx="235.4" cy="643.0" r="1.24" fill="#8a8ec4" stroke="#4e5aa6" stroke-width="0.7" opacity="0.87"/>
<circle cx="220.3" cy="642.4" r="1.09" fill="#8a8ec4" stroke="#4e5aa6" stroke-width="0.7" opacity="0.89"/>
<circle cx="243.3" cy="588.1" r="1.25" fill="#8a8ec4" stroke="#4e5aa6" stroke-width="0.7" opacity="0.80"/>
<circle cx="185.5" cy="620.0" r="1.15" fill="#8a8ec4" stroke="#4e5aa6" stroke-width="0.7" opacity="0.87"/>
<circle cx="190.1" cy="646.0" r="1.09" fill="#8a8ec4" stroke="#4e5aa6" stroke-width="0.7" opacity="0.86"/>
<circle cx="236.1" cy="614.0" r="1.18" fill="#8a8ec4" stroke="#4e5aa6" stroke-width="0.7" opacity="0.87"/>
<circle cx="215.8" cy="616.2" r="1.04" fill="#8a8ec4" stroke="#4e5aa6" stroke-width="0.7" opacity="0.66"/>
<circle cx="213.0" cy="588.5" r="1.31" fill="#8a8ec4" stroke="#4e5aa6" stroke-width="0.7" opacity="0.64"/>
<circle cx="237.5" cy="600.9" r="1.33" fill="#8a8ec4" stroke="#4e5aa6" stroke-width="0.7" opacity="0.80"/>
<circle cx="190.5" cy="618.9" r="1.21" fill="#8a8ec4" stroke="#4e5aa6" stroke-width="0.7" opacity="0.76"/>
<circle cx="168.3" cy="592.1" r="1.15" fill="#8a8ec4" stroke="#4e5aa6" stroke-width="0.7" opacity="0.88"/>
<circle cx="204.2" cy="580.7" r="1.28" fill="#8a8ec4" stroke="#4e5aa6" stroke-width="0.7" opacity="0.80"/>
<circle cx="237.0" cy="590.7" r="1.25" fill="#8a8ec4" stroke="#4e5aa6" stroke-width="0.7" opacity="0.57"/>
<circle cx="207.6" cy="597.8" r="1.04" fill="#8a8ec4" stroke="#4e5aa6" stroke-width="0.7" opacity="0.86"/>
<circle cx="144.6" cy="619.3" r="1.29" fill="#8a8ec4" stroke="#4e5aa6" stroke-width="0.7" opacity="0.64"/>
<circle cx="156.6" cy="650.2" r="1.12" fill="#8a8ec4" stroke="#4e5aa6" stroke-width="0.7" opacity="0.80"/>
<circle cx="136.0" cy="605.5" r="1.02" fill="#8a8ec4" stroke="#4e5aa6" stroke-width="0.7" opacity="0.79"/>
<circle cx="141.9" cy="656.6" r="0.96" fill="#8a8ec4" stroke="#4e5aa6" stroke-width="0.7" opacity="0.81"/>
<circle cx="134.7" cy="596.3" r="1.28" fill="#8a8ec4" stroke="#4e5aa6" stroke-width="0.7" opacity="0.60"/>
<circle cx="153.5" cy="633.9" r="1.10" fill="#8a8ec4" stroke="#4e5aa6" stroke-width="0.7" opacity="0.57"/>
<circle cx="246.5" cy="587.3" r="0.96" fill="#8a8ec4" stroke="#4e5aa6" stroke-width="0.7" opacity="0.67"/>
<circle cx="203.3" cy="638.3" r="1.00" fill="#8a8ec4" stroke="#4e5aa6" stroke-width="0.7" opacity="0.67"/>
<circle cx="135.9" cy="612.9" r="1.26" fill="#8a8ec4" stroke="#4e5aa6" stroke-width="0.7" opacity="0.81"/>
<circle cx="236.4" cy="639.4" r="1.29" fill="#8a8ec4" stroke="#4e5aa6" stroke-width="0.7" opacity="0.80"/>
<circle cx="186.9" cy="593.7" r="1.21" fill="#8a8ec4" stroke="#4e5aa6" stroke-width="0.7" opacity="0.66"/>
<circle cx="144.1" cy="612.8" r="1.30" fill="#8a8ec4" stroke="#4e5aa6" stroke-width="0.7" opacity="0.59"/>
<circle cx="199.8" cy="608.1" r="1.16" fill="#8a8ec4" stroke="#4e5aa6" stroke-width="0.7" opacity="0.60"/>
<circle cx="243.1" cy="596.6" r="1.19" fill="#8a8ec4" stroke="#4e5aa6" stroke-width="0.7" opacity="0.70"/>
<circle cx="134.4" cy="622.4" r="1.01" fill="#8a8ec4" stroke="#4e5aa6" stroke-width="0.7" opacity="0.57"/>
<circle cx="136.2" cy="588.1" r="0.99" fill="#8a8ec4" stroke="#4e5aa6" stroke-width="0.7" opacity="0.77"/>
<circle cx="191.0" cy="659.1" r="1.32" fill="#8a8ec4" stroke="#4e5aa6" stroke-width="0.7" opacity="0.90"/>
<circle cx="159.1" cy="612.6" r="1.05" fill="#8a8ec4" stroke="#4e5aa6" stroke-width="0.7" opacity="0.76"/>
<circle cx="204.3" cy="643.3" r="1.23" fill="#8a8ec4" stroke="#4e5aa6" stroke-width="0.7" opacity="0.64"/>
<circle cx="181.1" cy="619.6" r="0.95" fill="#8a8ec4" stroke="#4e5aa6" stroke-width="0.7" opacity="0.56"/>
<circle cx="179.5" cy="583.8" r="1.24" fill="#8a8ec4" stroke="#4e5aa6" stroke-width="0.7" opacity="0.63"/>
<circle cx="143.8" cy="589.9" r="1.04" fill="#8a8ec4" stroke="#4e5aa6" stroke-width="0.7" opacity="0.63"/>
<circle cx="192.4" cy="614.3" r="1.07" fill="#8a8ec4" stroke="#4e5aa6" stroke-width="0.7" opacity="0.77"/>
<circle cx="156.8" cy="652.4" r="1.34" fill="#8a8ec4" stroke="#4e5aa6" stroke-width="0.7" opacity="0.81"/>
<circle cx="182.4" cy="618.3" r="1.18" fill="#8a8ec4" stroke="#4e5aa6" stroke-width="0.7" opacity="0.57"/>
<circle cx="180.5" cy="619.5" r="1.02" fill="#8a8ec4" stroke="#4e5aa6" stroke-width="0.7" opacity="0.58"/>
<circle cx="224.9" cy="605.8" r="1.16" fill="#8a8ec4" stroke="#4e5aa6" stroke-width="0.7" opacity="0.87"/>
<circle cx="202.8" cy="599.2" r="1.34" fill="#8a8ec4" stroke="#4e5aa6" stroke-width="0.7" opacity="0.68"/>
<circle cx="134.5" cy="633.3" r="0.99" fill="#8a8ec4" stroke="#4e5aa6" stroke-width="0.7" opacity="0.66"/>
<circle cx="229.3" cy="632.2" r="0.96" fill="#8a8ec4" stroke="#4e5aa6" stroke-width="0.7" opacity="0.71"/>
<circle cx="179.7" cy="616.1" r="1.03" fill="#8a8ec4" stroke="#4e5aa6" stroke-width="0.7" opacity="0.76"/>
<circle cx="140.8" cy="598.7" r="1.10" fill="#8a8ec4" stroke="#4e5aa6" stroke-width="0.7" opacity="0.88"/>
<circle cx="141.1" cy="639.4" r="1.03" fill="#8a8ec4" stroke="#4e5aa6" stroke-width="0.7" opacity="0.75"/>
<circle cx="177.5" cy="614.2" r="1.25" fill="#8a8ec4" stroke="#4e5aa6" stroke-width="0.7" opacity="0.69"/>
<circle cx="146.3" cy="584.7" r="0.98" fill="#8a8ec4" stroke="#4e5aa6" stroke-width="0.7" opacity="0.85"/>
<circle cx="206.3" cy="657.0" r="1.23" fill="#8a8ec4" stroke="#4e5aa6" stroke-width="0.7" opacity="0.56"/>
<circle cx="208.4" cy="641.3" r="1.24" fill="#8a8ec4" stroke="#4e5aa6" stroke-width="0.7" opacity="0.72"/>
<circle cx="173.6" cy="613.6" r="1.27" fill="#8a8ec4" stroke="#4e5aa6" stroke-width="0.7" opacity="0.64"/>
<circle cx="193.0" cy="615.4" r="1.33" fill="#8a8ec4" stroke="#4e5aa6" stroke-width="0.7" opacity="0.83"/>
<circle cx="239.9" cy="646.3" r="1.07" fill="#8a8ec4" stroke="#4e5aa6" stroke-width="0.7" opacity="0.63"/>
<circle cx="188.7" cy="596.6" r="1.12" fill="#8a8ec4" stroke="#4e5aa6" stroke-width="0.7" opacity="0.79"/>
<circle cx="238.3" cy="624.8" r="1.28" fill="#8a8ec4" stroke="#4e5aa6" stroke-width="0.7" opacity="0.58"/>
<circle cx="173.4" cy="660.3" r="1.01" fill="#8a8ec4" stroke="#4e5aa6" stroke-width="0.7" opacity="0.70"/>
<circle cx="140.0" cy="581.6" r="1.31" fill="#8a8ec4" stroke="#4e5aa6" stroke-width="0.7" opacity="0.90"/>
<circle cx="207.1" cy="585.3" r="1.07" fill="#8a8ec4" stroke="#4e5aa6" stroke-width="0.7" opacity="0.63"/>
<circle cx="209.7" cy="633.0" r="1.13" fill="#8a8ec4" stroke="#4e5aa6" stroke-width="0.7" opacity="0.73"/>
<circle cx="145.2" cy="620.9" r="1.33" fill="#8a8ec4" stroke="#4e5aa6" stroke-width="0.7" opacity="0.81"/>
<circle cx="143.4" cy="618.8" r="1.24" fill="#8a8ec4" stroke="#4e5aa6" stroke-width="0.7" opacity="0.64"/>
<circle cx="235.6" cy="614.0" r="1.23" fill="#8a8ec4" stroke="#4e5aa6" stroke-width="0.7" opacity="0.69"/>
<circle cx="247.1" cy="641.8" r="1.18" fill="#8a8ec4" stroke="#4e5aa6" stroke-width="0.7" opacity="0.60"/>
<circle cx="183.2" cy="576.7" r="1.19" fill="#8a8ec4" stroke="#4e5aa6" stroke-width="0.7" opacity="0.86"/>
<circle cx="153.1" cy="618.2" r="1.14" fill="#8a8ec4" stroke="#4e5aa6" stroke-width="0.7" opacity="0.69"/>
<circle cx="214.3" cy="655.0" r="1.23" fill="#8a8ec4" stroke="#4e5aa6" stroke-width="0.7" opacity="0.72"/>
<circle cx="243.3" cy="602.7" r="1.25" fill="#8a8ec4" stroke="#4e5aa6" stroke-width="0.7" opacity="0.78"/>
<circle cx="220.2" cy="647.7" r="1.04" fill="#8a8ec4" stroke="#4e5aa6" stroke-width="0.7" opacity="0.77"/>
<circle cx="178.8" cy="631.8" r="1.34" fill="#8a8ec4" stroke="#4e5aa6" stroke-width="0.7" opacity="0.77"/>
<circle cx="133.6" cy="614.3" r="1.23" fill="#8a8ec4" stroke="#4e5aa6" stroke-width="0.7" opacity="0.86"/>
<circle cx="207.3" cy="644.6" r="0.96" fill="#8a8ec4" stroke="#4e5aa6" stroke-width="0.7" opacity="0.88"/>
<circle cx="216.5" cy="626.5" r="1.31" fill="#8a8ec4" stroke="#4e5aa6" stroke-width="0.7" opacity="0.86"/>
<circle cx="143.9" cy="644.6" r="1.26" fill="#8a8ec4" stroke="#4e5aa6" stroke-width="0.7" opacity="0.62"/>
<circle cx="218.2" cy="624.8" r="1.03" fill="#8a8ec4" stroke="#4e5aa6" stroke-width="0.7" opacity="0.83"/>
<circle cx="148.2" cy="627.0" r="1.12" fill="#8a8ec4" stroke="#4e5aa6" stroke-width="0.7" opacity="0.64"/>
<circle cx="197.6" cy="614.5" r="1.03" fill="#8a8ec4" stroke="#4e5aa6" stroke-width="0.7" opacity="0.89"/>
<circle cx="140.7" cy="574.5" r="1.14" fill="#8a8ec4" stroke="#4e5aa6" stroke-width="0.7" opacity="0.84"/>
<circle cx="208.3" cy="639.3" r="1.14" fill="#8a8ec4" stroke="#4e5aa6" stroke-width="0.7" opacity="0.79"/>
<circle cx="170.9" cy="597.2" r="1.15" fill="#8a8ec4" stroke="#4e5aa6" stroke-width="0.7" opacity="0.56"/>
<circle cx="141.5" cy="639.3" r="1.02" fill="#8a8ec4" stroke="#4e5aa6" stroke-width="0.7" opacity="0.81"/>
<circle cx="222.8" cy="609.1" r="1.22" fill="#8a8ec4" stroke="#4e5aa6" stroke-width="0.7" opacity="0.83"/>
<circle cx="232.0" cy="585.8" r="1.02" fill="#8a8ec4" stroke="#4e5aa6" stroke-width="0.7" opacity="0.68"/>
<circle cx="185.9" cy="599.6" r="0.95" fill="#8a8ec4" stroke="#4e5aa6" stroke-width="0.7" opacity="0.75"/>
<circle cx="243.9" cy="605.8" r="1.17" fill="#8a8ec4" stroke="#4e5aa6" stroke-width="0.7" opacity="0.68"/>
<circle cx="183.4" cy="649.3" r="1.07" fill="#8a8ec4" stroke="#4e5aa6" stroke-width="0.7" opacity="0.78"/>
<circle cx="188.1" cy="620.7" r="1.32" fill="#8a8ec4" stroke="#4e5aa6" stroke-width="0.7" opacity="0.58"/>
<circle cx="227.4" cy="600.4" r="1.21" fill="#8a8ec4" stroke="#4e5aa6" stroke-width="0.7" opacity="0.83"/>
<circle cx="207.7" cy="608.1" r="1.29" fill="#8a8ec4" stroke="#4e5aa6" stroke-width="0.7" opacity="0.58"/>
<circle cx="205.4" cy="608.0" r="1.16" fill="#8a8ec4" stroke="#4e5aa6" stroke-width="0.7" opacity="0.85"/>
<circle cx="224.4" cy="628.5" r="1.07" fill="#8a8ec4" stroke="#4e5aa6" stroke-width="0.7" opacity="0.63"/>
<circle cx="185.1" cy="594.2" r="1.06" fill="#8a8ec4" stroke="#4e5aa6" stroke-width="0.7" opacity="0.89"/>
<circle cx="145.2" cy="644.8" r="1.10" fill="#8a8ec4" stroke="#4e5aa6" stroke-width="0.7" opacity="0.68"/>
<circle cx="169.0" cy="580.9" r="1.13" fill="#8a8ec4" stroke="#4e5aa6" stroke-width="0.7" opacity="0.61"/>
<circle cx="183.3" cy="599.4" r="1.31" fill="#8a8ec4" stroke="#4e5aa6" stroke-width="0.7" opacity="0.87"/>
<circle cx="183.3" cy="629.4" r="1.32" fill="#8a8ec4" stroke="#4e5aa6" stroke-width="0.7" opacity="0.66"/>
<circle cx="143.8" cy="594.7" r="1.03" fill="#8a8ec4" stroke="#4e5aa6" stroke-width="0.7" opacity="0.79"/>
<circle cx="175.4" cy="604.9" r="1.27" fill="#8a8ec4" stroke="#4e5aa6" stroke-width="0.7" opacity="0.63"/>
<circle cx="225.6" cy="628.8" r="1.11" fill="#8a8ec4" stroke="#4e5aa6" stroke-width="0.7" opacity="0.84"/>
<circle cx="171.8" cy="650.0" r="1.32" fill="#8a8ec4" stroke="#4e5aa6" stroke-width="0.7" opacity="0.73"/>
<circle cx="211.9" cy="656.1" r="1.25" fill="#8a8ec4" stroke="#4e5aa6" stroke-width="0.7" opacity="0.81"/>
<circle cx="232.6" cy="654.9" r="1.25" fill="#8a8ec4" stroke="#4e5aa6" stroke-width="0.7" opacity="0.89"/>
<circle cx="166.0" cy="627.9" r="1.22" fill="#8a8ec4" stroke="#4e5aa6" stroke-width="0.7" opacity="0.68"/>
<circle cx="177.9" cy="589.3" r="1.33" fill="#8a8ec4" stroke="#4e5aa6" stroke-width="0.7" opacity="0.67"/>
<circle cx="187.3" cy="651.3" r="1.02" fill="#8a8ec4" stroke="#4e5aa6" stroke-width="0.7" opacity="0.89"/>
<circle cx="147.0" cy="576.6" r="1.09" fill="#8a8ec4" stroke="#4e5aa6" stroke-width="0.7" opacity="0.68"/>
<circle cx="238.2" cy="650.4" r="1.25" fill="#8a8ec4" stroke="#4e5aa6" stroke-width="0.7" opacity="0.70"/>
<circle cx="194.9" cy="594.6" r="1.28" fill="#8a8ec4" stroke="#4e5aa6" stroke-width="0.7" opacity="0.69"/>
<circle cx="165.1" cy="629.2" r="1.01" fill="#8a8ec4" stroke="#4e5aa6" stroke-width="0.7" opacity="0.66"/>
<circle cx="239.2" cy="582.4" r="1.01" fill="#8a8ec4" stroke="#4e5aa6" stroke-width="0.7" opacity="0.62"/>
<circle cx="161.3" cy="610.5" r="1.05" fill="#8a8ec4" stroke="#4e5aa6" stroke-width="0.7" opacity="0.67"/>
<circle cx="160.7" cy="594.9" r="1.19" fill="#8a8ec4" stroke="#4e5aa6" stroke-width="0.7" opacity="0.67"/>
<circle cx="175.3" cy="640.5" r="0.97" fill="#8a8ec4" stroke="#4e5aa6" stroke-width="0.7" opacity="0.60"/>
<circle cx="230.5" cy="611.3" r="1.26" fill="#8a8ec4" stroke="#4e5aa6" stroke-width="0.7" opacity="0.60"/>
<circle cx="192.7" cy="647.2" r="1.09" fill="#8a8ec4" stroke="#4e5aa6" stroke-width="0.7" opacity="0.82"/>
<circle cx="202.7" cy="608.3" r="1.35" fill="#8a8ec4" stroke="#4e5aa6" stroke-width="0.7" opacity="0.69"/>
<circle cx="187.0" cy="627.7" r="1.08" fill="#8a8ec4" stroke="#4e5aa6" stroke-width="0.7" opacity="0.84"/>
<circle cx="201.3" cy="624.9" r="1.17" fill="#8a8ec4" stroke="#4e5aa6" stroke-width="0.7" opacity="0.89"/>
<circle cx="246.4" cy="646.8" r="1.13" fill="#8a8ec4" stroke="#4e5aa6" stroke-width="0.7" opacity="0.69"/>
<circle cx="192.9" cy="578.2" r="0.99" fill="#8a8ec4" stroke="#4e5aa6" stroke-width="0.7" opacity="0.90"/>
<circle cx="147.1" cy="655.1" r="1.22" fill="#8a8ec4" stroke="#4e5aa6" stroke-width="0.7" opacity="0.87"/>
<circle cx="141.2" cy="600.6" r="1.27" fill="#8a8ec4" stroke="#4e5aa6" stroke-width="0.7" opacity="0.55"/>
<circle cx="144.5" cy="604.5" r="1.02" fill="#8a8ec4" stroke="#4e5aa6" stroke-width="0.7" opacity="0.60"/>
<circle cx="209.6" cy="582.1" r="1.34" fill="#8a8ec4" stroke="#4e5aa6" stroke-width="0.7" opacity="0.78"/>
<circle cx="138.0" cy="651.8" r="1.05" fill="#8a8ec4" stroke="#4e5aa6" stroke-width="0.7" opacity="0.72"/>
<circle cx="196.8" cy="586.2" r="1.15" fill="#8a8ec4" stroke="#4e5aa6" stroke-width="0.7" opacity="0.57"/>
<circle cx="155.3" cy="653.5" r="1.28" fill="#8a8ec4" stroke="#4e5aa6" stroke-width="0.7" opacity="0.73"/>
<circle cx="211.0" cy="649.8" r="1.01" fill="#8a8ec4" stroke="#4e5aa6" stroke-width="0.7" opacity="0.72"/>
<circle cx="147.5" cy="584.3" r="0.99" fill="#8a8ec4" stroke="#4e5aa6" stroke-width="0.7" opacity="0.62"/>
<circle cx="138.4" cy="592.8" r="1.10" fill="#8a8ec4" stroke="#4e5aa6" stroke-width="0.7" opacity="0.77"/>
<circle cx="231.4" cy="652.2" r="1.24" fill="#8a8ec4" stroke="#4e5aa6" stroke-width="0.7" opacity="0.73"/>
<circle cx="238.1" cy="588.3" r="0.99" fill="#8a8ec4" stroke="#4e5aa6" stroke-width="0.7" opacity="0.84"/>
<circle cx="204.7" cy="592.4" r="1.10" fill="#8a8ec4" stroke="#4e5aa6" stroke-width="0.7" opacity="0.65"/>
<circle cx="182.0" cy="611.1" r="1.11" fill="#8a8ec4" stroke="#4e5aa6" stroke-width="0.7" opacity="0.83"/>
<circle cx="225.9" cy="622.7" r="1.14" fill="#8a8ec4" stroke="#4e5aa6" stroke-width="0.7" opacity="0.65"/>
<circle cx="220.6" cy="659.4" r="1.04" fill="#8a8ec4" stroke="#4e5aa6" stroke-width="0.7" opacity="0.80"/>
<circle cx="213.0" cy="631.0" r="0.96" fill="#8a8ec4" stroke="#4e5aa6" stroke-width="0.7" opacity="0.74"/>
<circle cx="155.6" cy="591.0" r="1.18" fill="#8a8ec4" stroke="#4e5aa6" stroke-width="0.7" opacity="0.78"/>
<circle cx="204.5" cy="638.3" r="1.23" fill="#8a8ec4" stroke="#4e5aa6" stroke-width="0.7" opacity="0.72"/>
<circle cx="137.8" cy="640.8" r="1.28" fill="#8a8ec4" stroke="#4e5aa6" stroke-width="0.7" opacity="0.84"/>
<circle cx="201.3" cy="577.5" r="1.03" fill="#8a8ec4" stroke="#4e5aa6" stroke-width="0.7" opacity="0.59"/>
<circle cx="205.7" cy="621.2" r="1.02" fill="#8a8ec4" stroke="#4e5aa6" stroke-width="0.7" opacity="0.88"/>
<circle cx="245.2" cy="651.8" r="1.14" fill="#8a8ec4" stroke="#4e5aa6" stroke-width="0.7" opacity="0.65"/>
<circle cx="156.4" cy="645.3" r="1.23" fill="#8a8ec4" stroke="#4e5aa6" stroke-width="0.7" opacity="0.65"/>
<circle cx="236.4" cy="623.3" r="1.12" fill="#8a8ec4" stroke="#4e5aa6" stroke-width="0.7" opacity="0.70"/>
<circle cx="215.4" cy="613.5" r="1.21" fill="#8a8ec4" stroke="#4e5aa6" stroke-width="0.7" opacity="0.59"/>
<circle cx="213.3" cy="597.7" r="1.31" fill="#8a8ec4" stroke="#4e5aa6" stroke-width="0.7" opacity="0.63"/>
<circle cx="170.8" cy="620.6" r="1.11" fill="#8a8ec4" stroke="#4e5aa6" stroke-width="0.7" opacity="0.73"/>
<circle cx="238.9" cy="591.6" r="1.26" fill="#8a8ec4" stroke="#4e5aa6" stroke-width="0.7" opacity="0.79"/>
<circle cx="223.0" cy="612.8" r="1.13" fill="#8a8ec4" stroke="#4e5aa6" stroke-width="0.7" opacity="0.67"/>
<circle cx="186.9" cy="596.2" r="1.03" fill="#8a8ec4" stroke="#4e5aa6" stroke-width="0.7" opacity="0.72"/>
<circle cx="154.5" cy="614.7" r="1.18" fill="#8a8ec4" stroke="#4e5aa6" stroke-width="0.7" opacity="0.66"/>
<circle cx="152.0" cy="626.4" r="1.29" fill="#8a8ec4" stroke="#4e5aa6" stroke-width="0.7" opacity="0.63"/>
<circle cx="203.4" cy="631.0" r="1.30" fill="#8a8ec4" stroke="#4e5aa6" stroke-width="0.7" opacity="0.79"/>
<circle cx="167.8" cy="592.1" r="1.28" fill="#8a8ec4" stroke="#4e5aa6" stroke-width="0.7" opacity="0.65"/>
<circle cx="133.8" cy="649.3" r="1.03" fill="#8a8ec4" stroke="#4e5aa6" stroke-width="0.7" opacity="0.66"/>
<circle cx="169.1" cy="596.3" r="1.24" fill="#8a8ec4" stroke="#4e5aa6" stroke-width="0.7" opacity="0.67"/>
<circle cx="183.1" cy="610.4" r="1.28" fill="#8a8ec4" stroke="#4e5aa6" stroke-width="0.7" opacity="0.56"/>
<circle cx="199.2" cy="585.6" r="1.01" fill="#8a8ec4" stroke="#4e5aa6" stroke-width="0.7" opacity="0.76"/>
<circle cx="175.7" cy="579.8" r="1.19" fill="#8a8ec4" stroke="#4e5aa6" stroke-width="0.7" opacity="0.87"/>
<circle cx="206.7" cy="617.0" r="1.27" fill="#8a8ec4" stroke="#4e5aa6" stroke-width="0.7" opacity="0.87"/>
<circle cx="149.8" cy="600.0" r="1.34" fill="#8a8ec4" stroke="#4e5aa6" stroke-width="0.7" opacity="0.87"/>
<circle cx="155.7" cy="634.9" r="1.30" fill="#8a8ec4" stroke="#4e5aa6" stroke-width="0.7" opacity="0.76"/>
<circle cx="213.3" cy="619.4" r="1.04" fill="#8a8ec4" stroke="#4e5aa6" stroke-width="0.7" opacity="0.62"/>
<circle cx="139.4" cy="631.6" r="1.01" fill="#8a8ec4" stroke="#4e5aa6" stroke-width="0.7" opacity="0.77"/>
<circle cx="177.4" cy="611.8" r="1.34" fill="#8a8ec4" stroke="#4e5aa6" stroke-width="0.7" opacity="0.69"/>
<circle cx="187.1" cy="607.0" r="1.04" fill="#8a8ec4" stroke="#4e5aa6" stroke-width="0.7" opacity="0.63"/>
<circle cx="193.8" cy="644.7" r="0.99" fill="#8a8ec4" stroke="#4e5aa6" stroke-width="0.7" opacity="0.88"/>
<circle cx="210.1" cy="578.8" r="1.23" fill="#8a8ec4" stroke="#4e5aa6" stroke-width="0.7" opacity="0.69"/>
<circle cx="191.7" cy="582.9" r="1.15" fill="#8a8ec4" stroke="#4e5aa6" stroke-width="0.7" opacity="0.73"/>
<circle cx="222.6" cy="624.3" r="1.23" fill="#8a8ec4" stroke="#4e5aa6" stroke-width="0.7" opacity="0.81"/>
<circle cx="157.8" cy="576.3" r="1.14" fill="#8a8ec4" stroke="#4e5aa6" stroke-width="0.7" opacity="0.60"/>
<circle cx="148.7" cy="602.0" r="1.17" fill="#8a8ec4" stroke="#4e5aa6" stroke-width="0.7" opacity="0.77"/>
<circle cx="206.9" cy="655.6" r="0.99" fill="#8a8ec4" stroke="#4e5aa6" stroke-width="0.7" opacity="0.75"/>
<circle cx="142.3" cy="632.0" r="1.12" fill="#8a8ec4" stroke="#4e5aa6" stroke-width="0.7" opacity="0.60"/>
<circle cx="168.1" cy="631.2" r="1.14" fill="#8a8ec4" stroke="#4e5aa6" stroke-width="0.7" opacity="0.88"/>
<circle cx="173.3" cy="603.5" r="1.32" fill="#8a8ec4" stroke="#4e5aa6" stroke-width="0.7" opacity="0.76"/>
<circle cx="144.7" cy="641.9" r="1.10" fill="#8a8ec4" stroke="#4e5aa6" stroke-width="0.7" opacity="0.88"/>
<circle cx="205.7" cy="643.7" r="1.31" fill="#8a8ec4" stroke="#4e5aa6" stroke-width="0.7" opacity="0.73"/>
<circle cx="243.9" cy="576.4" r="1.09" fill="#8a8ec4" stroke="#4e5aa6" stroke-width="0.7" opacity="0.84"/>
<circle cx="133.2" cy="632.2" r="1.35" fill="#8a8ec4" stroke="#4e5aa6" stroke-width="0.7" opacity="0.80"/>
<circle cx="231.8" cy="580.8" r="1.17" fill="#8a8ec4" stroke="#4e5aa6" stroke-width="0.7" opacity="0.76"/>
<circle cx="182.6" cy="610.4" r="1.27" fill="#8a8ec4" stroke="#4e5aa6" stroke-width="0.7" opacity="0.61"/>
<circle cx="137.5" cy="625.4" r="1.34" fill="#8a8ec4" stroke="#4e5aa6" stroke-width="0.7" opacity="0.84"/>
<circle cx="210.0" cy="599.6" r="1.31" fill="#8a8ec4" stroke="#4e5aa6" stroke-width="0.7" opacity="0.56"/>
<circle cx="160.8" cy="642.2" r="1.31" fill="#8a8ec4" stroke="#4e5aa6" stroke-width="0.7" opacity="0.69"/>
<circle cx="237.2" cy="583.8" r="1.19" fill="#8a8ec4" stroke="#4e5aa6" stroke-width="0.7" opacity="0.57"/>
<circle cx="159.2" cy="590.6" r="0.95" fill="#8a8ec4" stroke="#4e5aa6" stroke-width="0.7" opacity="0.69"/>
<circle cx="190.0" cy="598.5" r="1.21" fill="#8a8ec4" stroke="#4e5aa6" stroke-width="0.7" opacity="0.57"/>
<circle cx="192.0" cy="619.7" r="1.11" fill="#8a8ec4" stroke="#4e5aa6" stroke-width="0.7" opacity="0.87"/>
<circle cx="146.9" cy="611.0" r="1.13" fill="#8a8ec4" stroke="#4e5aa6" stroke-width="0.7" opacity="0.68"/>
<circle cx="244.7" cy="623.6" r="1.16" fill="#8a8ec4" stroke="#4e5aa6" stroke-width="0.7" opacity="0.70"/>
<circle cx="182.8" cy="656.3" r="1.27" fill="#8a8ec4" stroke="#4e5aa6" stroke-width="0.7" opacity="0.78"/>
<circle cx="151.0" cy="625.5" r="1.00" fill="#8a8ec4" stroke="#4e5aa6" stroke-width="0.7" opacity="0.67"/>
<circle cx="135.0" cy="635.1" r="1.34" fill="#8a8ec4" stroke="#4e5aa6" stroke-width="0.7" opacity="0.77"/>
<circle cx="198.1" cy="595.8" r="1.13" fill="#8a8ec4" stroke="#4e5aa6" stroke-width="0.7" opacity="0.71"/>
<circle cx="181.1" cy="597.5" r="1.04" fill="#8a8ec4" stroke="#4e5aa6" stroke-width="0.7" opacity="0.81"/>
<circle cx="242.2" cy="645.1" r="1.20" fill="#8a8ec4" stroke="#4e5aa6" stroke-width="0.7" opacity="0.56"/>
<circle cx="167.2" cy="646.7" r="1.34" fill="#8a8ec4" stroke="#4e5aa6" stroke-width="0.7" opacity="0.74"/>
<circle cx="198.0" cy="633.4" r="1.05" fill="#8a8ec4" stroke="#4e5aa6" stroke-width="0.7" opacity="0.80"/>
<circle cx="174.4" cy="647.3" r="1.13" fill="#8a8ec4" stroke="#4e5aa6" stroke-width="0.7" opacity="0.78"/>
<circle cx="196.5" cy="620.3" r="1.13" fill="#8a8ec4" stroke="#4e5aa6" stroke-width="0.7" opacity="0.88"/>
<circle cx="219.4" cy="610.4" r="1.15" fill="#8a8ec4" stroke="#4e5aa6" stroke-width="0.7" opacity="0.86"/>
<circle cx="218.5" cy="630.6" r="1.33" fill="#8a8ec4" stroke="#4e5aa6" stroke-width="0.7" opacity="0.59"/>
<circle cx="201.3" cy="628.1" r="1.13" fill="#8a8ec4" stroke="#4e5aa6" stroke-width="0.7" opacity="0.89"/>
<circle cx="243.9" cy="607.9" r="1.20" fill="#8a8ec4" stroke="#4e5aa6" stroke-width="0.7" opacity="0.82"/>
<circle cx="212.6" cy="605.5" r="1.27" fill="#8a8ec4" stroke="#4e5aa6" stroke-width="0.7" opacity="0.67"/>
<circle cx="149.3" cy="631.6" r="1.21" fill="#8a8ec4" stroke="#4e5aa6" stroke-width="0.7" opacity="0.69"/>
<circle cx="189.9" cy="659.5" r="1.27" fill="#8a8ec4" stroke="#4e5aa6" stroke-width="0.7" opacity="0.69"/>
<circle cx="237.5" cy="623.4" r="1.11" fill="#8a8ec4" stroke="#4e5aa6" stroke-width="0.7" opacity="0.78"/>
<circle cx="222.7" cy="651.5" r="1.22" fill="#8a8ec4" stroke="#4e5aa6" stroke-width="0.7" opacity="0.78"/>
<circle cx="178.6" cy="577.7" r="1.13" fill="#8a8ec4" stroke="#4e5aa6" stroke-width="0.7" opacity="0.59"/>
<circle cx="241.0" cy="605.5" r="1.19" fill="#8a8ec4" stroke="#4e5aa6" stroke-width="0.7" opacity="0.81"/>
<circle cx="152.9" cy="646.1" r="1.08" fill="#8a8ec4" stroke="#4e5aa6" stroke-width="0.7" opacity="0.58"/>
<circle cx="201.5" cy="608.9" r="1.32" fill="#8a8ec4" stroke="#4e5aa6" stroke-width="0.7" opacity="0.71"/>
<circle cx="143.2" cy="575.8" r="0.96" fill="#8a8ec4" stroke="#4e5aa6" stroke-width="0.7" opacity="0.72"/>
<circle cx="214.7" cy="578.6" r="1.08" fill="#8a8ec4" stroke="#4e5aa6" stroke-width="0.7" opacity="0.72"/>
<circle cx="235.9" cy="658.0" r="1.30" fill="#8a8ec4" stroke="#4e5aa6" stroke-width="0.7" opacity="0.77"/>
<circle cx="198.7" cy="593.4" r="1.19" fill="#8a8ec4" stroke="#4e5aa6" stroke-width="0.7" opacity="0.61"/>
<circle cx="167.3" cy="645.8" r="1.18" fill="#8a8ec4" stroke="#4e5aa6" stroke-width="0.7" opacity="0.80"/>
<circle cx="186.0" cy="598.3" r="1.15" fill="#8a8ec4" stroke="#4e5aa6" stroke-width="0.7" opacity="0.75"/>
<circle cx="160.2" cy="647.2" r="1.34" fill="#8a8ec4" stroke="#4e5aa6" stroke-width="0.7" opacity="0.61"/>
<circle cx="160.2" cy="644.2" r="1.24" fill="#8a8ec4" stroke="#4e5aa6" stroke-width="0.7" opacity="0.63"/>
<circle cx="199.9" cy="594.8" r="1.30" fill="#8a8ec4" stroke="#4e5aa6" stroke-width="0.7" opacity="0.76"/>
<circle cx="191.2" cy="588.1" r="1.11" fill="#8a8ec4" stroke="#4e5aa6" stroke-width="0.7" opacity="0.72"/>
<circle cx="174.0" cy="589.7" r="1.03" fill="#8a8ec4" stroke="#4e5aa6" stroke-width="0.7" opacity="0.80"/>
<circle cx="239.0" cy="647.0" r="1.20" fill="#8a8ec4" stroke="#4e5aa6" stroke-width="0.7" opacity="0.83"/>
<circle cx="147.7" cy="592.3" r="1.23" fill="#8a8ec4" stroke="#4e5aa6" stroke-width="0.7" opacity="0.55"/>
<circle cx="142.0" cy="641.4" r="1.03" fill="#8a8ec4" stroke="#4e5aa6" stroke-width="0.7" opacity="0.61"/>
<circle cx="177.9" cy="646.4" r="0.95" fill="#8a8ec4" stroke="#4e5aa6" stroke-width="0.7" opacity="0.86"/>
<circle cx="167.5" cy="623.5" r="1.14" fill="#8a8ec4" stroke="#4e5aa6" stroke-width="0.7" opacity="0.59"/>
<circle cx="242.9" cy="589.4" r="1.27" fill="#8a8ec4" stroke="#4e5aa6" stroke-width="0.7" opacity="0.86"/>
<circle cx="184.7" cy="657.1" r="0.98" fill="#8a8ec4" stroke="#4e5aa6" stroke-width="0.7" opacity="0.60"/>
<circle cx="188.1" cy="580.6" r="1.27" fill="#8a8ec4" stroke="#4e5aa6" stroke-width="0.7" opacity="0.73"/>
<circle cx="224.5" cy="598.9" r="0.96" fill="#8a8ec4" stroke="#4e5aa6" stroke-width="0.7" opacity="0.86"/>
<circle cx="156.3" cy="610.2" r="1.00" fill="#8a8ec4" stroke="#4e5aa6" stroke-width="0.7" opacity="0.76"/>
<circle cx="185.8" cy="591.3" r="0.97" fill="#8a8ec4" stroke="#4e5aa6" stroke-width="0.7" opacity="0.67"/>
<circle cx="222.7" cy="587.5" r="1.04" fill="#8a8ec4" stroke="#4e5aa6" stroke-width="0.7" opacity="0.77"/>
<circle cx="205.6" cy="643.6" r="1.21" fill="#8a8ec4" stroke="#4e5aa6" stroke-width="0.7" opacity="0.85"/>
<circle cx="150.2" cy="653.8" r="0.96" fill="#8a8ec4" stroke="#4e5aa6" stroke-width="0.7" opacity="0.59"/>
<circle cx="144.3" cy="641.1" r="1.15" fill="#8a8ec4" stroke="#4e5aa6" stroke-width="0.7" opacity="0.87"/>
<circle cx="244.8" cy="656.4" r="1.20" fill="#8a8ec4" stroke="#4e5aa6" stroke-width="0.7" opacity="0.67"/>
<circle cx="242.8" cy="637.4" r="1.03" fill="#8a8ec4" stroke="#4e5aa6" stroke-width="0.7" opacity="0.74"/>
<circle cx="134.6" cy="575.7" r="1.21" fill="#8a8ec4" stroke="#4e5aa6" stroke-width="0.7" opacity="0.80"/>
<circle cx="231.7" cy="639.2" r="1.00" fill="#8a8ec4" stroke="#4e5aa6" stroke-width="0.7" opacity="0.81"/>
<circle cx="245.5" cy="632.6" r="1.14" fill="#8a8ec4" stroke="#4e5aa6" stroke-width="0.7" opacity="0.65"/>
<circle cx="139.7" cy="628.2" r="1.33" fill="#8a8ec4" stroke="#4e5aa6" stroke-width="0.7" opacity="0.59"/>
<circle cx="227.0" cy="651.7" r="1.09" fill="#8a8ec4" stroke="#4e5aa6" stroke-width="0.7" opacity="0.85"/>
<circle cx="150.3" cy="600.1" r="1.18" fill="#8a8ec4" stroke="#4e5aa6" stroke-width="0.7" opacity="0.86"/>
<circle cx="194.1" cy="581.9" r="1.32" fill="#8a8ec4" stroke="#4e5aa6" stroke-width="0.7" opacity="0.75"/>
<circle cx="222.2" cy="594.0" r="1.08" fill="#8a8ec4" stroke="#4e5aa6" stroke-width="0.7" opacity="0.58"/>
<circle cx="153.9" cy="611.9" r="1.11" fill="#8a8ec4" stroke="#4e5aa6" stroke-width="0.7" opacity="0.78"/>
<circle cx="228.5" cy="603.0" r="1.32" fill="#8a8ec4" stroke="#4e5aa6" stroke-width="0.7" opacity="0.78"/>
<circle cx="172.1" cy="590.1" r="1.33" fill="#8a8ec4" stroke="#4e5aa6" stroke-width="0.7" opacity="0.78"/>
<circle cx="137.3" cy="633.3" r="1.10" fill="#8a8ec4" stroke="#4e5aa6" stroke-width="0.7" opacity="0.70"/>
<circle cx="220.6" cy="593.5" r="1.06" fill="#8a8ec4" stroke="#4e5aa6" stroke-width="0.7" opacity="0.74"/>
<circle cx="236.7" cy="581.6" r="1.28" fill="#8a8ec4" stroke="#4e5aa6" stroke-width="0.7" opacity="0.80"/>
<circle cx="152.8" cy="631.3" r="1.20" fill="#8a8ec4" stroke="#4e5aa6" stroke-width="0.7" opacity="0.80"/>
<circle cx="194.3" cy="601.3" r="1.15" fill="#8a8ec4" stroke="#4e5aa6" stroke-width="0.7" opacity="0.63"/>
<circle cx="184.8" cy="609.2" r="0.99" fill="#8a8ec4" stroke="#4e5aa6" stroke-width="0.7" opacity="0.63"/>
<circle cx="172.0" cy="608.2" r="1.18" fill="#8a8ec4" stroke="#4e5aa6" stroke-width="0.7" opacity="0.81"/>
<circle cx="162.2" cy="622.1" r="1.09" fill="#8a8ec4" stroke="#4e5aa6" stroke-width="0.7" opacity="0.63"/>
<circle cx="148.4" cy="657.0" r="1.32" fill="#8a8ec4" stroke="#4e5aa6" stroke-width="0.7" opacity="0.84"/>
<circle cx="152.1" cy="587.2" r="0.99" fill="#8a8ec4" stroke="#4e5aa6" stroke-width="0.7" opacity="0.66"/>
<circle cx="181.5" cy="574.8" r="1.12" fill="#8a8ec4" stroke="#4e5aa6" stroke-width="0.7" opacity="0.79"/>
<circle cx="228.5" cy="590.6" r="0.95" fill="#8a8ec4" stroke="#4e5aa6" stroke-width="0.7" opacity="0.83"/>
<circle cx="176.2" cy="601.3" r="1.01" fill="#8a8ec4" stroke="#4e5aa6" stroke-width="0.7" opacity="0.64"/>
<circle cx="163.0" cy="596.4" r="1.04" fill="#8a8ec4" stroke="#4e5aa6" stroke-width="0.7" opacity="0.73"/>
<circle cx="226.1" cy="600.9" r="1.12" fill="#8a8ec4" stroke="#4e5aa6" stroke-width="0.7" opacity="0.72"/>
<circle cx="229.5" cy="640.3" r="1.34" fill="#8a8ec4" stroke="#4e5aa6" stroke-width="0.7" opacity="0.61"/>
<circle cx="225.2" cy="599.6" r="1.18" fill="#8a8ec4" stroke="#4e5aa6" stroke-width="0.7" opacity="0.73"/>
<circle cx="198.6" cy="602.0" r="0.53" fill="#34449c" opacity="0.60"/>
<circle cx="239.3" cy="650.7" r="0.68" fill="#34449c" opacity="0.63"/>
<circle cx="229.0" cy="617.5" r="0.69" fill="#34449c" opacity="0.79"/>
<circle cx="150.5" cy="593.1" r="0.83" fill="#34449c" opacity="0.82"/>
<circle cx="245.8" cy="611.6" r="0.89" fill="#34449c" opacity="0.87"/>
<circle cx="190.9" cy="651.2" r="0.57" fill="#34449c" opacity="0.62"/>
<circle cx="226.2" cy="586.4" r="0.71" fill="#34449c" opacity="0.82"/>
<circle cx="210.7" cy="593.2" r="0.81" fill="#34449c" opacity="0.61"/>
<circle cx="197.2" cy="651.7" r="0.72" fill="#34449c" opacity="0.69"/>
<circle cx="247.4" cy="636.9" r="0.82" fill="#34449c" opacity="0.87"/>
<circle cx="240.2" cy="623.7" r="0.83" fill="#34449c" opacity="0.75"/>
<circle cx="161.7" cy="598.2" r="0.60" fill="#34449c" opacity="0.61"/>
<circle cx="203.8" cy="608.7" r="0.86" fill="#34449c" opacity="0.62"/>
<circle cx="222.7" cy="591.0" r="0.63" fill="#34449c" opacity="0.69"/>
<circle cx="242.8" cy="629.9" r="0.69" fill="#34449c" opacity="0.66"/>
<circle cx="137.8" cy="605.9" r="0.89" fill="#34449c" opacity="0.73"/>
<circle cx="210.2" cy="650.2" r="0.52" fill="#34449c" opacity="0.70"/>
<circle cx="180.5" cy="593.7" r="0.65" fill="#34449c" opacity="0.80"/>
<circle cx="147.8" cy="634.1" r="0.62" fill="#34449c" opacity="0.80"/>
<circle cx="152.3" cy="642.3" r="0.67" fill="#34449c" opacity="0.85"/>
<circle cx="244.0" cy="624.4" r="0.51" fill="#34449c" opacity="0.71"/>
<circle cx="244.9" cy="630.5" r="0.80" fill="#34449c" opacity="0.74"/>
<circle cx="240.8" cy="652.5" r="0.75" fill="#34449c" opacity="0.78"/>
<circle cx="144.2" cy="574.8" r="0.58" fill="#34449c" opacity="0.82"/>
<circle cx="230.1" cy="640.6" r="0.85" fill="#34449c" opacity="0.61"/>
<circle cx="135.6" cy="596.2" r="0.51" fill="#34449c" opacity="0.78"/>
<circle cx="239.6" cy="651.8" r="0.54" fill="#34449c" opacity="0.80"/>
<circle cx="209.7" cy="630.9" r="0.66" fill="#34449c" opacity="0.67"/>
<circle cx="234.6" cy="652.2" r="0.79" fill="#34449c" opacity="0.76"/>
<circle cx="136.1" cy="598.1" r="0.60" fill="#34449c" opacity="0.67"/>
<circle cx="157.2" cy="631.9" r="0.77" fill="#34449c" opacity="0.65"/>
<circle cx="236.4" cy="574.2" r="0.88" fill="#34449c" opacity="0.77"/>
<circle cx="206.8" cy="598.5" r="0.78" fill="#34449c" opacity="0.86"/>
<circle cx="156.0" cy="585.6" r="0.82" fill="#34449c" opacity="0.67"/>
<circle cx="144.5" cy="616.6" r="0.57" fill="#34449c" opacity="0.66"/>
<circle cx="165.0" cy="581.5" r="0.83" fill="#34449c" opacity="0.77"/>
<circle cx="207.7" cy="599.4" r="0.81" fill="#34449c" opacity="0.89"/>
<circle cx="247.7" cy="577.9" r="0.62" fill="#34449c" opacity="0.63"/>
<circle cx="187.1" cy="630.9" r="0.74" fill="#34449c" opacity="0.71"/>
<circle cx="243.5" cy="628.0" r="0.90" fill="#34449c" opacity="0.73"/>
<circle cx="206.7" cy="582.8" r="0.71" fill="#34449c" opacity="0.79"/>
<circle cx="159.2" cy="628.1" r="0.55" fill="#34449c" opacity="0.74"/>
<circle cx="202.4" cy="615.6" r="0.56" fill="#34449c" opacity="0.66"/>
<circle cx="175.6" cy="630.5" r="0.67" fill="#34449c" opacity="0.66"/>
<circle cx="171.3" cy="600.8" r="0.56" fill="#34449c" opacity="0.78"/>
<circle cx="186.7" cy="602.3" r="0.50" fill="#34449c" opacity="0.87"/>
<circle cx="137.5" cy="584.1" r="0.62" fill="#34449c" opacity="0.84"/>
<circle cx="240.4" cy="639.7" r="0.58" fill="#34449c" opacity="0.85"/>
<circle cx="136.0" cy="583.9" r="0.54" fill="#34449c" opacity="0.77"/>
<circle cx="200.8" cy="628.3" r="0.88" fill="#34449c" opacity="0.83"/>
<circle cx="218.1" cy="589.1" r="0.86" fill="#34449c" opacity="0.88"/>
<circle cx="227.9" cy="581.2" r="0.79" fill="#34449c" opacity="0.76"/>
<circle cx="194.3" cy="597.3" r="0.81" fill="#34449c" opacity="0.84"/>
<circle cx="221.1" cy="600.3" r="0.79" fill="#34449c" opacity="0.63"/>
<circle cx="210.8" cy="576.8" r="0.50" fill="#34449c" opacity="0.63"/>
<circle cx="207.6" cy="659.1" r="0.69" fill="#34449c" opacity="0.79"/>
<circle cx="200.0" cy="646.8" r="0.89" fill="#34449c" opacity="0.85"/>
<circle cx="170.6" cy="580.4" r="0.86" fill="#34449c" opacity="0.68"/>
<circle cx="219.8" cy="648.9" r="0.57" fill="#34449c" opacity="0.66"/>
<circle cx="181.1" cy="647.1" r="0.84" fill="#34449c" opacity="0.90"/>
<rect x="237.70" y="657.30" width="7.00" height="1.30" fill="#ffffff" />
</g>
<clipPath id="clip3"><rect x="252.9" y="574.2" width="114.8" height="86.3"/></clipPath>
<filter id="bl3" x="-20%" y="-20%" width="140%" height="140%"><feGaussianBlur stdDeviation="1.2"/></filter>
<filter id="bl3s" x="-50%" y="-50%" width="200%" height="200%"><feGaussianBlur stdDeviation="0.5"/></filter>
<filter id="nf3_0" filterUnits="userSpaceOnUse" x="252.9" y="574.2" width="114.8" height="86.3" color-interpolation-filters="sRGB"><feTurbulence type="fractalNoise" baseFrequency="0.12" numOctaves="2" seed="30"/><feColorMatrix type="matrix" values="0 0 0 0 0.612 0 0 0 0 0.392 0 0 0 0 0.329 5.0 0 0 0 -2.2"/></filter>
<filter id="nf3_1" filterUnits="userSpaceOnUse" x="252.9" y="574.2" width="114.8" height="86.3" color-interpolation-filters="sRGB"><feTurbulence type="fractalNoise" baseFrequency="0.3" numOctaves="2" seed="31"/><feColorMatrix type="matrix" values="0 0 0 0 0.941 0 0 0 0 0.902 0 0 0 0 0.894 4.0 0 0 0 -1.8"/></filter>
<filter id="nf3_2" filterUnits="userSpaceOnUse" x="252.9" y="574.2" width="114.8" height="86.3" color-interpolation-filters="sRGB"><feTurbulence type="fractalNoise" baseFrequency="0.12" numOctaves="2" seed="32"/><feColorMatrix type="matrix" values="0 0 0 0 0.502 0 0 0 0 0.471 0 0 0 0 0.690 4.0 0 0 0 -1.8"/></filter>
<g clip-path="url(#clip3)">
<rect x="252.90" y="574.20" width="114.80" height="86.30" fill="#bc998d" />
<rect x="252.9" y="574.2" width="114.8" height="86.3" filter="url(#nf3_0)" opacity="0.35"/>
<rect x="252.9" y="574.2" width="114.8" height="86.3" filter="url(#nf3_1)" opacity="0.45"/>
<rect x="252.9" y="574.2" width="114.8" height="86.3" filter="url(#nf3_2)" opacity="0.15"/>
<g stroke="#eee4e2" stroke-width="1.3" stroke-linecap="round" opacity="0.7" filter="url(#bl3s)">
<line x1="280.2" y1="621.2" x2="279.2" y2="624.1"/>
<line x1="324.7" y1="579.9" x2="323.0" y2="580.9"/>
<line x1="282.7" y1="594.4" x2="283.1" y2="599.4"/>
<line x1="348.9" y1="615.3" x2="352.4" y2="617.1"/>
<line x1="325.8" y1="649.1" x2="323.3" y2="651.7"/>
<line x1="330.0" y1="579.7" x2="328.8" y2="583.8"/>
<line x1="287.5" y1="576.9" x2="287.9" y2="581.5"/>
<line x1="335.4" y1="650.0" x2="331.4" y2="651.1"/>
<line x1="298.2" y1="643.3" x2="295.0" y2="644.0"/>
<line x1="353.8" y1="582.6" x2="355.7" y2="584.1"/>
<line x1="363.7" y1="611.8" x2="366.0" y2="615.0"/>
<line x1="311.1" y1="607.5" x2="310.3" y2="610.4"/>
<line x1="320.0" y1="652.2" x2="316.0" y2="653.1"/>
<line x1="351.2" y1="659.7" x2="354.7" y2="661.7"/>
<line x1="351.7" y1="657.4" x2="350.7" y2="662.1"/>
<line x1="334.8" y1="592.4" x2="333.8" y2="596.8"/>
<line x1="285.6" y1="579.7" x2="281.1" y2="579.8"/>
<line x1="263.1" y1="643.3" x2="265.9" y2="644.8"/>
<line x1="286.6" y1="640.5" x2="291.2" y2="641.2"/>
<line x1="323.4" y1="578.1" x2="325.6" y2="581.7"/>
<line x1="354.0" y1="658.8" x2="350.5" y2="658.8"/>
<line x1="288.5" y1="580.8" x2="292.2" y2="581.2"/>
<line x1="275.6" y1="609.4" x2="278.9" y2="611.2"/>
<line x1="257.8" y1="649.1" x2="254.9" y2="649.5"/>
<line x1="355.8" y1="606.8" x2="355.6" y2="610.2"/>
<line x1="326.8" y1="625.6" x2="325.5" y2="629.0"/>
<line x1="360.9" y1="618.0" x2="358.8" y2="620.5"/>
<line x1="280.2" y1="600.2" x2="279.9" y2="605.1"/>
<line x1="315.9" y1="575.2" x2="315.1" y2="578.3"/>
<line x1="255.2" y1="627.3" x2="259.0" y2="628.1"/>
<line x1="324.9" y1="614.4" x2="326.7" y2="618.0"/>
<line x1="334.1" y1="637.9" x2="336.1" y2="638.3"/>
<line x1="330.5" y1="657.3" x2="330.9" y2="660.1"/>
<line x1="320.9" y1="601.8" x2="322.7" y2="604.4"/>
<line x1="295.3" y1="625.6" x2="296.4" y2="628.3"/>
<line x1="341.6" y1="576.5" x2="339.1" y2="579.3"/>
<line x1="288.5" y1="593.4" x2="291.7" y2="596.4"/>
<line x1="274.4" y1="611.8" x2="278.3" y2="613.0"/>
<line x1="289.9" y1="603.0" x2="290.7" y2="607.4"/>
<line x1="351.1" y1="588.8" x2="349.7" y2="591.5"/>
<line x1="354.5" y1="613.1" x2="357.0" y2="614.1"/>
<line x1="313.7" y1="590.7" x2="309.8" y2="592.8"/>
<line x1="274.0" y1="598.2" x2="272.1" y2="602.2"/>
<line x1="345.5" y1="604.0" x2="346.9" y2="605.9"/>
<line x1="344.0" y1="597.6" x2="344.8" y2="600.5"/>
<line x1="301.1" y1="609.5" x2="305.3" y2="611.8"/>
<line x1="253.4" y1="655.6" x2="248.8" y2="655.8"/>
<line x1="302.8" y1="656.2" x2="306.4" y2="659.3"/>
<line x1="338.5" y1="646.4" x2="338.2" y2="650.4"/>
<line x1="286.1" y1="603.6" x2="288.7" y2="604.2"/>
<line x1="320.5" y1="599.0" x2="324.9" y2="599.6"/>
<line x1="356.6" y1="634.1" x2="352.1" y2="635.6"/>
<line x1="356.2" y1="624.0" x2="354.8" y2="625.5"/>
<line x1="272.6" y1="600.1" x2="272.3" y2="604.1"/>
<line x1="300.4" y1="655.2" x2="302.2" y2="658.6"/>
<line x1="281.9" y1="648.6" x2="279.2" y2="650.7"/>
<line x1="293.3" y1="591.2" x2="290.3" y2="593.2"/>
<line x1="272.6" y1="642.5" x2="268.7" y2="645.2"/>
<line x1="347.4" y1="574.8" x2="343.9" y2="576.5"/>
<line x1="258.6" y1="597.6" x2="258.4" y2="600.4"/>
<line x1="301.5" y1="615.0" x2="305.8" y2="615.0"/>
<line x1="259.2" y1="585.1" x2="261.5" y2="585.7"/>
<line x1="364.8" y1="647.9" x2="364.8" y2="650.2"/>
<line x1="289.2" y1="601.3" x2="287.8" y2="604.1"/>
<line x1="320.2" y1="605.3" x2="321.6" y2="607.5"/>
<line x1="267.1" y1="622.1" x2="268.6" y2="626.0"/>
<line x1="262.1" y1="589.6" x2="261.1" y2="592.6"/>
<line x1="342.7" y1="607.0" x2="341.1" y2="611.1"/>
<line x1="302.4" y1="606.3" x2="300.4" y2="609.1"/>
<line x1="301.2" y1="634.1" x2="303.6" y2="636.5"/>
<line x1="314.4" y1="634.2" x2="314.9" y2="636.3"/>
<line x1="301.8" y1="650.1" x2="303.6" y2="654.6"/>
<line x1="356.0" y1="642.5" x2="356.3" y2="645.2"/>
<line x1="267.0" y1="644.4" x2="263.3" y2="645.8"/>
<line x1="343.9" y1="631.8" x2="343.0" y2="635.9"/>
<line x1="264.7" y1="624.9" x2="266.6" y2="625.8"/>
<line x1="341.8" y1="578.0" x2="344.0" y2="578.7"/>
<line x1="354.0" y1="589.7" x2="352.2" y2="590.6"/>
<line x1="266.8" y1="647.0" x2="263.3" y2="649.0"/>
<line x1="362.2" y1="624.2" x2="366.6" y2="624.7"/>
<line x1="341.0" y1="618.3" x2="344.9" y2="619.7"/>
<line x1="338.9" y1="654.9" x2="340.0" y2="656.7"/>
<line x1="317.6" y1="645.7" x2="319.9" y2="647.1"/>
<line x1="281.6" y1="627.4" x2="283.0" y2="631.4"/>
<line x1="295.1" y1="608.4" x2="295.9" y2="611.4"/>
<line x1="262.5" y1="617.4" x2="263.8" y2="622.1"/>
<line x1="338.7" y1="588.1" x2="335.8" y2="590.9"/>
<line x1="330.3" y1="618.8" x2="328.8" y2="621.9"/>
<line x1="355.9" y1="587.1" x2="354.3" y2="588.7"/>
<line x1="358.1" y1="618.8" x2="356.0" y2="621.4"/>
</g>
<circle cx="274.3" cy="597.3" r="0.98" fill="#9498c4" stroke="#5a60a8" stroke-width="0.7" opacity="0.70"/>
<circle cx="289.0" cy="594.2" r="1.18" fill="#9498c4" stroke="#5a60a8" stroke-width="0.7" opacity="0.83"/>
<circle cx="286.9" cy="635.1" r="1.07" fill="#9498c4" stroke="#5a60a8" stroke-width="0.7" opacity="0.80"/>
<circle cx="320.0" cy="597.3" r="0.99" fill="#9498c4" stroke="#5a60a8" stroke-width="0.7" opacity="0.51"/>
<circle cx="307.9" cy="607.2" r="0.97" fill="#9498c4" stroke="#5a60a8" stroke-width="0.7" opacity="0.63"/>
<circle cx="289.9" cy="641.0" r="0.96" fill="#9498c4" stroke="#5a60a8" stroke-width="0.7" opacity="0.85"/>
<circle cx="308.0" cy="625.9" r="1.09" fill="#9498c4" stroke="#5a60a8" stroke-width="0.7" opacity="0.79"/>
<circle cx="347.2" cy="622.3" r="1.09" fill="#9498c4" stroke="#5a60a8" stroke-width="0.7" opacity="0.75"/>
<circle cx="351.2" cy="608.7" r="1.19" fill="#9498c4" stroke="#5a60a8" stroke-width="0.7" opacity="0.84"/>
<circle cx="306.6" cy="594.0" r="0.99" fill="#9498c4" stroke="#5a60a8" stroke-width="0.7" opacity="0.75"/>
<circle cx="330.4" cy="656.9" r="1.24" fill="#9498c4" stroke="#5a60a8" stroke-width="0.7" opacity="0.58"/>
<circle cx="274.7" cy="596.5" r="0.97" fill="#9498c4" stroke="#5a60a8" stroke-width="0.7" opacity="0.75"/>
<circle cx="351.5" cy="651.8" r="1.00" fill="#9498c4" stroke="#5a60a8" stroke-width="0.7" opacity="0.80"/>
<circle cx="288.9" cy="610.7" r="1.19" fill="#9498c4" stroke="#5a60a8" stroke-width="0.7" opacity="0.53"/>
<circle cx="263.5" cy="646.2" r="1.02" fill="#9498c4" stroke="#5a60a8" stroke-width="0.7" opacity="0.62"/>
<circle cx="319.5" cy="632.5" r="0.90" fill="#9498c4" stroke="#5a60a8" stroke-width="0.7" opacity="0.62"/>
<circle cx="303.0" cy="616.1" r="0.98" fill="#9498c4" stroke="#5a60a8" stroke-width="0.7" opacity="0.70"/>
<circle cx="362.6" cy="607.9" r="1.12" fill="#9498c4" stroke="#5a60a8" stroke-width="0.7" opacity="0.54"/>
<circle cx="284.4" cy="631.6" r="0.95" fill="#9498c4" stroke="#5a60a8" stroke-width="0.7" opacity="0.81"/>
<circle cx="357.2" cy="582.6" r="1.28" fill="#9498c4" stroke="#5a60a8" stroke-width="0.7" opacity="0.63"/>
<circle cx="341.6" cy="639.6" r="1.02" fill="#9498c4" stroke="#5a60a8" stroke-width="0.7" opacity="0.74"/>
<circle cx="328.0" cy="643.8" r="1.01" fill="#9498c4" stroke="#5a60a8" stroke-width="0.7" opacity="0.76"/>
<circle cx="363.3" cy="632.3" r="1.11" fill="#9498c4" stroke="#5a60a8" stroke-width="0.7" opacity="0.54"/>
<circle cx="309.6" cy="604.6" r="1.19" fill="#9498c4" stroke="#5a60a8" stroke-width="0.7" opacity="0.74"/>
<circle cx="317.9" cy="589.9" r="1.16" fill="#9498c4" stroke="#5a60a8" stroke-width="0.7" opacity="0.72"/>
<circle cx="273.5" cy="651.0" r="1.16" fill="#9498c4" stroke="#5a60a8" stroke-width="0.7" opacity="0.54"/>
<circle cx="359.9" cy="586.4" r="1.03" fill="#9498c4" stroke="#5a60a8" stroke-width="0.7" opacity="0.75"/>
<circle cx="321.5" cy="622.1" r="1.16" fill="#9498c4" stroke="#5a60a8" stroke-width="0.7" opacity="0.66"/>
<circle cx="288.8" cy="589.4" r="0.93" fill="#9498c4" stroke="#5a60a8" stroke-width="0.7" opacity="0.75"/>
<circle cx="339.5" cy="621.1" r="1.20" fill="#9498c4" stroke="#5a60a8" stroke-width="0.7" opacity="0.63"/>
<circle cx="283.4" cy="607.3" r="1.25" fill="#9498c4" stroke="#5a60a8" stroke-width="0.7" opacity="0.51"/>
<circle cx="310.8" cy="595.5" r="1.21" fill="#9498c4" stroke="#5a60a8" stroke-width="0.7" opacity="0.62"/>
<circle cx="291.1" cy="609.0" r="1.12" fill="#9498c4" stroke="#5a60a8" stroke-width="0.7" opacity="0.77"/>
<circle cx="293.4" cy="647.3" r="0.94" fill="#9498c4" stroke="#5a60a8" stroke-width="0.7" opacity="0.59"/>
<circle cx="264.3" cy="583.9" r="1.21" fill="#9498c4" stroke="#5a60a8" stroke-width="0.7" opacity="0.75"/>
<circle cx="274.1" cy="590.5" r="1.07" fill="#9498c4" stroke="#5a60a8" stroke-width="0.7" opacity="0.76"/>
<circle cx="346.5" cy="638.8" r="1.14" fill="#9498c4" stroke="#5a60a8" stroke-width="0.7" opacity="0.55"/>
<circle cx="298.6" cy="590.9" r="1.11" fill="#9498c4" stroke="#5a60a8" stroke-width="0.7" opacity="0.70"/>
<circle cx="276.1" cy="595.8" r="1.21" fill="#9498c4" stroke="#5a60a8" stroke-width="0.7" opacity="0.51"/>
<circle cx="345.1" cy="651.1" r="1.28" fill="#9498c4" stroke="#5a60a8" stroke-width="0.7" opacity="0.63"/>
<circle cx="316.3" cy="624.5" r="1.15" fill="#9498c4" stroke="#5a60a8" stroke-width="0.7" opacity="0.84"/>
<circle cx="331.7" cy="600.0" r="1.24" fill="#9498c4" stroke="#5a60a8" stroke-width="0.7" opacity="0.67"/>
<circle cx="321.9" cy="636.9" r="0.90" fill="#9498c4" stroke="#5a60a8" stroke-width="0.7" opacity="0.77"/>
<circle cx="328.9" cy="616.6" r="1.11" fill="#9498c4" stroke="#5a60a8" stroke-width="0.7" opacity="0.66"/>
<circle cx="275.1" cy="619.9" r="0.91" fill="#9498c4" stroke="#5a60a8" stroke-width="0.7" opacity="0.68"/>
<circle cx="327.1" cy="612.5" r="1.13" fill="#9498c4" stroke="#5a60a8" stroke-width="0.7" opacity="0.84"/>
<circle cx="355.3" cy="585.9" r="1.22" fill="#9498c4" stroke="#5a60a8" stroke-width="0.7" opacity="0.72"/>
<circle cx="258.7" cy="605.3" r="0.99" fill="#9498c4" stroke="#5a60a8" stroke-width="0.7" opacity="0.53"/>
<circle cx="314.8" cy="654.4" r="1.03" fill="#9498c4" stroke="#5a60a8" stroke-width="0.7" opacity="0.80"/>
<circle cx="332.6" cy="585.8" r="1.24" fill="#9498c4" stroke="#5a60a8" stroke-width="0.7" opacity="0.71"/>
<circle cx="359.3" cy="636.0" r="1.20" fill="#9498c4" stroke="#5a60a8" stroke-width="0.7" opacity="0.62"/>
<circle cx="345.5" cy="654.6" r="1.24" fill="#9498c4" stroke="#5a60a8" stroke-width="0.7" opacity="0.65"/>
<circle cx="339.8" cy="616.1" r="0.94" fill="#9498c4" stroke="#5a60a8" stroke-width="0.7" opacity="0.51"/>
<circle cx="261.8" cy="591.5" r="0.96" fill="#9498c4" stroke="#5a60a8" stroke-width="0.7" opacity="0.67"/>
<circle cx="333.2" cy="620.6" r="1.07" fill="#9498c4" stroke="#5a60a8" stroke-width="0.7" opacity="0.73"/>
<circle cx="287.9" cy="614.3" r="1.20" fill="#9498c4" stroke="#5a60a8" stroke-width="0.7" opacity="0.64"/>
<circle cx="273.6" cy="651.8" r="1.19" fill="#9498c4" stroke="#5a60a8" stroke-width="0.7" opacity="0.63"/>
<circle cx="295.5" cy="619.9" r="1.14" fill="#9498c4" stroke="#5a60a8" stroke-width="0.7" opacity="0.58"/>
<circle cx="253.2" cy="592.2" r="1.21" fill="#9498c4" stroke="#5a60a8" stroke-width="0.7" opacity="0.55"/>
<circle cx="305.7" cy="591.1" r="0.98" fill="#9498c4" stroke="#5a60a8" stroke-width="0.7" opacity="0.56"/>
<circle cx="299.3" cy="588.7" r="0.91" fill="#9498c4" stroke="#5a60a8" stroke-width="0.7" opacity="0.54"/>
<circle cx="272.2" cy="616.5" r="0.92" fill="#9498c4" stroke="#5a60a8" stroke-width="0.7" opacity="0.51"/>
<circle cx="304.3" cy="609.4" r="1.18" fill="#9498c4" stroke="#5a60a8" stroke-width="0.7" opacity="0.52"/>
<circle cx="299.2" cy="608.4" r="0.91" fill="#9498c4" stroke="#5a60a8" stroke-width="0.7" opacity="0.84"/>
<circle cx="278.0" cy="582.3" r="1.09" fill="#9498c4" stroke="#5a60a8" stroke-width="0.7" opacity="0.56"/>
<circle cx="324.4" cy="604.1" r="0.95" fill="#9498c4" stroke="#5a60a8" stroke-width="0.7" opacity="0.52"/>
<circle cx="336.4" cy="597.9" r="1.22" fill="#9498c4" stroke="#5a60a8" stroke-width="0.7" opacity="0.66"/>
<circle cx="360.0" cy="600.1" r="1.00" fill="#9498c4" stroke="#5a60a8" stroke-width="0.7" opacity="0.59"/>
<circle cx="346.4" cy="628.5" r="1.04" fill="#9498c4" stroke="#5a60a8" stroke-width="0.7" opacity="0.53"/>
<circle cx="331.2" cy="657.8" r="1.14" fill="#9498c4" stroke="#5a60a8" stroke-width="0.7" opacity="0.50"/>
<circle cx="256.4" cy="582.0" r="0.97" fill="#9498c4" stroke="#5a60a8" stroke-width="0.7" opacity="0.51"/>
<circle cx="259.1" cy="630.7" r="1.26" fill="#9498c4" stroke="#5a60a8" stroke-width="0.7" opacity="0.57"/>
<circle cx="364.7" cy="615.4" r="1.22" fill="#9498c4" stroke="#5a60a8" stroke-width="0.7" opacity="0.82"/>
<circle cx="360.8" cy="577.2" r="1.02" fill="#9498c4" stroke="#5a60a8" stroke-width="0.7" opacity="0.71"/>
<circle cx="361.6" cy="581.8" r="1.02" fill="#9498c4" stroke="#5a60a8" stroke-width="0.7" opacity="0.80"/>
<circle cx="266.1" cy="607.8" r="1.03" fill="#9498c4" stroke="#5a60a8" stroke-width="0.7" opacity="0.74"/>
<circle cx="359.5" cy="589.3" r="1.20" fill="#9498c4" stroke="#5a60a8" stroke-width="0.7" opacity="0.76"/>
<circle cx="348.8" cy="622.0" r="1.27" fill="#9498c4" stroke="#5a60a8" stroke-width="0.7" opacity="0.63"/>
<circle cx="300.5" cy="594.0" r="1.21" fill="#9498c4" stroke="#5a60a8" stroke-width="0.7" opacity="0.67"/>
<circle cx="283.8" cy="588.8" r="1.19" fill="#9498c4" stroke="#5a60a8" stroke-width="0.7" opacity="0.71"/>
<circle cx="334.5" cy="607.6" r="1.09" fill="#9498c4" stroke="#5a60a8" stroke-width="0.7" opacity="0.55"/>
<circle cx="334.5" cy="576.2" r="1.09" fill="#9498c4" stroke="#5a60a8" stroke-width="0.7" opacity="0.77"/>
<circle cx="330.7" cy="582.6" r="0.99" fill="#9498c4" stroke="#5a60a8" stroke-width="0.7" opacity="0.80"/>
<circle cx="326.6" cy="650.0" r="1.25" fill="#9498c4" stroke="#5a60a8" stroke-width="0.7" opacity="0.66"/>
<circle cx="355.9" cy="637.4" r="1.03" fill="#9498c4" stroke="#5a60a8" stroke-width="0.7" opacity="0.63"/>
<circle cx="261.2" cy="608.7" r="1.28" fill="#9498c4" stroke="#5a60a8" stroke-width="0.7" opacity="0.54"/>
<circle cx="318.2" cy="583.7" r="0.93" fill="#9498c4" stroke="#5a60a8" stroke-width="0.7" opacity="0.73"/>
<circle cx="280.5" cy="578.4" r="0.96" fill="#9498c4" stroke="#5a60a8" stroke-width="0.7" opacity="0.73"/>
<circle cx="320.1" cy="575.2" r="0.99" fill="#9498c4" stroke="#5a60a8" stroke-width="0.7" opacity="0.84"/>
<circle cx="278.2" cy="622.7" r="1.07" fill="#9498c4" stroke="#5a60a8" stroke-width="0.7" opacity="0.77"/>
<circle cx="322.3" cy="642.3" r="1.11" fill="#9498c4" stroke="#5a60a8" stroke-width="0.7" opacity="0.57"/>
<circle cx="273.3" cy="581.0" r="1.23" fill="#9498c4" stroke="#5a60a8" stroke-width="0.7" opacity="0.54"/>
<circle cx="255.7" cy="657.6" r="0.98" fill="#9498c4" stroke="#5a60a8" stroke-width="0.7" opacity="0.81"/>
<circle cx="262.7" cy="614.3" r="0.99" fill="#9498c4" stroke="#5a60a8" stroke-width="0.7" opacity="0.79"/>
<circle cx="323.6" cy="629.6" r="1.20" fill="#9498c4" stroke="#5a60a8" stroke-width="0.7" opacity="0.81"/>
<circle cx="292.6" cy="626.2" r="1.08" fill="#9498c4" stroke="#5a60a8" stroke-width="0.7" opacity="0.54"/>
<circle cx="348.8" cy="625.5" r="1.23" fill="#9498c4" stroke="#5a60a8" stroke-width="0.7" opacity="0.57"/>
<circle cx="314.8" cy="614.3" r="1.19" fill="#9498c4" stroke="#5a60a8" stroke-width="0.7" opacity="0.53"/>
<circle cx="292.6" cy="616.0" r="0.93" fill="#9498c4" stroke="#5a60a8" stroke-width="0.7" opacity="0.69"/>
<circle cx="337.3" cy="610.7" r="1.16" fill="#9498c4" stroke="#5a60a8" stroke-width="0.7" opacity="0.71"/>
<circle cx="277.5" cy="604.5" r="1.30" fill="#9498c4" stroke="#5a60a8" stroke-width="0.7" opacity="0.62"/>
<circle cx="302.4" cy="581.5" r="0.99" fill="#9498c4" stroke="#5a60a8" stroke-width="0.7" opacity="0.56"/>
<circle cx="359.8" cy="636.9" r="1.25" fill="#9498c4" stroke="#5a60a8" stroke-width="0.7" opacity="0.85"/>
<circle cx="323.2" cy="654.6" r="1.11" fill="#9498c4" stroke="#5a60a8" stroke-width="0.7" opacity="0.65"/>
<circle cx="361.7" cy="652.1" r="1.28" fill="#9498c4" stroke="#5a60a8" stroke-width="0.7" opacity="0.67"/>
<circle cx="341.7" cy="609.3" r="1.30" fill="#9498c4" stroke="#5a60a8" stroke-width="0.7" opacity="0.82"/>
<circle cx="286.4" cy="654.8" r="0.97" fill="#9498c4" stroke="#5a60a8" stroke-width="0.7" opacity="0.53"/>
<circle cx="335.8" cy="599.6" r="1.11" fill="#9498c4" stroke="#5a60a8" stroke-width="0.7" opacity="0.72"/>
<circle cx="257.6" cy="638.5" r="1.01" fill="#9498c4" stroke="#5a60a8" stroke-width="0.7" opacity="0.65"/>
<circle cx="292.5" cy="638.2" r="1.20" fill="#9498c4" stroke="#5a60a8" stroke-width="0.7" opacity="0.60"/>
<circle cx="264.8" cy="600.0" r="1.06" fill="#9498c4" stroke="#5a60a8" stroke-width="0.7" opacity="0.53"/>
<circle cx="270.5" cy="640.0" r="1.18" fill="#9498c4" stroke="#5a60a8" stroke-width="0.7" opacity="0.84"/>
<circle cx="365.4" cy="649.8" r="1.05" fill="#9498c4" stroke="#5a60a8" stroke-width="0.7" opacity="0.56"/>
<circle cx="288.7" cy="614.2" r="1.11" fill="#9498c4" stroke="#5a60a8" stroke-width="0.7" opacity="0.69"/>
<circle cx="294.2" cy="647.8" r="1.01" fill="#9498c4" stroke="#5a60a8" stroke-width="0.7" opacity="0.66"/>
<circle cx="354.7" cy="643.9" r="1.02" fill="#9498c4" stroke="#5a60a8" stroke-width="0.7" opacity="0.58"/>
<circle cx="345.5" cy="575.1" r="0.95" fill="#9498c4" stroke="#5a60a8" stroke-width="0.7" opacity="0.69"/>
<circle cx="314.4" cy="588.5" r="0.92" fill="#9498c4" stroke="#5a60a8" stroke-width="0.7" opacity="0.57"/>
<circle cx="341.3" cy="614.4" r="1.29" fill="#9498c4" stroke="#5a60a8" stroke-width="0.7" opacity="0.77"/>
<circle cx="365.3" cy="577.2" r="0.97" fill="#9498c4" stroke="#5a60a8" stroke-width="0.7" opacity="0.50"/>
<circle cx="302.5" cy="603.4" r="0.92" fill="#9498c4" stroke="#5a60a8" stroke-width="0.7" opacity="0.69"/>
<circle cx="263.7" cy="601.1" r="1.00" fill="#9498c4" stroke="#5a60a8" stroke-width="0.7" opacity="0.78"/>
<circle cx="300.9" cy="596.7" r="0.92" fill="#9498c4" stroke="#5a60a8" stroke-width="0.7" opacity="0.65"/>
<circle cx="324.9" cy="632.5" r="1.27" fill="#9498c4" stroke="#5a60a8" stroke-width="0.7" opacity="0.78"/>
<circle cx="281.3" cy="585.9" r="1.20" fill="#9498c4" stroke="#5a60a8" stroke-width="0.7" opacity="0.78"/>
<circle cx="311.3" cy="645.9" r="1.12" fill="#9498c4" stroke="#5a60a8" stroke-width="0.7" opacity="0.60"/>
<circle cx="272.3" cy="575.7" r="1.16" fill="#9498c4" stroke="#5a60a8" stroke-width="0.7" opacity="0.81"/>
<circle cx="356.9" cy="614.5" r="1.17" fill="#9498c4" stroke="#5a60a8" stroke-width="0.7" opacity="0.83"/>
<circle cx="346.3" cy="626.2" r="1.07" fill="#9498c4" stroke="#5a60a8" stroke-width="0.7" opacity="0.68"/>
<circle cx="272.5" cy="590.0" r="1.17" fill="#9498c4" stroke="#5a60a8" stroke-width="0.7" opacity="0.85"/>
<circle cx="315.7" cy="609.4" r="1.04" fill="#9498c4" stroke="#5a60a8" stroke-width="0.7" opacity="0.66"/>
<circle cx="345.1" cy="613.3" r="1.28" fill="#9498c4" stroke="#5a60a8" stroke-width="0.7" opacity="0.55"/>
<circle cx="289.1" cy="619.2" r="1.06" fill="#9498c4" stroke="#5a60a8" stroke-width="0.7" opacity="0.80"/>
<circle cx="347.9" cy="654.6" r="1.14" fill="#9498c4" stroke="#5a60a8" stroke-width="0.7" opacity="0.51"/>
<circle cx="318.9" cy="621.6" r="1.10" fill="#9498c4" stroke="#5a60a8" stroke-width="0.7" opacity="0.60"/>
<circle cx="334.3" cy="652.9" r="0.94" fill="#9498c4" stroke="#5a60a8" stroke-width="0.7" opacity="0.73"/>
<circle cx="295.5" cy="618.6" r="1.26" fill="#9498c4" stroke="#5a60a8" stroke-width="0.7" opacity="0.84"/>
<circle cx="326.8" cy="591.0" r="1.27" fill="#9498c4" stroke="#5a60a8" stroke-width="0.7" opacity="0.56"/>
<circle cx="296.9" cy="645.7" r="1.03" fill="#9498c4" stroke="#5a60a8" stroke-width="0.7" opacity="0.59"/>
<circle cx="362.0" cy="655.7" r="1.03" fill="#9498c4" stroke="#5a60a8" stroke-width="0.7" opacity="0.64"/>
<circle cx="285.3" cy="585.5" r="1.00" fill="#9498c4" stroke="#5a60a8" stroke-width="0.7" opacity="0.84"/>
<circle cx="262.0" cy="594.0" r="0.98" fill="#9498c4" stroke="#5a60a8" stroke-width="0.7" opacity="0.53"/>
<circle cx="313.3" cy="638.3" r="1.24" fill="#9498c4" stroke="#5a60a8" stroke-width="0.7" opacity="0.72"/>
<circle cx="346.8" cy="574.7" r="1.01" fill="#9498c4" stroke="#5a60a8" stroke-width="0.7" opacity="0.84"/>
<circle cx="260.9" cy="597.3" r="1.09" fill="#9498c4" stroke="#5a60a8" stroke-width="0.7" opacity="0.59"/>
<circle cx="315.6" cy="578.3" r="0.99" fill="#9498c4" stroke="#5a60a8" stroke-width="0.7" opacity="0.84"/>
<circle cx="269.5" cy="652.3" r="0.97" fill="#9498c4" stroke="#5a60a8" stroke-width="0.7" opacity="0.85"/>
<circle cx="330.3" cy="630.0" r="0.96" fill="#9498c4" stroke="#5a60a8" stroke-width="0.7" opacity="0.52"/>
<circle cx="340.1" cy="589.4" r="0.98" fill="#9498c4" stroke="#5a60a8" stroke-width="0.7" opacity="0.79"/>
<circle cx="353.3" cy="578.4" r="1.28" fill="#9498c4" stroke="#5a60a8" stroke-width="0.7" opacity="0.69"/>
<circle cx="296.8" cy="583.4" r="1.06" fill="#9498c4" stroke="#5a60a8" stroke-width="0.7" opacity="0.85"/>
<circle cx="285.1" cy="585.5" r="0.96" fill="#9498c4" stroke="#5a60a8" stroke-width="0.7" opacity="0.54"/>
<circle cx="293.4" cy="653.2" r="0.93" fill="#9498c4" stroke="#5a60a8" stroke-width="0.7" opacity="0.57"/>
<circle cx="360.7" cy="660.2" r="1.29" fill="#9498c4" stroke="#5a60a8" stroke-width="0.7" opacity="0.59"/>
<circle cx="293.6" cy="656.3" r="1.09" fill="#9498c4" stroke="#5a60a8" stroke-width="0.7" opacity="0.75"/>
<circle cx="288.9" cy="576.0" r="1.04" fill="#9498c4" stroke="#5a60a8" stroke-width="0.7" opacity="0.76"/>
<circle cx="342.7" cy="623.3" r="1.09" fill="#9498c4" stroke="#5a60a8" stroke-width="0.7" opacity="0.69"/>
<circle cx="303.7" cy="620.3" r="1.23" fill="#9498c4" stroke="#5a60a8" stroke-width="0.7" opacity="0.57"/>
<circle cx="321.1" cy="654.7" r="1.24" fill="#9498c4" stroke="#5a60a8" stroke-width="0.7" opacity="0.56"/>
<circle cx="363.5" cy="646.7" r="0.97" fill="#9498c4" stroke="#5a60a8" stroke-width="0.7" opacity="0.59"/>
<circle cx="276.1" cy="578.8" r="1.29" fill="#9498c4" stroke="#5a60a8" stroke-width="0.7" opacity="0.64"/>
<circle cx="353.1" cy="584.1" r="0.91" fill="#9498c4" stroke="#5a60a8" stroke-width="0.7" opacity="0.80"/>
<circle cx="344.1" cy="659.8" r="1.17" fill="#9498c4" stroke="#5a60a8" stroke-width="0.7" opacity="0.68"/>
<circle cx="340.8" cy="582.2" r="1.12" fill="#9498c4" stroke="#5a60a8" stroke-width="0.7" opacity="0.65"/>
<circle cx="269.7" cy="626.0" r="1.03" fill="#9498c4" stroke="#5a60a8" stroke-width="0.7" opacity="0.68"/>
<circle cx="295.8" cy="601.7" r="1.04" fill="#9498c4" stroke="#5a60a8" stroke-width="0.7" opacity="0.71"/>
<circle cx="365.5" cy="655.0" r="1.24" fill="#9498c4" stroke="#5a60a8" stroke-width="0.7" opacity="0.79"/>
<circle cx="285.8" cy="658.5" r="1.01" fill="#9498c4" stroke="#5a60a8" stroke-width="0.7" opacity="0.54"/>
<circle cx="310.4" cy="637.4" r="1.04" fill="#9498c4" stroke="#5a60a8" stroke-width="0.7" opacity="0.73"/>
<circle cx="285.3" cy="657.6" r="1.08" fill="#9498c4" stroke="#5a60a8" stroke-width="0.7" opacity="0.67"/>
<circle cx="313.9" cy="649.7" r="1.29" fill="#9498c4" stroke="#5a60a8" stroke-width="0.7" opacity="0.68"/>
<circle cx="303.6" cy="627.5" r="0.93" fill="#9498c4" stroke="#5a60a8" stroke-width="0.7" opacity="0.65"/>
<circle cx="350.2" cy="641.3" r="0.92" fill="#9498c4" stroke="#5a60a8" stroke-width="0.7" opacity="0.80"/>
<circle cx="297.0" cy="658.9" r="1.05" fill="#9498c4" stroke="#5a60a8" stroke-width="0.7" opacity="0.58"/>
<circle cx="315.9" cy="650.5" r="1.07" fill="#9498c4" stroke="#5a60a8" stroke-width="0.7" opacity="0.80"/>
<circle cx="334.6" cy="605.4" r="1.02" fill="#9498c4" stroke="#5a60a8" stroke-width="0.7" opacity="0.68"/>
<circle cx="298.7" cy="606.4" r="1.16" fill="#9498c4" stroke="#5a60a8" stroke-width="0.7" opacity="0.81"/>
<circle cx="320.0" cy="586.8" r="0.99" fill="#9498c4" stroke="#5a60a8" stroke-width="0.7" opacity="0.63"/>
<circle cx="323.5" cy="586.2" r="0.93" fill="#9498c4" stroke="#5a60a8" stroke-width="0.7" opacity="0.61"/>
<circle cx="285.4" cy="576.7" r="1.12" fill="#9498c4" stroke="#5a60a8" stroke-width="0.7" opacity="0.82"/>
<circle cx="314.2" cy="637.8" r="1.23" fill="#9498c4" stroke="#5a60a8" stroke-width="0.7" opacity="0.79"/>
<circle cx="357.7" cy="612.3" r="1.17" fill="#9498c4" stroke="#5a60a8" stroke-width="0.7" opacity="0.54"/>
<circle cx="353.9" cy="606.8" r="1.09" fill="#9498c4" stroke="#5a60a8" stroke-width="0.7" opacity="0.81"/>
<circle cx="285.8" cy="590.6" r="1.23" fill="#9498c4" stroke="#5a60a8" stroke-width="0.7" opacity="0.71"/>
<circle cx="262.6" cy="576.6" r="1.04" fill="#9498c4" stroke="#5a60a8" stroke-width="0.7" opacity="0.50"/>
<circle cx="348.5" cy="590.0" r="1.01" fill="#9498c4" stroke="#5a60a8" stroke-width="0.7" opacity="0.64"/>
<circle cx="311.6" cy="611.5" r="1.15" fill="#9498c4" stroke="#5a60a8" stroke-width="0.7" opacity="0.73"/>
<circle cx="303.0" cy="582.6" r="1.29" fill="#9498c4" stroke="#5a60a8" stroke-width="0.7" opacity="0.74"/>
<circle cx="262.5" cy="612.3" r="1.20" fill="#9498c4" stroke="#5a60a8" stroke-width="0.7" opacity="0.85"/>
<circle cx="260.5" cy="575.0" r="1.09" fill="#9498c4" stroke="#5a60a8" stroke-width="0.7" opacity="0.65"/>
<circle cx="355.6" cy="645.5" r="1.03" fill="#9498c4" stroke="#5a60a8" stroke-width="0.7" opacity="0.65"/>
<circle cx="319.8" cy="650.5" r="0.98" fill="#9498c4" stroke="#5a60a8" stroke-width="0.7" opacity="0.64"/>
<circle cx="263.1" cy="629.5" r="0.91" fill="#9498c4" stroke="#5a60a8" stroke-width="0.7" opacity="0.83"/>
<circle cx="313.0" cy="623.7" r="0.93" fill="#9498c4" stroke="#5a60a8" stroke-width="0.7" opacity="0.58"/>
<circle cx="306.7" cy="648.2" r="1.12" fill="#9498c4" stroke="#5a60a8" stroke-width="0.7" opacity="0.60"/>
<circle cx="365.6" cy="631.3" r="1.11" fill="#9498c4" stroke="#5a60a8" stroke-width="0.7" opacity="0.57"/>
<circle cx="287.2" cy="651.9" r="0.95" fill="#9498c4" stroke="#5a60a8" stroke-width="0.7" opacity="0.69"/>
<circle cx="324.1" cy="604.8" r="1.21" fill="#9498c4" stroke="#5a60a8" stroke-width="0.7" opacity="0.82"/>
<circle cx="351.3" cy="637.9" r="0.98" fill="#9498c4" stroke="#5a60a8" stroke-width="0.7" opacity="0.52"/>
<circle cx="302.6" cy="601.1" r="0.98" fill="#9498c4" stroke="#5a60a8" stroke-width="0.7" opacity="0.80"/>
<circle cx="277.7" cy="645.2" r="1.28" fill="#9498c4" stroke="#5a60a8" stroke-width="0.7" opacity="0.54"/>
<circle cx="357.8" cy="608.5" r="0.98" fill="#9498c4" stroke="#5a60a8" stroke-width="0.7" opacity="0.57"/>
<circle cx="257.2" cy="617.2" r="1.05" fill="#9498c4" stroke="#5a60a8" stroke-width="0.7" opacity="0.80"/>
<circle cx="348.5" cy="579.1" r="1.06" fill="#9498c4" stroke="#5a60a8" stroke-width="0.7" opacity="0.64"/>
<circle cx="273.3" cy="595.8" r="1.01" fill="#9498c4" stroke="#5a60a8" stroke-width="0.7" opacity="0.74"/>
<circle cx="292.0" cy="583.8" r="0.99" fill="#9498c4" stroke="#5a60a8" stroke-width="0.7" opacity="0.65"/>
<circle cx="317.7" cy="595.4" r="1.18" fill="#9498c4" stroke="#5a60a8" stroke-width="0.7" opacity="0.58"/>
<circle cx="329.9" cy="626.8" r="0.97" fill="#9498c4" stroke="#5a60a8" stroke-width="0.7" opacity="0.76"/>
<circle cx="298.2" cy="620.8" r="1.14" fill="#9498c4" stroke="#5a60a8" stroke-width="0.7" opacity="0.72"/>
<circle cx="303.7" cy="579.0" r="1.21" fill="#9498c4" stroke="#5a60a8" stroke-width="0.7" opacity="0.80"/>
<circle cx="309.2" cy="624.2" r="1.01" fill="#9498c4" stroke="#5a60a8" stroke-width="0.7" opacity="0.81"/>
<circle cx="331.6" cy="593.3" r="1.23" fill="#9498c4" stroke="#5a60a8" stroke-width="0.7" opacity="0.85"/>
<circle cx="292.6" cy="660.1" r="1.09" fill="#9498c4" stroke="#5a60a8" stroke-width="0.7" opacity="0.56"/>
<circle cx="335.2" cy="603.4" r="1.19" fill="#9498c4" stroke="#5a60a8" stroke-width="0.7" opacity="0.70"/>
<circle cx="265.3" cy="619.8" r="1.24" fill="#9498c4" stroke="#5a60a8" stroke-width="0.7" opacity="0.67"/>
<circle cx="314.8" cy="648.7" r="1.08" fill="#9498c4" stroke="#5a60a8" stroke-width="0.7" opacity="0.67"/>
<circle cx="319.8" cy="645.3" r="0.98" fill="#9498c4" stroke="#5a60a8" stroke-width="0.7" opacity="0.53"/>
<circle cx="340.3" cy="621.9" r="1.02" fill="#9498c4" stroke="#5a60a8" stroke-width="0.7" opacity="0.81"/>
<circle cx="354.5" cy="620.9" r="1.30" fill="#9498c4" stroke="#5a60a8" stroke-width="0.7" opacity="0.79"/>
<circle cx="338.8" cy="599.3" r="0.90" fill="#9498c4" stroke="#5a60a8" stroke-width="0.7" opacity="0.74"/>
<circle cx="337.3" cy="604.5" r="1.09" fill="#9498c4" stroke="#5a60a8" stroke-width="0.7" opacity="0.70"/>
<circle cx="281.6" cy="634.4" r="1.13" fill="#9498c4" stroke="#5a60a8" stroke-width="0.7" opacity="0.63"/>
<circle cx="265.5" cy="622.0" r="1.03" fill="#9498c4" stroke="#5a60a8" stroke-width="0.7" opacity="0.75"/>
<circle cx="272.7" cy="608.2" r="0.98" fill="#9498c4" stroke="#5a60a8" stroke-width="0.7" opacity="0.64"/>
<circle cx="319.1" cy="583.4" r="0.92" fill="#9498c4" stroke="#5a60a8" stroke-width="0.7" opacity="0.67"/>
<circle cx="276.0" cy="617.8" r="0.97" fill="#9498c4" stroke="#5a60a8" stroke-width="0.7" opacity="0.54"/>
<circle cx="314.6" cy="653.9" r="1.25" fill="#9498c4" stroke="#5a60a8" stroke-width="0.7" opacity="0.68"/>
<circle cx="298.5" cy="579.9" r="1.01" fill="#9498c4" stroke="#5a60a8" stroke-width="0.7" opacity="0.61"/>
<circle cx="361.0" cy="584.3" r="1.28" fill="#9498c4" stroke="#5a60a8" stroke-width="0.7" opacity="0.67"/>
<circle cx="302.7" cy="596.8" r="1.29" fill="#9498c4" stroke="#5a60a8" stroke-width="0.7" opacity="0.57"/>
<circle cx="318.5" cy="618.3" r="0.98" fill="#9498c4" stroke="#5a60a8" stroke-width="0.7" opacity="0.58"/>
<circle cx="366.0" cy="642.4" r="1.19" fill="#9498c4" stroke="#5a60a8" stroke-width="0.7" opacity="0.82"/>
<circle cx="264.2" cy="634.9" r="1.20" fill="#9498c4" stroke="#5a60a8" stroke-width="0.7" opacity="0.58"/>
<circle cx="305.4" cy="658.3" r="1.03" fill="#9498c4" stroke="#5a60a8" stroke-width="0.7" opacity="0.77"/>
<circle cx="271.9" cy="631.8" r="1.01" fill="#9498c4" stroke="#5a60a8" stroke-width="0.7" opacity="0.68"/>
<circle cx="295.6" cy="649.3" r="1.20" fill="#9498c4" stroke="#5a60a8" stroke-width="0.7" opacity="0.68"/>
<circle cx="331.8" cy="611.1" r="1.22" fill="#9498c4" stroke="#5a60a8" stroke-width="0.7" opacity="0.59"/>
<circle cx="315.4" cy="624.7" r="1.06" fill="#9498c4" stroke="#5a60a8" stroke-width="0.7" opacity="0.52"/>
<circle cx="272.4" cy="629.5" r="0.98" fill="#9498c4" stroke="#5a60a8" stroke-width="0.7" opacity="0.77"/>
<circle cx="310.9" cy="656.5" r="1.24" fill="#9498c4" stroke="#5a60a8" stroke-width="0.7" opacity="0.75"/>
<circle cx="295.7" cy="578.0" r="1.12" fill="#9498c4" stroke="#5a60a8" stroke-width="0.7" opacity="0.76"/>
<circle cx="358.6" cy="591.7" r="0.96" fill="#9498c4" stroke="#5a60a8" stroke-width="0.7" opacity="0.84"/>
<circle cx="337.8" cy="616.0" r="1.20" fill="#9498c4" stroke="#5a60a8" stroke-width="0.7" opacity="0.55"/>
<circle cx="315.4" cy="631.9" r="1.14" fill="#9498c4" stroke="#5a60a8" stroke-width="0.7" opacity="0.56"/>
<circle cx="268.6" cy="628.1" r="1.25" fill="#9498c4" stroke="#5a60a8" stroke-width="0.7" opacity="0.55"/>
<circle cx="253.7" cy="581.3" r="1.21" fill="#9498c4" stroke="#5a60a8" stroke-width="0.7" opacity="0.64"/>
<circle cx="305.2" cy="660.0" r="1.14" fill="#9498c4" stroke="#5a60a8" stroke-width="0.7" opacity="0.59"/>
<circle cx="333.4" cy="574.4" r="1.01" fill="#9498c4" stroke="#5a60a8" stroke-width="0.7" opacity="0.74"/>
<circle cx="272.5" cy="577.0" r="1.11" fill="#9498c4" stroke="#5a60a8" stroke-width="0.7" opacity="0.61"/>
<circle cx="364.4" cy="583.0" r="1.22" fill="#9498c4" stroke="#5a60a8" stroke-width="0.7" opacity="0.64"/>
<circle cx="345.4" cy="612.6" r="1.17" fill="#9498c4" stroke="#5a60a8" stroke-width="0.7" opacity="0.61"/>
<circle cx="278.7" cy="613.2" r="1.22" fill="#9498c4" stroke="#5a60a8" stroke-width="0.7" opacity="0.62"/>
<circle cx="279.3" cy="610.1" r="0.94" fill="#9498c4" stroke="#5a60a8" stroke-width="0.7" opacity="0.61"/>
<circle cx="318.7" cy="621.3" r="1.14" fill="#9498c4" stroke="#5a60a8" stroke-width="0.7" opacity="0.60"/>
<circle cx="255.7" cy="576.5" r="1.04" fill="#9498c4" stroke="#5a60a8" stroke-width="0.7" opacity="0.57"/>
<circle cx="318.2" cy="597.1" r="1.20" fill="#9498c4" stroke="#5a60a8" stroke-width="0.7" opacity="0.71"/>
<circle cx="328.9" cy="637.7" r="1.11" fill="#9498c4" stroke="#5a60a8" stroke-width="0.7" opacity="0.65"/>
<circle cx="288.3" cy="579.6" r="1.22" fill="#9498c4" stroke="#5a60a8" stroke-width="0.7" opacity="0.68"/>
<circle cx="264.3" cy="654.2" r="1.13" fill="#9498c4" stroke="#5a60a8" stroke-width="0.7" opacity="0.72"/>
<circle cx="303.3" cy="585.1" r="1.30" fill="#9498c4" stroke="#5a60a8" stroke-width="0.7" opacity="0.56"/>
<circle cx="294.9" cy="660.4" r="0.95" fill="#9498c4" stroke="#5a60a8" stroke-width="0.7" opacity="0.67"/>
<circle cx="308.0" cy="595.6" r="1.27" fill="#9498c4" stroke="#5a60a8" stroke-width="0.7" opacity="0.64"/>
<circle cx="254.2" cy="615.1" r="0.90" fill="#9498c4" stroke="#5a60a8" stroke-width="0.7" opacity="0.75"/>
<circle cx="352.7" cy="652.4" r="0.92" fill="#9498c4" stroke="#5a60a8" stroke-width="0.7" opacity="0.74"/>
<circle cx="287.9" cy="615.0" r="1.02" fill="#9498c4" stroke="#5a60a8" stroke-width="0.7" opacity="0.61"/>
<circle cx="268.1" cy="628.2" r="0.94" fill="#9498c4" stroke="#5a60a8" stroke-width="0.7" opacity="0.84"/>
<circle cx="257.9" cy="657.4" r="0.98" fill="#9498c4" stroke="#5a60a8" stroke-width="0.7" opacity="0.53"/>
<circle cx="338.4" cy="620.0" r="1.21" fill="#9498c4" stroke="#5a60a8" stroke-width="0.7" opacity="0.68"/>
<circle cx="325.3" cy="581.3" r="1.17" fill="#9498c4" stroke="#5a60a8" stroke-width="0.7" opacity="0.68"/>
<circle cx="363.4" cy="574.7" r="0.93" fill="#9498c4" stroke="#5a60a8" stroke-width="0.7" opacity="0.74"/>
<circle cx="359.2" cy="610.6" r="1.18" fill="#9498c4" stroke="#5a60a8" stroke-width="0.7" opacity="0.70"/>
<circle cx="297.8" cy="614.4" r="1.14" fill="#9498c4" stroke="#5a60a8" stroke-width="0.7" opacity="0.51"/>
<circle cx="288.0" cy="637.9" r="1.00" fill="#9498c4" stroke="#5a60a8" stroke-width="0.7" opacity="0.67"/>
<circle cx="282.4" cy="605.1" r="1.16" fill="#9498c4" stroke="#5a60a8" stroke-width="0.7" opacity="0.76"/>
<circle cx="362.7" cy="615.3" r="0.98" fill="#9498c4" stroke="#5a60a8" stroke-width="0.7" opacity="0.62"/>
<circle cx="259.6" cy="594.9" r="1.13" fill="#9498c4" stroke="#5a60a8" stroke-width="0.7" opacity="0.71"/>
<circle cx="280.6" cy="589.9" r="0.94" fill="#9498c4" stroke="#5a60a8" stroke-width="0.7" opacity="0.56"/>
<circle cx="310.5" cy="596.2" r="1.25" fill="#9498c4" stroke="#5a60a8" stroke-width="0.7" opacity="0.70"/>
<circle cx="292.0" cy="611.4" r="0.92" fill="#9498c4" stroke="#5a60a8" stroke-width="0.7" opacity="0.76"/>
<circle cx="339.1" cy="605.6" r="1.19" fill="#9498c4" stroke="#5a60a8" stroke-width="0.7" opacity="0.60"/>
<circle cx="278.1" cy="593.9" r="0.98" fill="#9498c4" stroke="#5a60a8" stroke-width="0.7" opacity="0.71"/>
<circle cx="326.6" cy="637.0" r="0.94" fill="#9498c4" stroke="#5a60a8" stroke-width="0.7" opacity="0.77"/>
<circle cx="307.8" cy="606.9" r="1.10" fill="#9498c4" stroke="#5a60a8" stroke-width="0.7" opacity="0.65"/>
<circle cx="275.9" cy="608.3" r="1.16" fill="#9498c4" stroke="#5a60a8" stroke-width="0.7" opacity="0.75"/>
<circle cx="357.9" cy="591.0" r="1.26" fill="#9498c4" stroke="#5a60a8" stroke-width="0.7" opacity="0.78"/>
<circle cx="334.7" cy="658.7" r="0.96" fill="#9498c4" stroke="#5a60a8" stroke-width="0.7" opacity="0.77"/>
<circle cx="356.2" cy="584.7" r="1.14" fill="#9498c4" stroke="#5a60a8" stroke-width="0.7" opacity="0.83"/>
<circle cx="286.5" cy="648.0" r="1.26" fill="#9498c4" stroke="#5a60a8" stroke-width="0.7" opacity="0.65"/>
<circle cx="269.6" cy="592.8" r="1.23" fill="#9498c4" stroke="#5a60a8" stroke-width="0.7" opacity="0.65"/>
<circle cx="289.1" cy="612.4" r="1.27" fill="#9498c4" stroke="#5a60a8" stroke-width="0.7" opacity="0.59"/>
<circle cx="255.0" cy="656.1" r="1.03" fill="#9498c4" stroke="#5a60a8" stroke-width="0.7" opacity="0.63"/>
<circle cx="364.9" cy="598.5" r="0.93" fill="#9498c4" stroke="#5a60a8" stroke-width="0.7" opacity="0.81"/>
<circle cx="280.9" cy="593.3" r="1.28" fill="#9498c4" stroke="#5a60a8" stroke-width="0.7" opacity="0.58"/>
<circle cx="356.3" cy="602.9" r="1.02" fill="#9498c4" stroke="#5a60a8" stroke-width="0.7" opacity="0.58"/>
<circle cx="315.2" cy="622.5" r="1.06" fill="#9498c4" stroke="#5a60a8" stroke-width="0.7" opacity="0.68"/>
<circle cx="287.1" cy="646.5" r="1.27" fill="#9498c4" stroke="#5a60a8" stroke-width="0.7" opacity="0.76"/>
<circle cx="347.0" cy="580.3" r="1.00" fill="#9498c4" stroke="#5a60a8" stroke-width="0.7" opacity="0.57"/>
<circle cx="270.7" cy="657.8" r="1.26" fill="#9498c4" stroke="#5a60a8" stroke-width="0.7" opacity="0.82"/>
<circle cx="316.9" cy="584.3" r="1.07" fill="#9498c4" stroke="#5a60a8" stroke-width="0.7" opacity="0.52"/>
<circle cx="356.8" cy="597.1" r="1.02" fill="#9498c4" stroke="#5a60a8" stroke-width="0.7" opacity="0.83"/>
<circle cx="275.9" cy="653.8" r="1.02" fill="#9498c4" stroke="#5a60a8" stroke-width="0.7" opacity="0.73"/>
<circle cx="265.1" cy="651.7" r="1.06" fill="#9498c4" stroke="#5a60a8" stroke-width="0.7" opacity="0.62"/>
<circle cx="328.0" cy="625.4" r="1.00" fill="#9498c4" stroke="#5a60a8" stroke-width="0.7" opacity="0.54"/>
<circle cx="319.0" cy="576.3" r="1.25" fill="#9498c4" stroke="#5a60a8" stroke-width="0.7" opacity="0.62"/>
<circle cx="272.4" cy="602.5" r="0.95" fill="#9498c4" stroke="#5a60a8" stroke-width="0.7" opacity="0.61"/>
<circle cx="315.3" cy="609.3" r="1.03" fill="#9498c4" stroke="#5a60a8" stroke-width="0.7" opacity="0.60"/>
<circle cx="308.8" cy="641.4" r="1.08" fill="#9498c4" stroke="#5a60a8" stroke-width="0.7" opacity="0.77"/>
<circle cx="308.3" cy="584.6" r="0.97" fill="#9498c4" stroke="#5a60a8" stroke-width="0.7" opacity="0.80"/>
<circle cx="307.9" cy="607.2" r="1.11" fill="#9498c4" stroke="#5a60a8" stroke-width="0.7" opacity="0.80"/>
<circle cx="296.0" cy="605.4" r="1.05" fill="#9498c4" stroke="#5a60a8" stroke-width="0.7" opacity="0.50"/>
<circle cx="315.4" cy="615.6" r="1.10" fill="#9498c4" stroke="#5a60a8" stroke-width="0.7" opacity="0.66"/>
<circle cx="307.1" cy="635.9" r="0.97" fill="#9498c4" stroke="#5a60a8" stroke-width="0.7" opacity="0.84"/>
<circle cx="266.1" cy="649.0" r="0.97" fill="#9498c4" stroke="#5a60a8" stroke-width="0.7" opacity="0.78"/>
<circle cx="282.8" cy="581.0" r="1.12" fill="#9498c4" stroke="#5a60a8" stroke-width="0.7" opacity="0.79"/>
<circle cx="350.0" cy="649.9" r="1.29" fill="#9498c4" stroke="#5a60a8" stroke-width="0.7" opacity="0.52"/>
<circle cx="296.4" cy="583.4" r="1.20" fill="#9498c4" stroke="#5a60a8" stroke-width="0.7" opacity="0.66"/>
<circle cx="338.3" cy="642.9" r="1.30" fill="#9498c4" stroke="#5a60a8" stroke-width="0.7" opacity="0.74"/>
<circle cx="353.4" cy="621.5" r="0.93" fill="#9498c4" stroke="#5a60a8" stroke-width="0.7" opacity="0.81"/>
<circle cx="263.4" cy="581.6" r="1.23" fill="#9498c4" stroke="#5a60a8" stroke-width="0.7" opacity="0.60"/>
<circle cx="328.9" cy="576.7" r="0.98" fill="#9498c4" stroke="#5a60a8" stroke-width="0.7" opacity="0.75"/>
<circle cx="257.2" cy="618.3" r="1.27" fill="#9498c4" stroke="#5a60a8" stroke-width="0.7" opacity="0.58"/>
<circle cx="333.8" cy="638.4" r="1.15" fill="#9498c4" stroke="#5a60a8" stroke-width="0.7" opacity="0.77"/>
<circle cx="333.1" cy="575.4" r="0.98" fill="#9498c4" stroke="#5a60a8" stroke-width="0.7" opacity="0.69"/>
<circle cx="364.2" cy="592.9" r="1.13" fill="#9498c4" stroke="#5a60a8" stroke-width="0.7" opacity="0.54"/>
<circle cx="350.1" cy="612.6" r="1.11" fill="#9498c4" stroke="#5a60a8" stroke-width="0.7" opacity="0.73"/>
<circle cx="268.6" cy="637.1" r="1.22" fill="#9498c4" stroke="#5a60a8" stroke-width="0.7" opacity="0.80"/>
<circle cx="285.2" cy="594.4" r="0.97" fill="#9498c4" stroke="#5a60a8" stroke-width="0.7" opacity="0.81"/>
<circle cx="303.2" cy="607.8" r="1.11" fill="#9498c4" stroke="#5a60a8" stroke-width="0.7" opacity="0.74"/>
<circle cx="289.4" cy="603.2" r="1.21" fill="#9498c4" stroke="#5a60a8" stroke-width="0.7" opacity="0.77"/>
<circle cx="286.9" cy="580.6" r="1.27" fill="#9498c4" stroke="#5a60a8" stroke-width="0.7" opacity="0.76"/>
<circle cx="321.1" cy="609.1" r="1.28" fill="#9498c4" stroke="#5a60a8" stroke-width="0.7" opacity="0.65"/>
<circle cx="277.8" cy="582.9" r="1.04" fill="#9498c4" stroke="#5a60a8" stroke-width="0.7" opacity="0.71"/>
<circle cx="294.7" cy="655.9" r="1.16" fill="#9498c4" stroke="#5a60a8" stroke-width="0.7" opacity="0.66"/>
<circle cx="328.7" cy="626.1" r="1.15" fill="#9498c4" stroke="#5a60a8" stroke-width="0.7" opacity="0.67"/>
<circle cx="312.9" cy="616.6" r="1.23" fill="#9498c4" stroke="#5a60a8" stroke-width="0.7" opacity="0.57"/>
<circle cx="343.1" cy="599.9" r="1.24" fill="#9498c4" stroke="#5a60a8" stroke-width="0.7" opacity="0.53"/>
<circle cx="308.6" cy="612.4" r="1.18" fill="#9498c4" stroke="#5a60a8" stroke-width="0.7" opacity="0.57"/>
<circle cx="283.0" cy="585.7" r="1.12" fill="#9498c4" stroke="#5a60a8" stroke-width="0.7" opacity="0.70"/>
<circle cx="253.0" cy="589.6" r="0.98" fill="#9498c4" stroke="#5a60a8" stroke-width="0.7" opacity="0.84"/>
<circle cx="305.1" cy="623.0" r="1.02" fill="#9498c4" stroke="#5a60a8" stroke-width="0.7" opacity="0.73"/>
<circle cx="346.2" cy="632.1" r="0.90" fill="#9498c4" stroke="#5a60a8" stroke-width="0.7" opacity="0.65"/>
<circle cx="309.0" cy="578.0" r="1.22" fill="#9498c4" stroke="#5a60a8" stroke-width="0.7" opacity="0.61"/>
<circle cx="286.6" cy="628.2" r="1.13" fill="#9498c4" stroke="#5a60a8" stroke-width="0.7" opacity="0.67"/>
<circle cx="351.5" cy="619.0" r="1.04" fill="#9498c4" stroke="#5a60a8" stroke-width="0.7" opacity="0.52"/>
<circle cx="316.4" cy="605.6" r="1.11" fill="#9498c4" stroke="#5a60a8" stroke-width="0.7" opacity="0.62"/>
<circle cx="253.7" cy="577.5" r="0.96" fill="#9498c4" stroke="#5a60a8" stroke-width="0.7" opacity="0.53"/>
<circle cx="350.6" cy="624.3" r="1.00" fill="#9498c4" stroke="#5a60a8" stroke-width="0.7" opacity="0.75"/>
<circle cx="325.7" cy="579.6" r="1.20" fill="#9498c4" stroke="#5a60a8" stroke-width="0.7" opacity="0.58"/>
<circle cx="367.4" cy="586.4" r="1.01" fill="#9498c4" stroke="#5a60a8" stroke-width="0.7" opacity="0.59"/>
<circle cx="351.9" cy="644.8" r="1.13" fill="#9498c4" stroke="#5a60a8" stroke-width="0.7" opacity="0.55"/>
<circle cx="302.1" cy="634.8" r="0.92" fill="#9498c4" stroke="#5a60a8" stroke-width="0.7" opacity="0.82"/>
<circle cx="349.5" cy="654.6" r="1.18" fill="#9498c4" stroke="#5a60a8" stroke-width="0.7" opacity="0.72"/>
<circle cx="364.8" cy="597.2" r="1.02" fill="#9498c4" stroke="#5a60a8" stroke-width="0.7" opacity="0.54"/>
<circle cx="273.6" cy="643.1" r="0.94" fill="#9498c4" stroke="#5a60a8" stroke-width="0.7" opacity="0.76"/>
<circle cx="298.4" cy="649.9" r="1.20" fill="#9498c4" stroke="#5a60a8" stroke-width="0.7" opacity="0.74"/>
<circle cx="349.9" cy="577.9" r="1.01" fill="#9498c4" stroke="#5a60a8" stroke-width="0.7" opacity="0.63"/>
<circle cx="302.2" cy="632.0" r="1.25" fill="#9498c4" stroke="#5a60a8" stroke-width="0.7" opacity="0.76"/>
<circle cx="359.5" cy="634.3" r="1.04" fill="#9498c4" stroke="#5a60a8" stroke-width="0.7" opacity="0.68"/>
<circle cx="338.8" cy="644.5" r="1.05" fill="#9498c4" stroke="#5a60a8" stroke-width="0.7" opacity="0.62"/>
<circle cx="323.4" cy="593.9" r="1.25" fill="#9498c4" stroke="#5a60a8" stroke-width="0.7" opacity="0.50"/>
<circle cx="327.4" cy="616.1" r="0.98" fill="#9498c4" stroke="#5a60a8" stroke-width="0.7" opacity="0.70"/>
<circle cx="307.3" cy="657.2" r="1.25" fill="#9498c4" stroke="#5a60a8" stroke-width="0.7" opacity="0.71"/>
<circle cx="352.9" cy="650.5" r="0.97" fill="#9498c4" stroke="#5a60a8" stroke-width="0.7" opacity="0.79"/>
<circle cx="348.6" cy="659.7" r="1.20" fill="#9498c4" stroke="#5a60a8" stroke-width="0.7" opacity="0.64"/>
<circle cx="276.6" cy="630.5" r="0.98" fill="#9498c4" stroke="#5a60a8" stroke-width="0.7" opacity="0.77"/>
<circle cx="318.8" cy="645.5" r="1.04" fill="#9498c4" stroke="#5a60a8" stroke-width="0.7" opacity="0.61"/>
<circle cx="356.7" cy="631.4" r="1.05" fill="#9498c4" stroke="#5a60a8" stroke-width="0.7" opacity="0.70"/>
<circle cx="302.9" cy="629.7" r="1.11" fill="#9498c4" stroke="#5a60a8" stroke-width="0.7" opacity="0.60"/>
<circle cx="365.4" cy="650.6" r="1.20" fill="#9498c4" stroke="#5a60a8" stroke-width="0.7" opacity="0.60"/>
<circle cx="275.2" cy="637.3" r="1.23" fill="#9498c4" stroke="#5a60a8" stroke-width="0.7" opacity="0.73"/>
<circle cx="277.4" cy="636.4" r="1.11" fill="#9498c4" stroke="#5a60a8" stroke-width="0.7" opacity="0.63"/>
<circle cx="320.5" cy="612.9" r="1.16" fill="#9498c4" stroke="#5a60a8" stroke-width="0.7" opacity="0.76"/>
<circle cx="365.7" cy="583.8" r="1.13" fill="#9498c4" stroke="#5a60a8" stroke-width="0.7" opacity="0.83"/>
<circle cx="328.3" cy="624.2" r="1.24" fill="#9498c4" stroke="#5a60a8" stroke-width="0.7" opacity="0.51"/>
<circle cx="343.9" cy="628.0" r="1.13" fill="#9498c4" stroke="#5a60a8" stroke-width="0.7" opacity="0.61"/>
<circle cx="324.0" cy="585.0" r="1.11" fill="#9498c4" stroke="#5a60a8" stroke-width="0.7" opacity="0.59"/>
<circle cx="359.9" cy="643.6" r="1.09" fill="#9498c4" stroke="#5a60a8" stroke-width="0.7" opacity="0.76"/>
<circle cx="297.1" cy="619.4" r="0.96" fill="#9498c4" stroke="#5a60a8" stroke-width="0.7" opacity="0.80"/>
<circle cx="340.6" cy="639.8" r="0.93" fill="#9498c4" stroke="#5a60a8" stroke-width="0.7" opacity="0.79"/>
<circle cx="254.3" cy="623.0" r="1.10" fill="#9498c4" stroke="#5a60a8" stroke-width="0.7" opacity="0.52"/>
<circle cx="301.3" cy="650.8" r="1.15" fill="#9498c4" stroke="#5a60a8" stroke-width="0.7" opacity="0.61"/>
<circle cx="346.4" cy="604.9" r="1.26" fill="#9498c4" stroke="#5a60a8" stroke-width="0.7" opacity="0.64"/>
<circle cx="261.8" cy="658.1" r="0.93" fill="#9498c4" stroke="#5a60a8" stroke-width="0.7" opacity="0.59"/>
<circle cx="341.4" cy="584.1" r="1.12" fill="#9498c4" stroke="#5a60a8" stroke-width="0.7" opacity="0.80"/>
<circle cx="320.6" cy="604.2" r="1.20" fill="#9498c4" stroke="#5a60a8" stroke-width="0.7" opacity="0.79"/>
<circle cx="319.4" cy="628.3" r="1.03" fill="#9498c4" stroke="#5a60a8" stroke-width="0.7" opacity="0.64"/>
<circle cx="366.8" cy="658.1" r="0.90" fill="#9498c4" stroke="#5a60a8" stroke-width="0.7" opacity="0.57"/>
<circle cx="278.8" cy="642.6" r="0.98" fill="#9498c4" stroke="#5a60a8" stroke-width="0.7" opacity="0.56"/>
<circle cx="340.8" cy="588.8" r="1.29" fill="#9498c4" stroke="#5a60a8" stroke-width="0.7" opacity="0.66"/>
<circle cx="356.1" cy="644.9" r="0.98" fill="#9498c4" stroke="#5a60a8" stroke-width="0.7" opacity="0.77"/>
<circle cx="300.5" cy="593.4" r="0.92" fill="#9498c4" stroke="#5a60a8" stroke-width="0.7" opacity="0.75"/>
<circle cx="317.3" cy="600.4" r="1.23" fill="#9498c4" stroke="#5a60a8" stroke-width="0.7" opacity="0.57"/>
<circle cx="304.0" cy="581.7" r="1.04" fill="#9498c4" stroke="#5a60a8" stroke-width="0.7" opacity="0.81"/>
<circle cx="310.3" cy="587.5" r="0.99" fill="#9498c4" stroke="#5a60a8" stroke-width="0.7" opacity="0.73"/>
<circle cx="284.8" cy="650.8" r="0.92" fill="#9498c4" stroke="#5a60a8" stroke-width="0.7" opacity="0.80"/>
<circle cx="324.3" cy="645.2" r="1.04" fill="#9498c4" stroke="#5a60a8" stroke-width="0.7" opacity="0.52"/>
<circle cx="272.7" cy="628.3" r="0.91" fill="#9498c4" stroke="#5a60a8" stroke-width="0.7" opacity="0.54"/>
<circle cx="342.7" cy="650.0" r="1.24" fill="#9498c4" stroke="#5a60a8" stroke-width="0.7" opacity="0.79"/>
<circle cx="316.6" cy="649.7" r="1.18" fill="#9498c4" stroke="#5a60a8" stroke-width="0.7" opacity="0.70"/>
<circle cx="301.8" cy="576.3" r="0.94" fill="#9498c4" stroke="#5a60a8" stroke-width="0.7" opacity="0.59"/>
<circle cx="305.8" cy="584.6" r="1.29" fill="#9498c4" stroke="#5a60a8" stroke-width="0.7" opacity="0.70"/>
<circle cx="337.9" cy="651.2" r="0.99" fill="#9498c4" stroke="#5a60a8" stroke-width="0.7" opacity="0.81"/>
<circle cx="362.9" cy="597.3" r="0.95" fill="#9498c4" stroke="#5a60a8" stroke-width="0.7" opacity="0.78"/>
<circle cx="355.0" cy="643.1" r="1.06" fill="#9498c4" stroke="#5a60a8" stroke-width="0.7" opacity="0.71"/>
<circle cx="266.0" cy="594.4" r="1.07" fill="#9498c4" stroke="#5a60a8" stroke-width="0.7" opacity="0.76"/>
<circle cx="263.1" cy="654.3" r="0.91" fill="#9498c4" stroke="#5a60a8" stroke-width="0.7" opacity="0.84"/>
<circle cx="280.1" cy="644.9" r="1.23" fill="#9498c4" stroke="#5a60a8" stroke-width="0.7" opacity="0.83"/>
<circle cx="306.9" cy="634.5" r="1.02" fill="#9498c4" stroke="#5a60a8" stroke-width="0.7" opacity="0.79"/>
<circle cx="265.4" cy="650.5" r="1.14" fill="#9498c4" stroke="#5a60a8" stroke-width="0.7" opacity="0.52"/>
<circle cx="361.0" cy="601.5" r="0.93" fill="#9498c4" stroke="#5a60a8" stroke-width="0.7" opacity="0.59"/>
<circle cx="256.0" cy="598.5" r="1.18" fill="#9498c4" stroke="#5a60a8" stroke-width="0.7" opacity="0.85"/>
<circle cx="325.4" cy="647.9" r="1.23" fill="#9498c4" stroke="#5a60a8" stroke-width="0.7" opacity="0.75"/>
<circle cx="297.0" cy="595.9" r="0.96" fill="#9498c4" stroke="#5a60a8" stroke-width="0.7" opacity="0.69"/>
<circle cx="276.3" cy="638.1" r="1.03" fill="#9498c4" stroke="#5a60a8" stroke-width="0.7" opacity="0.70"/>
<circle cx="315.6" cy="628.4" r="0.96" fill="#9498c4" stroke="#5a60a8" stroke-width="0.7" opacity="0.59"/>
<circle cx="332.0" cy="592.6" r="1.17" fill="#9498c4" stroke="#5a60a8" stroke-width="0.7" opacity="0.84"/>
<circle cx="297.6" cy="657.2" r="1.15" fill="#9498c4" stroke="#5a60a8" stroke-width="0.7" opacity="0.83"/>
<circle cx="313.3" cy="639.2" r="1.17" fill="#9498c4" stroke="#5a60a8" stroke-width="0.7" opacity="0.57"/>
<circle cx="312.4" cy="624.3" r="1.09" fill="#9498c4" stroke="#5a60a8" stroke-width="0.7" opacity="0.73"/>
<circle cx="357.3" cy="642.8" r="1.22" fill="#9498c4" stroke="#5a60a8" stroke-width="0.7" opacity="0.55"/>
<circle cx="333.6" cy="628.3" r="0.88" fill="#34449c" opacity="0.60"/>
<circle cx="272.7" cy="658.4" r="0.65" fill="#34449c" opacity="0.81"/>
<circle cx="320.8" cy="608.5" r="0.68" fill="#34449c" opacity="0.77"/>
<circle cx="366.0" cy="620.2" r="0.82" fill="#34449c" opacity="0.69"/>
<circle cx="334.6" cy="626.4" r="0.80" fill="#34449c" opacity="0.86"/>
<circle cx="262.1" cy="657.7" r="0.74" fill="#34449c" opacity="0.68"/>
<circle cx="306.2" cy="582.6" r="0.59" fill="#34449c" opacity="0.85"/>
<circle cx="334.5" cy="649.0" r="0.56" fill="#34449c" opacity="0.63"/>
<circle cx="296.5" cy="617.0" r="0.78" fill="#34449c" opacity="0.69"/>
<circle cx="337.5" cy="624.6" r="0.62" fill="#34449c" opacity="0.84"/>
<circle cx="261.4" cy="625.3" r="0.58" fill="#34449c" opacity="0.61"/>
<circle cx="307.8" cy="619.1" r="0.75" fill="#34449c" opacity="0.71"/>
<circle cx="359.6" cy="641.9" r="0.56" fill="#34449c" opacity="0.60"/>
<circle cx="363.2" cy="609.7" r="0.54" fill="#34449c" opacity="0.65"/>
<circle cx="333.3" cy="589.4" r="0.65" fill="#34449c" opacity="0.80"/>
<circle cx="293.3" cy="630.6" r="0.88" fill="#34449c" opacity="0.84"/>
<circle cx="325.0" cy="628.2" r="0.62" fill="#34449c" opacity="0.79"/>
<circle cx="327.4" cy="624.9" r="0.70" fill="#34449c" opacity="0.83"/>
<circle cx="276.4" cy="635.8" r="0.89" fill="#34449c" opacity="0.61"/>
<circle cx="281.8" cy="659.3" r="0.53" fill="#34449c" opacity="0.85"/>
<circle cx="319.6" cy="580.2" r="0.75" fill="#34449c" opacity="0.60"/>
<circle cx="350.4" cy="600.3" r="0.87" fill="#34449c" opacity="0.87"/>
<circle cx="268.6" cy="609.0" r="0.56" fill="#34449c" opacity="0.83"/>
<circle cx="263.8" cy="580.6" r="0.55" fill="#34449c" opacity="0.86"/>
<circle cx="281.3" cy="602.1" r="0.68" fill="#34449c" opacity="0.77"/>
<circle cx="300.3" cy="655.9" r="0.64" fill="#34449c" opacity="0.74"/>
<circle cx="351.9" cy="595.2" r="0.57" fill="#34449c" opacity="0.85"/>
<circle cx="289.2" cy="651.2" r="0.83" fill="#34449c" opacity="0.71"/>
<circle cx="291.1" cy="582.9" r="0.85" fill="#34449c" opacity="0.73"/>
<circle cx="292.2" cy="589.4" r="0.59" fill="#34449c" opacity="0.86"/>
<circle cx="267.9" cy="622.1" r="0.75" fill="#34449c" opacity="0.76"/>
<circle cx="310.6" cy="608.5" r="0.58" fill="#34449c" opacity="0.85"/>
<circle cx="355.9" cy="622.9" r="0.60" fill="#34449c" opacity="0.87"/>
<circle cx="276.1" cy="589.0" r="0.75" fill="#34449c" opacity="0.85"/>
<circle cx="318.6" cy="583.7" r="0.89" fill="#34449c" opacity="0.65"/>
<circle cx="292.4" cy="659.5" r="0.82" fill="#34449c" opacity="0.83"/>
<circle cx="261.6" cy="647.7" r="0.66" fill="#34449c" opacity="0.60"/>
<circle cx="343.5" cy="654.5" r="0.52" fill="#34449c" opacity="0.74"/>
<circle cx="356.4" cy="602.9" r="0.62" fill="#34449c" opacity="0.83"/>
<circle cx="303.6" cy="660.3" r="0.84" fill="#34449c" opacity="0.86"/>
<circle cx="334.1" cy="591.0" r="0.77" fill="#34449c" opacity="0.77"/>
<circle cx="308.3" cy="623.1" r="0.62" fill="#34449c" opacity="0.66"/>
<circle cx="357.6" cy="605.9" r="0.54" fill="#34449c" opacity="0.89"/>
<circle cx="311.5" cy="632.5" r="0.64" fill="#34449c" opacity="0.64"/>
<circle cx="291.1" cy="646.1" r="0.61" fill="#34449c" opacity="0.87"/>
<circle cx="287.8" cy="651.6" r="0.57" fill="#34449c" opacity="0.73"/>
<circle cx="267.7" cy="587.0" r="0.71" fill="#34449c" opacity="0.71"/>
<circle cx="314.6" cy="592.9" r="0.62" fill="#34449c" opacity="0.70"/>
<circle cx="356.0" cy="581.2" r="0.67" fill="#34449c" opacity="0.86"/>
<circle cx="318.6" cy="596.3" r="0.90" fill="#34449c" opacity="0.63"/>
<circle cx="268.6" cy="575.7" r="0.68" fill="#34449c" opacity="0.86"/>
<circle cx="285.3" cy="598.8" r="0.82" fill="#34449c" opacity="0.62"/>
<circle cx="254.9" cy="631.5" r="0.54" fill="#34449c" opacity="0.76"/>
<circle cx="269.5" cy="626.1" r="0.84" fill="#34449c" opacity="0.74"/>
<circle cx="284.3" cy="628.0" r="0.78" fill="#34449c" opacity="0.62"/>
<circle cx="280.4" cy="606.7" r="0.70" fill="#34449c" opacity="0.68"/>
<circle cx="328.5" cy="596.2" r="0.86" fill="#34449c" opacity="0.71"/>
<circle cx="278.3" cy="581.0" r="0.55" fill="#34449c" opacity="0.66"/>
<circle cx="354.2" cy="610.2" r="0.68" fill="#34449c" opacity="0.89"/>
<circle cx="363.9" cy="640.3" r="0.60" fill="#34449c" opacity="0.70"/>
<circle cx="310.9" cy="596.5" r="0.64" fill="#34449c" opacity="0.66"/>
<circle cx="280.6" cy="638.9" r="0.74" fill="#34449c" opacity="0.73"/>
<circle cx="307.0" cy="627.1" r="0.77" fill="#34449c" opacity="0.61"/>
<circle cx="349.7" cy="614.1" r="0.64" fill="#34449c" opacity="0.89"/>
<circle cx="339.8" cy="604.4" r="0.51" fill="#34449c" opacity="0.73"/>
<circle cx="303.4" cy="606.5" r="0.54" fill="#34449c" opacity="0.77"/>
<circle cx="282.1" cy="639.9" r="0.71" fill="#34449c" opacity="0.69"/>
<circle cx="347.7" cy="612.8" r="0.53" fill="#34449c" opacity="0.68"/>
<circle cx="258.9" cy="611.3" r="0.86" fill="#34449c" opacity="0.88"/>
<circle cx="327.7" cy="587.5" r="0.60" fill="#34449c" opacity="0.66"/>
<circle cx="295.7" cy="629.3" r="0.51" fill="#34449c" opacity="0.75"/>
<circle cx="301.8" cy="631.3" r="0.83" fill="#34449c" opacity="0.72"/>
<circle cx="322.1" cy="597.7" r="0.68" fill="#34449c" opacity="0.79"/>
<circle cx="258.9" cy="618.6" r="0.70" fill="#34449c" opacity="0.66"/>
<circle cx="281.5" cy="645.3" r="0.64" fill="#34449c" opacity="0.66"/>
<circle cx="285.6" cy="619.2" r="0.66" fill="#34449c" opacity="0.71"/>
<circle cx="289.9" cy="592.9" r="0.70" fill="#34449c" opacity="0.78"/>
<circle cx="263.1" cy="625.2" r="0.62" fill="#34449c" opacity="0.89"/>
<circle cx="360.6" cy="585.5" r="0.78" fill="#34449c" opacity="0.70"/>
<circle cx="265.7" cy="649.8" r="0.86" fill="#34449c" opacity="0.84"/>
<rect x="357.70" y="657.30" width="7.00" height="1.30" fill="#ffffff" />
</g>
<clipPath id="clip4"><rect x="11.2" y="665.4" width="116.0" height="87.3"/></clipPath>
<filter id="bl4" x="-20%" y="-20%" width="140%" height="140%"><feGaussianBlur stdDeviation="1.1"/></filter>
<filter id="bl4s" x="-50%" y="-50%" width="200%" height="200%"><feGaussianBlur stdDeviation="0.5"/></filter>
<filter id="nf4_0" filterUnits="userSpaceOnUse" x="11.2" y="665.4" width="116.0" height="87.3" color-interpolation-filters="sRGB"><feTurbulence type="fractalNoise" baseFrequency="0.07" numOctaves="2" seed="40"/><feColorMatrix type="matrix" values="0 0 0 0 0.706 0 0 0 0 0.416 0 0 0 0 0.204 6.0 0 0 0 -2.7"/></filter>
<filter id="nf4_1" filterUnits="userSpaceOnUse" x="11.2" y="665.4" width="116.0" height="87.3" color-interpolation-filters="sRGB"><feTurbulence type="fractalNoise" baseFrequency="0.3" numOctaves="2" seed="41"/><feColorMatrix type="matrix" values="0 0 0 0 0.941 0 0 0 0 0.886 0 0 0 0 0.831 3.5 0 0 0 -1.6"/></filter>
<g clip-path="url(#clip4)">
<rect x="11.20" y="665.40" width="116.00" height="87.30" fill="#d3a47e" />
<rect x="11.2" y="665.4" width="116.0" height="87.3" filter="url(#nf4_0)" opacity="0.4"/>
<rect x="11.2" y="665.4" width="116.0" height="87.3" filter="url(#nf4_1)" opacity="0.35"/>
<g filter="url(#bl4)" fill="none" stroke="#efe4d9" stroke-linecap="round" stroke-linejoin="round">
<path d="M11.0,704.3 L19.5,696.6 L34.9,690.6 L45.2,686.3" stroke-width="4.8"/>
<path d="M36.6,670.1 L50.3,673.5 L65.7,675.2 L79.3,671.8" stroke-width="4.8"/>
<path d="M82.7,666.7 L81.0,682.1 L86.1,695.7 L79.3,704.3 L69.1,709.4" stroke-width="4.8"/>
<path d="M11.0,728.2 L26.4,727.3 L40.0,730.8" stroke-width="4.8"/>
<path d="M53.7,721.4 L67.4,716.2 L82.7,712.8 L96.4,716.2 L106.6,726.5" stroke-width="4.8"/>
<path d="M23.0,710.3 L38.3,711.1 L53.7,706.0" stroke-width="3.8"/>
<path d="M93.0,685.5 L106.6,682.1 L120.3,678.7" stroke-width="2.9"/>
<path d="M113.5,699.2 L127.1,709.4" stroke-width="2.9"/>
<path d="M86.1,743.6 L99.8,747.0" stroke-width="2.9"/>
</g>
<circle cx="38.6" cy="674.4" r="1.01" fill="#7c78b0" stroke="#403c84" stroke-width="0.7" opacity="0.60"/>
<circle cx="18.9" cy="700.5" r="1.22" fill="#7c78b0" stroke="#403c84" stroke-width="0.7" opacity="0.83"/>
<circle cx="100.0" cy="684.8" r="1.06" fill="#7c78b0" stroke="#403c84" stroke-width="0.7" opacity="0.65"/>
<circle cx="31.2" cy="674.7" r="0.94" fill="#7c78b0" stroke="#403c84" stroke-width="0.7" opacity="0.87"/>
<circle cx="107.4" cy="735.8" r="1.17" fill="#7c78b0" stroke="#403c84" stroke-width="0.7" opacity="0.62"/>
<circle cx="47.1" cy="720.1" r="1.14" fill="#7c78b0" stroke="#403c84" stroke-width="0.7" opacity="0.85"/>
<circle cx="113.3" cy="673.0" r="1.09" fill="#7c78b0" stroke="#403c84" stroke-width="0.7" opacity="0.79"/>
<circle cx="69.9" cy="680.9" r="1.04" fill="#7c78b0" stroke="#403c84" stroke-width="0.7" opacity="0.58"/>
<circle cx="119.6" cy="741.0" r="1.07" fill="#7c78b0" stroke="#403c84" stroke-width="0.7" opacity="0.66"/>
<circle cx="116.6" cy="715.4" r="1.20" fill="#7c78b0" stroke="#403c84" stroke-width="0.7" opacity="0.85"/>
<circle cx="70.2" cy="701.5" r="1.09" fill="#7c78b0" stroke="#403c84" stroke-width="0.7" opacity="0.70"/>
<circle cx="29.9" cy="692.0" r="1.18" fill="#7c78b0" stroke="#403c84" stroke-width="0.7" opacity="0.57"/>
<circle cx="16.6" cy="720.1" r="0.96" fill="#7c78b0" stroke="#403c84" stroke-width="0.7" opacity="0.74"/>
<circle cx="65.9" cy="695.3" r="1.25" fill="#7c78b0" stroke="#403c84" stroke-width="0.7" opacity="0.62"/>
<circle cx="59.1" cy="683.1" r="1.10" fill="#7c78b0" stroke="#403c84" stroke-width="0.7" opacity="0.65"/>
<circle cx="52.5" cy="730.6" r="0.98" fill="#7c78b0" stroke="#403c84" stroke-width="0.7" opacity="0.75"/>
<circle cx="116.1" cy="674.2" r="0.87" fill="#7c78b0" stroke="#403c84" stroke-width="0.7" opacity="0.63"/>
<circle cx="100.0" cy="719.1" r="0.94" fill="#7c78b0" stroke="#403c84" stroke-width="0.7" opacity="0.67"/>
<circle cx="31.8" cy="705.5" r="0.87" fill="#7c78b0" stroke="#403c84" stroke-width="0.7" opacity="0.79"/>
<circle cx="115.1" cy="748.7" r="1.14" fill="#7c78b0" stroke="#403c84" stroke-width="0.7" opacity="0.89"/>
<circle cx="13.3" cy="690.6" r="1.24" fill="#7c78b0" stroke="#403c84" stroke-width="0.7" opacity="0.82"/>
<circle cx="58.8" cy="747.8" r="1.10" fill="#7c78b0" stroke="#403c84" stroke-width="0.7" opacity="0.84"/>
<circle cx="45.2" cy="682.1" r="1.03" fill="#7c78b0" stroke="#403c84" stroke-width="0.7" opacity="0.60"/>
<circle cx="55.5" cy="749.4" r="0.98" fill="#7c78b0" stroke="#403c84" stroke-width="0.7" opacity="0.55"/>
<circle cx="16.4" cy="680.2" r="1.16" fill="#7c78b0" stroke="#403c84" stroke-width="0.7" opacity="0.68"/>
<circle cx="44.9" cy="673.9" r="1.24" fill="#7c78b0" stroke="#403c84" stroke-width="0.7" opacity="0.70"/>
<circle cx="35.3" cy="670.6" r="0.87" fill="#7c78b0" stroke="#403c84" stroke-width="0.7" opacity="0.61"/>
<circle cx="89.7" cy="678.5" r="0.87" fill="#7c78b0" stroke="#403c84" stroke-width="0.7" opacity="0.72"/>
<circle cx="40.1" cy="752.5" r="0.90" fill="#7c78b0" stroke="#403c84" stroke-width="0.7" opacity="0.74"/>
<circle cx="101.0" cy="701.1" r="1.25" fill="#7c78b0" stroke="#403c84" stroke-width="0.7" opacity="0.72"/>
<circle cx="39.3" cy="701.2" r="0.86" fill="#7c78b0" stroke="#403c84" stroke-width="0.7" opacity="0.70"/>
<circle cx="40.0" cy="743.0" r="1.18" fill="#7c78b0" stroke="#403c84" stroke-width="0.7" opacity="0.72"/>
<circle cx="14.9" cy="687.6" r="0.95" fill="#7c78b0" stroke="#403c84" stroke-width="0.7" opacity="0.62"/>
<circle cx="38.1" cy="741.3" r="0.91" fill="#7c78b0" stroke="#403c84" stroke-width="0.7" opacity="0.57"/>
<circle cx="118.9" cy="714.8" r="1.25" fill="#7c78b0" stroke="#403c84" stroke-width="0.7" opacity="0.69"/>
<circle cx="115.7" cy="722.5" r="1.17" fill="#7c78b0" stroke="#403c84" stroke-width="0.7" opacity="0.81"/>
<circle cx="68.5" cy="673.5" r="0.93" fill="#7c78b0" stroke="#403c84" stroke-width="0.7" opacity="0.86"/>
<circle cx="115.6" cy="746.1" r="0.98" fill="#7c78b0" stroke="#403c84" stroke-width="0.7" opacity="0.78"/>
<circle cx="103.9" cy="721.5" r="1.18" fill="#7c78b0" stroke="#403c84" stroke-width="0.7" opacity="0.73"/>
<circle cx="87.1" cy="725.3" r="0.96" fill="#7c78b0" stroke="#403c84" stroke-width="0.7" opacity="0.87"/>
<circle cx="122.1" cy="671.9" r="1.24" fill="#7c78b0" stroke="#403c84" stroke-width="0.7" opacity="0.89"/>
<circle cx="88.7" cy="669.3" r="1.21" fill="#7c78b0" stroke="#403c84" stroke-width="0.7" opacity="0.59"/>
<circle cx="123.6" cy="723.6" r="0.87" fill="#7c78b0" stroke="#403c84" stroke-width="0.7" opacity="0.61"/>
<circle cx="84.9" cy="715.1" r="1.15" fill="#7c78b0" stroke="#403c84" stroke-width="0.7" opacity="0.87"/>
<circle cx="36.6" cy="665.7" r="1.22" fill="#7c78b0" stroke="#403c84" stroke-width="0.7" opacity="0.55"/>
<circle cx="112.9" cy="675.5" r="1.17" fill="#7c78b0" stroke="#403c84" stroke-width="0.7" opacity="0.82"/>
<circle cx="113.0" cy="713.5" r="1.20" fill="#7c78b0" stroke="#403c84" stroke-width="0.7" opacity="0.62"/>
<circle cx="89.1" cy="694.3" r="1.21" fill="#7c78b0" stroke="#403c84" stroke-width="0.7" opacity="0.82"/>
<circle cx="65.9" cy="711.4" r="0.86" fill="#7c78b0" stroke="#403c84" stroke-width="0.7" opacity="0.56"/>
<circle cx="80.2" cy="708.1" r="1.20" fill="#7c78b0" stroke="#403c84" stroke-width="0.7" opacity="0.76"/>
<circle cx="27.3" cy="697.1" r="1.16" fill="#7c78b0" stroke="#403c84" stroke-width="0.7" opacity="0.73"/>
<circle cx="12.4" cy="738.5" r="1.18" fill="#7c78b0" stroke="#403c84" stroke-width="0.7" opacity="0.58"/>
<circle cx="74.2" cy="698.7" r="1.16" fill="#7c78b0" stroke="#403c84" stroke-width="0.7" opacity="0.66"/>
<circle cx="38.3" cy="707.9" r="1.24" fill="#7c78b0" stroke="#403c84" stroke-width="0.7" opacity="0.58"/>
<circle cx="24.5" cy="719.6" r="1.20" fill="#7c78b0" stroke="#403c84" stroke-width="0.7" opacity="0.73"/>
<circle cx="61.5" cy="740.3" r="1.16" fill="#7c78b0" stroke="#403c84" stroke-width="0.7" opacity="0.57"/>
<circle cx="113.4" cy="682.5" r="0.97" fill="#7c78b0" stroke="#403c84" stroke-width="0.7" opacity="0.84"/>
<circle cx="60.2" cy="735.1" r="0.92" fill="#7c78b0" stroke="#403c84" stroke-width="0.7" opacity="0.86"/>
<circle cx="31.7" cy="678.4" r="1.05" fill="#7c78b0" stroke="#403c84" stroke-width="0.7" opacity="0.67"/>
<circle cx="74.1" cy="744.3" r="1.13" fill="#7c78b0" stroke="#403c84" stroke-width="0.7" opacity="0.55"/>
<circle cx="47.4" cy="713.0" r="1.04" fill="#7c78b0" stroke="#403c84" stroke-width="0.7" opacity="0.80"/>
<circle cx="67.4" cy="672.0" r="0.95" fill="#7c78b0" stroke="#403c84" stroke-width="0.7" opacity="0.85"/>
<circle cx="52.6" cy="732.3" r="1.24" fill="#7c78b0" stroke="#403c84" stroke-width="0.7" opacity="0.77"/>
<circle cx="89.7" cy="718.6" r="0.98" fill="#7c78b0" stroke="#403c84" stroke-width="0.7" opacity="0.87"/>
<circle cx="65.4" cy="745.0" r="0.97" fill="#7c78b0" stroke="#403c84" stroke-width="0.7" opacity="0.85"/>
<circle cx="102.5" cy="718.9" r="1.03" fill="#7c78b0" stroke="#403c84" stroke-width="0.7" opacity="0.60"/>
<circle cx="100.6" cy="697.0" r="1.11" fill="#7c78b0" stroke="#403c84" stroke-width="0.7" opacity="0.60"/>
<circle cx="20.8" cy="678.0" r="1.17" fill="#7c78b0" stroke="#403c84" stroke-width="0.7" opacity="0.61"/>
<circle cx="115.8" cy="697.9" r="1.08" fill="#7c78b0" stroke="#403c84" stroke-width="0.7" opacity="0.67"/>
<circle cx="83.2" cy="673.6" r="1.01" fill="#7c78b0" stroke="#403c84" stroke-width="0.7" opacity="0.88"/>
<circle cx="32.0" cy="722.5" r="0.98" fill="#7c78b0" stroke="#403c84" stroke-width="0.7" opacity="0.66"/>
<circle cx="13.9" cy="667.2" r="1.23" fill="#7c78b0" stroke="#403c84" stroke-width="0.7" opacity="0.84"/>
<circle cx="104.1" cy="735.9" r="1.23" fill="#7c78b0" stroke="#403c84" stroke-width="0.7" opacity="0.61"/>
<circle cx="79.0" cy="708.6" r="1.08" fill="#7c78b0" stroke="#403c84" stroke-width="0.7" opacity="0.88"/>
<circle cx="99.4" cy="749.9" r="0.90" fill="#7c78b0" stroke="#403c84" stroke-width="0.7" opacity="0.78"/>
<circle cx="89.5" cy="730.5" r="1.10" fill="#7c78b0" stroke="#403c84" stroke-width="0.7" opacity="0.84"/>
<circle cx="46.3" cy="746.4" r="1.01" fill="#7c78b0" stroke="#403c84" stroke-width="0.7" opacity="0.76"/>
<circle cx="115.2" cy="726.8" r="0.97" fill="#7c78b0" stroke="#403c84" stroke-width="0.7" opacity="0.63"/>
<circle cx="49.1" cy="720.1" r="1.25" fill="#7c78b0" stroke="#403c84" stroke-width="0.7" opacity="0.86"/>
<circle cx="57.6" cy="700.4" r="1.18" fill="#7c78b0" stroke="#403c84" stroke-width="0.7" opacity="0.65"/>
<circle cx="58.9" cy="666.6" r="0.92" fill="#7c78b0" stroke="#403c84" stroke-width="0.7" opacity="0.74"/>
<circle cx="91.6" cy="719.1" r="1.00" fill="#7c78b0" stroke="#403c84" stroke-width="0.7" opacity="0.88"/>
<circle cx="83.5" cy="679.0" r="0.88" fill="#7c78b0" stroke="#403c84" stroke-width="0.7" opacity="0.89"/>
<circle cx="125.8" cy="745.7" r="1.09" fill="#7c78b0" stroke="#403c84" stroke-width="0.7" opacity="0.66"/>
<circle cx="21.8" cy="687.9" r="0.94" fill="#7c78b0" stroke="#403c84" stroke-width="0.7" opacity="0.87"/>
<circle cx="114.7" cy="733.3" r="0.91" fill="#7c78b0" stroke="#403c84" stroke-width="0.7" opacity="0.63"/>
<circle cx="45.9" cy="748.2" r="0.92" fill="#7c78b0" stroke="#403c84" stroke-width="0.7" opacity="0.83"/>
<circle cx="90.2" cy="713.2" r="1.23" fill="#7c78b0" stroke="#403c84" stroke-width="0.7" opacity="0.64"/>
<circle cx="72.0" cy="679.2" r="0.89" fill="#7c78b0" stroke="#403c84" stroke-width="0.7" opacity="0.56"/>
<circle cx="47.9" cy="676.0" r="0.87" fill="#7c78b0" stroke="#403c84" stroke-width="0.7" opacity="0.90"/>
<circle cx="44.7" cy="743.1" r="1.13" fill="#7c78b0" stroke="#403c84" stroke-width="0.7" opacity="0.81"/>
<circle cx="87.2" cy="748.6" r="1.20" fill="#7c78b0" stroke="#403c84" stroke-width="0.7" opacity="0.80"/>
<circle cx="76.2" cy="726.0" r="1.14" fill="#7c78b0" stroke="#403c84" stroke-width="0.7" opacity="0.74"/>
<circle cx="69.5" cy="678.9" r="1.19" fill="#7c78b0" stroke="#403c84" stroke-width="0.7" opacity="0.72"/>
<circle cx="19.1" cy="680.1" r="1.20" fill="#7c78b0" stroke="#403c84" stroke-width="0.7" opacity="0.64"/>
<circle cx="56.6" cy="725.0" r="1.19" fill="#7c78b0" stroke="#403c84" stroke-width="0.7" opacity="0.66"/>
<circle cx="56.1" cy="702.3" r="0.86" fill="#7c78b0" stroke="#403c84" stroke-width="0.7" opacity="0.86"/>
<circle cx="13.4" cy="749.2" r="0.91" fill="#7c78b0" stroke="#403c84" stroke-width="0.7" opacity="0.60"/>
<circle cx="109.6" cy="737.3" r="0.94" fill="#7c78b0" stroke="#403c84" stroke-width="0.7" opacity="0.74"/>
<circle cx="66.5" cy="728.1" r="0.92" fill="#7c78b0" stroke="#403c84" stroke-width="0.7" opacity="0.84"/>
<circle cx="126.8" cy="727.1" r="1.22" fill="#7c78b0" stroke="#403c84" stroke-width="0.7" opacity="0.88"/>
<circle cx="55.2" cy="739.4" r="1.18" fill="#7c78b0" stroke="#403c84" stroke-width="0.7" opacity="0.76"/>
<circle cx="23.6" cy="719.5" r="1.21" fill="#7c78b0" stroke="#403c84" stroke-width="0.7" opacity="0.66"/>
<circle cx="86.2" cy="743.7" r="1.09" fill="#7c78b0" stroke="#403c84" stroke-width="0.7" opacity="0.56"/>
<circle cx="84.5" cy="687.7" r="1.19" fill="#7c78b0" stroke="#403c84" stroke-width="0.7" opacity="0.78"/>
<circle cx="46.9" cy="743.6" r="1.10" fill="#7c78b0" stroke="#403c84" stroke-width="0.7" opacity="0.67"/>
<circle cx="108.0" cy="743.2" r="1.21" fill="#7c78b0" stroke="#403c84" stroke-width="0.7" opacity="0.86"/>
<circle cx="87.6" cy="726.4" r="1.09" fill="#7c78b0" stroke="#403c84" stroke-width="0.7" opacity="0.73"/>
<circle cx="125.7" cy="696.2" r="0.88" fill="#7c78b0" stroke="#403c84" stroke-width="0.7" opacity="0.80"/>
<circle cx="69.0" cy="713.0" r="1.09" fill="#7c78b0" stroke="#403c84" stroke-width="0.7" opacity="0.64"/>
<circle cx="34.5" cy="671.6" r="1.16" fill="#7c78b0" stroke="#403c84" stroke-width="0.7" opacity="0.87"/>
<circle cx="92.0" cy="675.6" r="1.24" fill="#7c78b0" stroke="#403c84" stroke-width="0.7" opacity="0.84"/>
<circle cx="70.3" cy="665.5" r="1.19" fill="#7c78b0" stroke="#403c84" stroke-width="0.7" opacity="0.77"/>
<circle cx="83.4" cy="667.0" r="1.14" fill="#7c78b0" stroke="#403c84" stroke-width="0.7" opacity="0.56"/>
<circle cx="66.7" cy="678.0" r="0.99" fill="#7c78b0" stroke="#403c84" stroke-width="0.7" opacity="0.86"/>
<circle cx="98.0" cy="736.6" r="0.97" fill="#7c78b0" stroke="#403c84" stroke-width="0.7" opacity="0.69"/>
<circle cx="81.4" cy="668.4" r="1.01" fill="#7c78b0" stroke="#403c84" stroke-width="0.7" opacity="0.89"/>
<circle cx="98.7" cy="740.7" r="0.97" fill="#7c78b0" stroke="#403c84" stroke-width="0.7" opacity="0.79"/>
<circle cx="102.7" cy="726.9" r="1.02" fill="#7c78b0" stroke="#403c84" stroke-width="0.7" opacity="0.61"/>
<circle cx="13.3" cy="742.8" r="1.22" fill="#7c78b0" stroke="#403c84" stroke-width="0.7" opacity="0.65"/>
<circle cx="98.9" cy="700.9" r="1.10" fill="#7c78b0" stroke="#403c84" stroke-width="0.7" opacity="0.84"/>
<circle cx="48.5" cy="719.5" r="0.95" fill="#7c78b0" stroke="#403c84" stroke-width="0.7" opacity="0.73"/>
<circle cx="14.7" cy="688.4" r="0.96" fill="#7c78b0" stroke="#403c84" stroke-width="0.7" opacity="0.87"/>
<circle cx="26.6" cy="731.6" r="0.88" fill="#7c78b0" stroke="#403c84" stroke-width="0.7" opacity="0.90"/>
<circle cx="30.5" cy="673.4" r="0.93" fill="#7c78b0" stroke="#403c84" stroke-width="0.7" opacity="0.88"/>
<circle cx="88.8" cy="743.1" r="1.05" fill="#7c78b0" stroke="#403c84" stroke-width="0.7" opacity="0.59"/>
<circle cx="50.7" cy="705.2" r="1.25" fill="#7c78b0" stroke="#403c84" stroke-width="0.7" opacity="0.61"/>
<circle cx="39.5" cy="739.0" r="0.90" fill="#7c78b0" stroke="#403c84" stroke-width="0.7" opacity="0.89"/>
<circle cx="45.6" cy="714.9" r="1.11" fill="#7c78b0" stroke="#403c84" stroke-width="0.7" opacity="0.87"/>
<circle cx="20.0" cy="739.3" r="0.92" fill="#7c78b0" stroke="#403c84" stroke-width="0.7" opacity="0.80"/>
<circle cx="14.4" cy="732.3" r="0.92" fill="#7c78b0" stroke="#403c84" stroke-width="0.7" opacity="0.62"/>
<circle cx="15.2" cy="693.7" r="0.98" fill="#7c78b0" stroke="#403c84" stroke-width="0.7" opacity="0.89"/>
<circle cx="81.6" cy="697.2" r="1.25" fill="#7c78b0" stroke="#403c84" stroke-width="0.7" opacity="0.61"/>
<circle cx="36.1" cy="748.9" r="1.23" fill="#7c78b0" stroke="#403c84" stroke-width="0.7" opacity="0.79"/>
<circle cx="124.7" cy="670.4" r="1.21" fill="#7c78b0" stroke="#403c84" stroke-width="0.7" opacity="0.80"/>
<circle cx="88.7" cy="739.0" r="0.89" fill="#7c78b0" stroke="#403c84" stroke-width="0.7" opacity="0.62"/>
<circle cx="27.2" cy="707.2" r="1.07" fill="#7c78b0" stroke="#403c84" stroke-width="0.7" opacity="0.74"/>
<circle cx="53.2" cy="730.3" r="1.19" fill="#7c78b0" stroke="#403c84" stroke-width="0.7" opacity="0.82"/>
<circle cx="15.6" cy="678.7" r="0.94" fill="#7c78b0" stroke="#403c84" stroke-width="0.7" opacity="0.63"/>
<circle cx="77.8" cy="682.4" r="1.10" fill="#7c78b0" stroke="#403c84" stroke-width="0.7" opacity="0.67"/>
<circle cx="53.4" cy="727.2" r="1.23" fill="#7c78b0" stroke="#403c84" stroke-width="0.7" opacity="0.62"/>
<circle cx="51.6" cy="751.1" r="0.94" fill="#7c78b0" stroke="#403c84" stroke-width="0.7" opacity="0.56"/>
<circle cx="33.4" cy="737.5" r="1.14" fill="#7c78b0" stroke="#403c84" stroke-width="0.7" opacity="0.88"/>
<circle cx="68.9" cy="669.0" r="0.97" fill="#7c78b0" stroke="#403c84" stroke-width="0.7" opacity="0.80"/>
<circle cx="56.8" cy="677.6" r="1.00" fill="#7c78b0" stroke="#403c84" stroke-width="0.7" opacity="0.71"/>
<circle cx="52.5" cy="704.4" r="0.90" fill="#7c78b0" stroke="#403c84" stroke-width="0.7" opacity="0.56"/>
<circle cx="102.1" cy="729.3" r="1.02" fill="#7c78b0" stroke="#403c84" stroke-width="0.7" opacity="0.59"/>
<circle cx="45.5" cy="714.1" r="1.21" fill="#7c78b0" stroke="#403c84" stroke-width="0.7" opacity="0.72"/>
<circle cx="124.2" cy="711.4" r="0.92" fill="#7c78b0" stroke="#403c84" stroke-width="0.7" opacity="0.77"/>
<circle cx="80.8" cy="717.7" r="1.14" fill="#7c78b0" stroke="#403c84" stroke-width="0.7" opacity="0.56"/>
<circle cx="61.9" cy="735.3" r="0.91" fill="#7c78b0" stroke="#403c84" stroke-width="0.7" opacity="0.56"/>
<circle cx="32.4" cy="690.3" r="1.02" fill="#7c78b0" stroke="#403c84" stroke-width="0.7" opacity="0.66"/>
<circle cx="84.8" cy="680.2" r="0.99" fill="#7c78b0" stroke="#403c84" stroke-width="0.7" opacity="0.79"/>
<circle cx="74.3" cy="749.1" r="1.22" fill="#7c78b0" stroke="#403c84" stroke-width="0.7" opacity="0.64"/>
<circle cx="50.1" cy="712.3" r="1.07" fill="#7c78b0" stroke="#403c84" stroke-width="0.7" opacity="0.68"/>
<circle cx="111.3" cy="682.6" r="1.04" fill="#7c78b0" stroke="#403c84" stroke-width="0.7" opacity="0.59"/>
<circle cx="113.6" cy="717.4" r="1.25" fill="#7c78b0" stroke="#403c84" stroke-width="0.7" opacity="0.60"/>
<circle cx="93.7" cy="717.5" r="0.87" fill="#7c78b0" stroke="#403c84" stroke-width="0.7" opacity="0.84"/>
<circle cx="112.6" cy="672.4" r="1.23" fill="#7c78b0" stroke="#403c84" stroke-width="0.7" opacity="0.82"/>
<circle cx="81.3" cy="712.9" r="0.96" fill="#7c78b0" stroke="#403c84" stroke-width="0.7" opacity="0.57"/>
<circle cx="66.4" cy="741.0" r="0.93" fill="#7c78b0" stroke="#403c84" stroke-width="0.7" opacity="0.72"/>
<circle cx="44.0" cy="725.7" r="1.23" fill="#7c78b0" stroke="#403c84" stroke-width="0.7" opacity="0.86"/>
<circle cx="44.6" cy="701.8" r="0.85" fill="#7c78b0" stroke="#403c84" stroke-width="0.7" opacity="0.74"/>
<circle cx="110.2" cy="739.2" r="0.88" fill="#7c78b0" stroke="#403c84" stroke-width="0.7" opacity="0.70"/>
<circle cx="20.5" cy="702.5" r="1.22" fill="#7c78b0" stroke="#403c84" stroke-width="0.7" opacity="0.65"/>
<circle cx="109.3" cy="748.8" r="1.18" fill="#7c78b0" stroke="#403c84" stroke-width="0.7" opacity="0.62"/>
<circle cx="117.7" cy="746.0" r="1.25" fill="#7c78b0" stroke="#403c84" stroke-width="0.7" opacity="0.55"/>
<circle cx="11.6" cy="690.8" r="1.06" fill="#7c78b0" stroke="#403c84" stroke-width="0.7" opacity="0.70"/>
<circle cx="21.9" cy="721.3" r="1.12" fill="#7c78b0" stroke="#403c84" stroke-width="0.7" opacity="0.77"/>
<circle cx="70.4" cy="713.4" r="1.13" fill="#7c78b0" stroke="#403c84" stroke-width="0.7" opacity="0.57"/>
<circle cx="61.8" cy="677.2" r="0.89" fill="#7c78b0" stroke="#403c84" stroke-width="0.7" opacity="0.82"/>
<circle cx="48.8" cy="695.0" r="0.96" fill="#7c78b0" stroke="#403c84" stroke-width="0.7" opacity="0.76"/>
<circle cx="24.9" cy="721.4" r="0.88" fill="#7c78b0" stroke="#403c84" stroke-width="0.7" opacity="0.88"/>
<circle cx="29.4" cy="732.4" r="1.07" fill="#7c78b0" stroke="#403c84" stroke-width="0.7" opacity="0.70"/>
<circle cx="46.5" cy="696.8" r="1.15" fill="#7c78b0" stroke="#403c84" stroke-width="0.7" opacity="0.73"/>
<circle cx="73.4" cy="687.0" r="1.10" fill="#7c78b0" stroke="#403c84" stroke-width="0.7" opacity="0.61"/>
<circle cx="67.2" cy="722.3" r="1.07" fill="#7c78b0" stroke="#403c84" stroke-width="0.7" opacity="0.75"/>
<circle cx="77.3" cy="682.3" r="1.23" fill="#7c78b0" stroke="#403c84" stroke-width="0.7" opacity="0.79"/>
<circle cx="95.4" cy="748.8" r="1.03" fill="#7c78b0" stroke="#403c84" stroke-width="0.7" opacity="0.67"/>
<circle cx="46.5" cy="693.0" r="0.97" fill="#7c78b0" stroke="#403c84" stroke-width="0.7" opacity="0.66"/>
<circle cx="35.5" cy="707.7" r="0.97" fill="#7c78b0" stroke="#403c84" stroke-width="0.7" opacity="0.68"/>
<circle cx="88.2" cy="692.9" r="1.20" fill="#7c78b0" stroke="#403c84" stroke-width="0.7" opacity="0.83"/>
<circle cx="49.3" cy="738.2" r="0.92" fill="#7c78b0" stroke="#403c84" stroke-width="0.7" opacity="0.58"/>
<circle cx="126.6" cy="668.3" r="0.85" fill="#7c78b0" stroke="#403c84" stroke-width="0.7" opacity="0.85"/>
<circle cx="11.5" cy="722.6" r="1.07" fill="#7c78b0" stroke="#403c84" stroke-width="0.7" opacity="0.63"/>
<circle cx="39.7" cy="749.8" r="1.01" fill="#7c78b0" stroke="#403c84" stroke-width="0.7" opacity="0.63"/>
<circle cx="62.4" cy="729.3" r="0.97" fill="#7c78b0" stroke="#403c84" stroke-width="0.7" opacity="0.58"/>
<circle cx="102.9" cy="673.8" r="0.87" fill="#7c78b0" stroke="#403c84" stroke-width="0.7" opacity="0.55"/>
<circle cx="126.4" cy="703.3" r="1.14" fill="#7c78b0" stroke="#403c84" stroke-width="0.7" opacity="0.75"/>
<circle cx="124.3" cy="695.4" r="0.99" fill="#7c78b0" stroke="#403c84" stroke-width="0.7" opacity="0.79"/>
<circle cx="11.3" cy="697.1" r="1.15" fill="#7c78b0" stroke="#403c84" stroke-width="0.7" opacity="0.75"/>
<circle cx="68.0" cy="747.2" r="1.02" fill="#7c78b0" stroke="#403c84" stroke-width="0.7" opacity="0.81"/>
<circle cx="56.7" cy="672.9" r="1.01" fill="#7c78b0" stroke="#403c84" stroke-width="0.7" opacity="0.62"/>
<circle cx="14.4" cy="690.4" r="0.90" fill="#7c78b0" stroke="#403c84" stroke-width="0.7" opacity="0.71"/>
<circle cx="96.8" cy="731.6" r="1.20" fill="#7c78b0" stroke="#403c84" stroke-width="0.7" opacity="0.66"/>
<circle cx="88.9" cy="743.0" r="1.01" fill="#7c78b0" stroke="#403c84" stroke-width="0.7" opacity="0.87"/>
<circle cx="23.1" cy="745.8" r="1.20" fill="#7c78b0" stroke="#403c84" stroke-width="0.7" opacity="0.89"/>
<circle cx="107.6" cy="727.5" r="1.02" fill="#7c78b0" stroke="#403c84" stroke-width="0.7" opacity="0.80"/>
<circle cx="113.1" cy="715.7" r="1.10" fill="#7c78b0" stroke="#403c84" stroke-width="0.7" opacity="0.87"/>
<circle cx="44.2" cy="694.7" r="0.86" fill="#7c78b0" stroke="#403c84" stroke-width="0.7" opacity="0.86"/>
<circle cx="84.2" cy="724.1" r="0.95" fill="#7c78b0" stroke="#403c84" stroke-width="0.7" opacity="0.61"/>
<circle cx="66.7" cy="742.0" r="0.99" fill="#7c78b0" stroke="#403c84" stroke-width="0.7" opacity="0.70"/>
<circle cx="59.7" cy="739.1" r="0.90" fill="#7c78b0" stroke="#403c84" stroke-width="0.7" opacity="0.85"/>
<circle cx="12.6" cy="726.4" r="1.16" fill="#7c78b0" stroke="#403c84" stroke-width="0.7" opacity="0.71"/>
<circle cx="97.3" cy="689.9" r="0.91" fill="#7c78b0" stroke="#403c84" stroke-width="0.7" opacity="0.68"/>
<circle cx="42.0" cy="728.0" r="1.08" fill="#7c78b0" stroke="#403c84" stroke-width="0.7" opacity="0.78"/>
<circle cx="124.4" cy="732.9" r="1.17" fill="#7c78b0" stroke="#403c84" stroke-width="0.7" opacity="0.89"/>
<circle cx="118.9" cy="730.1" r="0.99" fill="#7c78b0" stroke="#403c84" stroke-width="0.7" opacity="0.73"/>
<circle cx="98.9" cy="734.1" r="1.21" fill="#7c78b0" stroke="#403c84" stroke-width="0.7" opacity="0.81"/>
<circle cx="88.8" cy="687.6" r="1.10" fill="#7c78b0" stroke="#403c84" stroke-width="0.7" opacity="0.62"/>
<circle cx="86.2" cy="680.8" r="0.86" fill="#7c78b0" stroke="#403c84" stroke-width="0.7" opacity="0.88"/>
<circle cx="112.1" cy="692.0" r="0.87" fill="#7c78b0" stroke="#403c84" stroke-width="0.7" opacity="0.84"/>
<circle cx="100.7" cy="678.9" r="1.18" fill="#7c78b0" stroke="#403c84" stroke-width="0.7" opacity="0.84"/>
<circle cx="77.8" cy="689.3" r="0.87" fill="#7c78b0" stroke="#403c84" stroke-width="0.7" opacity="0.57"/>
<circle cx="62.4" cy="728.4" r="1.11" fill="#7c78b0" stroke="#403c84" stroke-width="0.7" opacity="0.63"/>
<circle cx="103.8" cy="670.9" r="1.10" fill="#7c78b0" stroke="#403c84" stroke-width="0.7" opacity="0.61"/>
<circle cx="11.8" cy="682.3" r="1.17" fill="#7c78b0" stroke="#403c84" stroke-width="0.7" opacity="0.63"/>
<circle cx="12.8" cy="707.5" r="0.99" fill="#7c78b0" stroke="#403c84" stroke-width="0.7" opacity="0.75"/>
<circle cx="78.2" cy="727.2" r="1.22" fill="#7c78b0" stroke="#403c84" stroke-width="0.7" opacity="0.67"/>
<circle cx="84.9" cy="675.8" r="0.95" fill="#7c78b0" stroke="#403c84" stroke-width="0.7" opacity="0.58"/>
<circle cx="111.2" cy="694.9" r="1.13" fill="#7c78b0" stroke="#403c84" stroke-width="0.7" opacity="0.86"/>
<circle cx="55.8" cy="683.5" r="0.95" fill="#7c78b0" stroke="#403c84" stroke-width="0.7" opacity="0.72"/>
<circle cx="56.1" cy="671.5" r="1.19" fill="#7c78b0" stroke="#403c84" stroke-width="0.7" opacity="0.77"/>
<circle cx="112.4" cy="739.2" r="1.14" fill="#7c78b0" stroke="#403c84" stroke-width="0.7" opacity="0.84"/>
<circle cx="92.8" cy="702.8" r="1.18" fill="#7c78b0" stroke="#403c84" stroke-width="0.7" opacity="0.87"/>
<circle cx="23.7" cy="678.0" r="0.92" fill="#7c78b0" stroke="#403c84" stroke-width="0.7" opacity="0.71"/>
<circle cx="111.5" cy="711.4" r="1.19" fill="#7c78b0" stroke="#403c84" stroke-width="0.7" opacity="0.68"/>
<circle cx="76.8" cy="687.0" r="1.11" fill="#7c78b0" stroke="#403c84" stroke-width="0.7" opacity="0.64"/>
<circle cx="12.1" cy="700.2" r="1.08" fill="#7c78b0" stroke="#403c84" stroke-width="0.7" opacity="0.86"/>
<circle cx="44.4" cy="746.3" r="1.17" fill="#7c78b0" stroke="#403c84" stroke-width="0.7" opacity="0.61"/>
<circle cx="101.5" cy="747.1" r="1.23" fill="#7c78b0" stroke="#403c84" stroke-width="0.7" opacity="0.79"/>
<circle cx="56.5" cy="712.9" r="1.11" fill="#7c78b0" stroke="#403c84" stroke-width="0.7" opacity="0.76"/>
<circle cx="33.1" cy="742.6" r="1.07" fill="#7c78b0" stroke="#403c84" stroke-width="0.7" opacity="0.57"/>
<circle cx="46.7" cy="672.4" r="1.03" fill="#7c78b0" stroke="#403c84" stroke-width="0.7" opacity="0.58"/>
<circle cx="72.6" cy="689.7" r="1.18" fill="#7c78b0" stroke="#403c84" stroke-width="0.7" opacity="0.82"/>
<circle cx="33.0" cy="736.2" r="1.08" fill="#7c78b0" stroke="#403c84" stroke-width="0.7" opacity="0.64"/>
<circle cx="116.9" cy="666.0" r="1.01" fill="#7c78b0" stroke="#403c84" stroke-width="0.7" opacity="0.76"/>
<circle cx="30.1" cy="708.3" r="1.20" fill="#7c78b0" stroke="#403c84" stroke-width="0.7" opacity="0.67"/>
<circle cx="93.4" cy="682.0" r="1.24" fill="#7c78b0" stroke="#403c84" stroke-width="0.7" opacity="0.89"/>
<circle cx="30.3" cy="732.1" r="0.98" fill="#7c78b0" stroke="#403c84" stroke-width="0.7" opacity="0.56"/>
<circle cx="35.7" cy="729.0" r="1.04" fill="#7c78b0" stroke="#403c84" stroke-width="0.7" opacity="0.74"/>
<circle cx="26.0" cy="680.4" r="1.00" fill="#7c78b0" stroke="#403c84" stroke-width="0.7" opacity="0.73"/>
<circle cx="106.4" cy="704.6" r="0.98" fill="#7c78b0" stroke="#403c84" stroke-width="0.7" opacity="0.87"/>
<circle cx="91.3" cy="731.4" r="1.17" fill="#7c78b0" stroke="#403c84" stroke-width="0.7" opacity="0.72"/>
<circle cx="41.4" cy="675.2" r="1.11" fill="#7c78b0" stroke="#403c84" stroke-width="0.7" opacity="0.81"/>
<circle cx="115.9" cy="745.7" r="1.05" fill="#7c78b0" stroke="#403c84" stroke-width="0.7" opacity="0.72"/>
<circle cx="123.1" cy="672.9" r="1.00" fill="#7c78b0" stroke="#403c84" stroke-width="0.7" opacity="0.74"/>
<circle cx="81.0" cy="718.7" r="0.91" fill="#7c78b0" stroke="#403c84" stroke-width="0.7" opacity="0.73"/>
<circle cx="31.6" cy="698.9" r="0.92" fill="#7c78b0" stroke="#403c84" stroke-width="0.7" opacity="0.66"/>
<circle cx="83.9" cy="700.2" r="0.92" fill="#7c78b0" stroke="#403c84" stroke-width="0.7" opacity="0.71"/>
<circle cx="88.9" cy="691.7" r="0.96" fill="#7c78b0" stroke="#403c84" stroke-width="0.7" opacity="0.70"/>
<circle cx="91.9" cy="668.6" r="1.12" fill="#7c78b0" stroke="#403c84" stroke-width="0.7" opacity="0.57"/>
<circle cx="114.4" cy="682.1" r="1.18" fill="#7c78b0" stroke="#403c84" stroke-width="0.7" opacity="0.56"/>
<circle cx="68.4" cy="687.8" r="1.16" fill="#7c78b0" stroke="#403c84" stroke-width="0.7" opacity="0.82"/>
<circle cx="25.9" cy="669.9" r="1.14" fill="#7c78b0" stroke="#403c84" stroke-width="0.7" opacity="0.70"/>
<circle cx="54.4" cy="695.8" r="1.00" fill="#7c78b0" stroke="#403c84" stroke-width="0.7" opacity="0.75"/>
<circle cx="56.2" cy="676.7" r="1.04" fill="#7c78b0" stroke="#403c84" stroke-width="0.7" opacity="0.90"/>
<circle cx="100.1" cy="728.1" r="1.22" fill="#7c78b0" stroke="#403c84" stroke-width="0.7" opacity="0.71"/>
<circle cx="53.2" cy="734.6" r="0.89" fill="#7c78b0" stroke="#403c84" stroke-width="0.7" opacity="0.82"/>
<circle cx="28.4" cy="719.8" r="1.06" fill="#7c78b0" stroke="#403c84" stroke-width="0.7" opacity="0.82"/>
<circle cx="18.5" cy="724.0" r="1.18" fill="#7c78b0" stroke="#403c84" stroke-width="0.7" opacity="0.56"/>
<circle cx="90.5" cy="689.8" r="1.15" fill="#7c78b0" stroke="#403c84" stroke-width="0.7" opacity="0.89"/>
<circle cx="11.5" cy="700.9" r="1.05" fill="#7c78b0" stroke="#403c84" stroke-width="0.7" opacity="0.89"/>
<circle cx="118.4" cy="667.9" r="0.90" fill="#7c78b0" stroke="#403c84" stroke-width="0.7" opacity="0.69"/>
<circle cx="104.5" cy="734.3" r="1.07" fill="#7c78b0" stroke="#403c84" stroke-width="0.7" opacity="0.87"/>
<circle cx="106.4" cy="742.0" r="1.10" fill="#7c78b0" stroke="#403c84" stroke-width="0.7" opacity="0.64"/>
<circle cx="96.4" cy="727.9" r="1.22" fill="#7c78b0" stroke="#403c84" stroke-width="0.7" opacity="0.61"/>
<circle cx="13.8" cy="695.2" r="0.95" fill="#7c78b0" stroke="#403c84" stroke-width="0.7" opacity="0.69"/>
<circle cx="18.1" cy="718.7" r="1.02" fill="#7c78b0" stroke="#403c84" stroke-width="0.7" opacity="0.64"/>
<circle cx="23.0" cy="715.5" r="0.89" fill="#7c78b0" stroke="#403c84" stroke-width="0.7" opacity="0.85"/>
<circle cx="43.3" cy="743.8" r="0.90" fill="#7c78b0" stroke="#403c84" stroke-width="0.7" opacity="0.69"/>
<circle cx="101.5" cy="710.9" r="1.03" fill="#7c78b0" stroke="#403c84" stroke-width="0.7" opacity="0.86"/>
<circle cx="30.2" cy="739.7" r="1.06" fill="#7c78b0" stroke="#403c84" stroke-width="0.7" opacity="0.65"/>
<circle cx="51.8" cy="689.7" r="1.10" fill="#7c78b0" stroke="#403c84" stroke-width="0.7" opacity="0.70"/>
<circle cx="71.3" cy="722.1" r="1.19" fill="#7c78b0" stroke="#403c84" stroke-width="0.7" opacity="0.79"/>
<circle cx="45.5" cy="723.5" r="1.13" fill="#7c78b0" stroke="#403c84" stroke-width="0.7" opacity="0.87"/>
<circle cx="56.0" cy="711.9" r="1.15" fill="#7c78b0" stroke="#403c84" stroke-width="0.7" opacity="0.67"/>
<circle cx="49.0" cy="719.6" r="1.00" fill="#7c78b0" stroke="#403c84" stroke-width="0.7" opacity="0.85"/>
<circle cx="51.5" cy="684.6" r="1.09" fill="#7c78b0" stroke="#403c84" stroke-width="0.7" opacity="0.76"/>
<circle cx="126.1" cy="747.7" r="1.02" fill="#7c78b0" stroke="#403c84" stroke-width="0.7" opacity="0.71"/>
<circle cx="86.8" cy="709.5" r="1.09" fill="#7c78b0" stroke="#403c84" stroke-width="0.7" opacity="0.69"/>
<circle cx="111.0" cy="743.3" r="1.17" fill="#7c78b0" stroke="#403c84" stroke-width="0.7" opacity="0.81"/>
<circle cx="114.2" cy="687.7" r="1.23" fill="#7c78b0" stroke="#403c84" stroke-width="0.7" opacity="0.62"/>
<circle cx="22.9" cy="708.6" r="0.91" fill="#7c78b0" stroke="#403c84" stroke-width="0.7" opacity="0.64"/>
<circle cx="81.5" cy="678.4" r="1.01" fill="#7c78b0" stroke="#403c84" stroke-width="0.7" opacity="0.68"/>
<circle cx="120.6" cy="672.3" r="1.05" fill="#7c78b0" stroke="#403c84" stroke-width="0.7" opacity="0.71"/>
<circle cx="30.0" cy="695.7" r="1.00" fill="#7c78b0" stroke="#403c84" stroke-width="0.7" opacity="0.68"/>
<circle cx="75.8" cy="714.0" r="1.04" fill="#7c78b0" stroke="#403c84" stroke-width="0.7" opacity="0.70"/>
<circle cx="81.9" cy="707.7" r="0.90" fill="#7c78b0" stroke="#403c84" stroke-width="0.7" opacity="0.78"/>
<circle cx="58.6" cy="739.8" r="0.90" fill="#7c78b0" stroke="#403c84" stroke-width="0.7" opacity="0.74"/>
<circle cx="46.0" cy="720.6" r="1.18" fill="#7c78b0" stroke="#403c84" stroke-width="0.7" opacity="0.78"/>
<circle cx="77.5" cy="746.7" r="0.94" fill="#7c78b0" stroke="#403c84" stroke-width="0.7" opacity="0.90"/>
<circle cx="62.1" cy="720.7" r="0.90" fill="#7c78b0" stroke="#403c84" stroke-width="0.7" opacity="0.56"/>
<circle cx="29.7" cy="712.8" r="0.95" fill="#7c78b0" stroke="#403c84" stroke-width="0.7" opacity="0.83"/>
<circle cx="29.2" cy="723.3" r="1.21" fill="#7c78b0" stroke="#403c84" stroke-width="0.7" opacity="0.79"/>
<circle cx="118.2" cy="737.3" r="1.19" fill="#7c78b0" stroke="#403c84" stroke-width="0.7" opacity="0.56"/>
<circle cx="70.4" cy="691.5" r="1.03" fill="#7c78b0" stroke="#403c84" stroke-width="0.7" opacity="0.80"/>
<circle cx="96.0" cy="683.2" r="0.92" fill="#7c78b0" stroke="#403c84" stroke-width="0.7" opacity="0.57"/>
<circle cx="97.0" cy="737.2" r="0.89" fill="#7c78b0" stroke="#403c84" stroke-width="0.7" opacity="0.60"/>
<circle cx="27.2" cy="751.8" r="0.88" fill="#7c78b0" stroke="#403c84" stroke-width="0.7" opacity="0.75"/>
<circle cx="112.9" cy="680.3" r="1.12" fill="#7c78b0" stroke="#403c84" stroke-width="0.7" opacity="0.67"/>
<circle cx="85.6" cy="706.3" r="0.91" fill="#7c78b0" stroke="#403c84" stroke-width="0.7" opacity="0.86"/>
<circle cx="69.2" cy="751.1" r="1.09" fill="#7c78b0" stroke="#403c84" stroke-width="0.7" opacity="0.89"/>
<circle cx="87.1" cy="670.4" r="0.85" fill="#7c78b0" stroke="#403c84" stroke-width="0.7" opacity="0.90"/>
<circle cx="88.5" cy="734.5" r="1.19" fill="#7c78b0" stroke="#403c84" stroke-width="0.7" opacity="0.68"/>
<circle cx="93.0" cy="721.9" r="0.87" fill="#7c78b0" stroke="#403c84" stroke-width="0.7" opacity="0.74"/>
<circle cx="119.1" cy="714.0" r="1.16" fill="#7c78b0" stroke="#403c84" stroke-width="0.7" opacity="0.57"/>
<circle cx="59.4" cy="709.6" r="1.07" fill="#7c78b0" stroke="#403c84" stroke-width="0.7" opacity="0.85"/>
<circle cx="68.1" cy="714.8" r="1.06" fill="#7c78b0" stroke="#403c84" stroke-width="0.7" opacity="0.79"/>
<circle cx="78.4" cy="699.9" r="0.96" fill="#7c78b0" stroke="#403c84" stroke-width="0.7" opacity="0.85"/>
<circle cx="52.3" cy="727.6" r="0.96" fill="#7c78b0" stroke="#403c84" stroke-width="0.7" opacity="0.90"/>
<circle cx="36.3" cy="702.1" r="1.00" fill="#7c78b0" stroke="#403c84" stroke-width="0.7" opacity="0.86"/>
<circle cx="96.1" cy="688.3" r="0.95" fill="#7c78b0" stroke="#403c84" stroke-width="0.7" opacity="0.81"/>
<circle cx="63.0" cy="681.1" r="0.90" fill="#7c78b0" stroke="#403c84" stroke-width="0.7" opacity="0.80"/>
<circle cx="87.9" cy="735.8" r="0.88" fill="#7c78b0" stroke="#403c84" stroke-width="0.7" opacity="0.72"/>
<circle cx="28.0" cy="715.2" r="0.94" fill="#7c78b0" stroke="#403c84" stroke-width="0.7" opacity="0.63"/>
<circle cx="76.3" cy="679.7" r="1.17" fill="#7c78b0" stroke="#403c84" stroke-width="0.7" opacity="0.61"/>
<circle cx="42.1" cy="731.3" r="0.96" fill="#7c78b0" stroke="#403c84" stroke-width="0.7" opacity="0.65"/>
<circle cx="102.1" cy="714.5" r="1.17" fill="#7c78b0" stroke="#403c84" stroke-width="0.7" opacity="0.85"/>
<circle cx="122.9" cy="672.9" r="1.01" fill="#7c78b0" stroke="#403c84" stroke-width="0.7" opacity="0.71"/>
<circle cx="44.4" cy="741.1" r="1.01" fill="#7c78b0" stroke="#403c84" stroke-width="0.7" opacity="0.87"/>
<circle cx="19.4" cy="704.2" r="1.10" fill="#7c78b0" stroke="#403c84" stroke-width="0.7" opacity="0.83"/>
<circle cx="67.2" cy="743.9" r="0.97" fill="#7c78b0" stroke="#403c84" stroke-width="0.7" opacity="0.67"/>
<circle cx="33.5" cy="681.9" r="1.04" fill="#7c78b0" stroke="#403c84" stroke-width="0.7" opacity="0.81"/>
<circle cx="33.5" cy="708.0" r="1.02" fill="#7c78b0" stroke="#403c84" stroke-width="0.7" opacity="0.89"/>
<circle cx="68.4" cy="736.0" r="0.94" fill="#7c78b0" stroke="#403c84" stroke-width="0.7" opacity="0.86"/>
<circle cx="13.9" cy="678.6" r="1.10" fill="#7c78b0" stroke="#403c84" stroke-width="0.7" opacity="0.74"/>
<circle cx="72.3" cy="719.7" r="0.99" fill="#7c78b0" stroke="#403c84" stroke-width="0.7" opacity="0.78"/>
<circle cx="57.2" cy="716.5" r="1.14" fill="#7c78b0" stroke="#403c84" stroke-width="0.7" opacity="0.66"/>
<circle cx="99.5" cy="737.4" r="1.25" fill="#7c78b0" stroke="#403c84" stroke-width="0.7" opacity="0.57"/>
<circle cx="60.6" cy="679.7" r="0.92" fill="#7c78b0" stroke="#403c84" stroke-width="0.7" opacity="0.72"/>
<circle cx="101.4" cy="676.3" r="1.17" fill="#7c78b0" stroke="#403c84" stroke-width="0.7" opacity="0.85"/>
<circle cx="123.4" cy="731.5" r="0.93" fill="#7c78b0" stroke="#403c84" stroke-width="0.7" opacity="0.80"/>
<circle cx="77.8" cy="689.3" r="1.17" fill="#7c78b0" stroke="#403c84" stroke-width="0.7" opacity="0.67"/>
<circle cx="108.7" cy="742.3" r="1.01" fill="#7c78b0" stroke="#403c84" stroke-width="0.7" opacity="0.60"/>
<circle cx="105.8" cy="679.1" r="0.90" fill="#7c78b0" stroke="#403c84" stroke-width="0.7" opacity="0.86"/>
<circle cx="38.7" cy="688.2" r="1.01" fill="#7c78b0" stroke="#403c84" stroke-width="0.7" opacity="0.80"/>
<circle cx="33.8" cy="693.0" r="0.88" fill="#7c78b0" stroke="#403c84" stroke-width="0.7" opacity="0.64"/>
<circle cx="97.8" cy="721.2" r="1.09" fill="#7c78b0" stroke="#403c84" stroke-width="0.7" opacity="0.86"/>
<circle cx="14.8" cy="690.0" r="1.10" fill="#7c78b0" stroke="#403c84" stroke-width="0.7" opacity="0.68"/>
<circle cx="124.5" cy="684.9" r="1.23" fill="#7c78b0" stroke="#403c84" stroke-width="0.7" opacity="0.81"/>
<circle cx="89.7" cy="747.6" r="1.02" fill="#7c78b0" stroke="#403c84" stroke-width="0.7" opacity="0.67"/>
<circle cx="61.8" cy="729.6" r="1.18" fill="#7c78b0" stroke="#403c84" stroke-width="0.7" opacity="0.77"/>
<circle cx="103.1" cy="723.5" r="1.16" fill="#7c78b0" stroke="#403c84" stroke-width="0.7" opacity="0.59"/>
<circle cx="107.5" cy="712.0" r="0.98" fill="#7c78b0" stroke="#403c84" stroke-width="0.7" opacity="0.60"/>
<circle cx="81.5" cy="684.6" r="0.99" fill="#7c78b0" stroke="#403c84" stroke-width="0.7" opacity="0.74"/>
<circle cx="35.5" cy="685.6" r="0.88" fill="#7c78b0" stroke="#403c84" stroke-width="0.7" opacity="0.67"/>
<circle cx="107.2" cy="686.7" r="0.96" fill="#7c78b0" stroke="#403c84" stroke-width="0.7" opacity="0.60"/>
<circle cx="81.6" cy="730.1" r="0.92" fill="#7c78b0" stroke="#403c84" stroke-width="0.7" opacity="0.84"/>
<circle cx="12.4" cy="675.6" r="0.89" fill="#7c78b0" stroke="#403c84" stroke-width="0.7" opacity="0.83"/>
<circle cx="20.8" cy="729.2" r="0.93" fill="#7c78b0" stroke="#403c84" stroke-width="0.7" opacity="0.65"/>
<circle cx="22.8" cy="736.2" r="1.00" fill="#7c78b0" stroke="#403c84" stroke-width="0.7" opacity="0.88"/>
<circle cx="91.7" cy="714.5" r="1.03" fill="#7c78b0" stroke="#403c84" stroke-width="0.7" opacity="0.75"/>
<circle cx="78.5" cy="750.0" r="0.94" fill="#7c78b0" stroke="#403c84" stroke-width="0.7" opacity="0.61"/>
<circle cx="127.0" cy="725.5" r="1.10" fill="#7c78b0" stroke="#403c84" stroke-width="0.7" opacity="0.71"/>
<circle cx="12.7" cy="684.9" r="1.17" fill="#7c78b0" stroke="#403c84" stroke-width="0.7" opacity="0.64"/>
<circle cx="81.4" cy="708.0" r="0.92" fill="#7c78b0" stroke="#403c84" stroke-width="0.7" opacity="0.57"/>
<circle cx="18.8" cy="727.6" r="0.95" fill="#7c78b0" stroke="#403c84" stroke-width="0.7" opacity="0.73"/>
<circle cx="78.2" cy="731.8" r="0.91" fill="#7c78b0" stroke="#403c84" stroke-width="0.7" opacity="0.70"/>
<circle cx="98.8" cy="723.4" r="1.04" fill="#7c78b0" stroke="#403c84" stroke-width="0.7" opacity="0.77"/>
<circle cx="102.5" cy="741.9" r="1.06" fill="#7c78b0" stroke="#403c84" stroke-width="0.7" opacity="0.59"/>
<circle cx="26.2" cy="723.5" r="1.12" fill="#7c78b0" stroke="#403c84" stroke-width="0.7" opacity="0.71"/>
<circle cx="92.1" cy="684.4" r="1.01" fill="#7c78b0" stroke="#403c84" stroke-width="0.7" opacity="0.68"/>
<circle cx="98.1" cy="749.7" r="0.96" fill="#7c78b0" stroke="#403c84" stroke-width="0.7" opacity="0.58"/>
<circle cx="54.0" cy="741.0" r="1.25" fill="#7c78b0" stroke="#403c84" stroke-width="0.7" opacity="0.57"/>
<circle cx="50.2" cy="707.0" r="1.21" fill="#7c78b0" stroke="#403c84" stroke-width="0.7" opacity="0.75"/>
<circle cx="60.8" cy="750.4" r="1.14" fill="#7c78b0" stroke="#403c84" stroke-width="0.7" opacity="0.86"/>
<circle cx="105.2" cy="751.2" r="1.12" fill="#7c78b0" stroke="#403c84" stroke-width="0.7" opacity="0.82"/>
<circle cx="69.7" cy="724.6" r="1.23" fill="#7c78b0" stroke="#403c84" stroke-width="0.7" opacity="0.88"/>
<circle cx="115.7" cy="724.4" r="1.05" fill="#7c78b0" stroke="#403c84" stroke-width="0.7" opacity="0.70"/>
<circle cx="56.6" cy="748.5" r="1.12" fill="#7c78b0" stroke="#403c84" stroke-width="0.7" opacity="0.83"/>
<circle cx="88.5" cy="674.2" r="1.03" fill="#7c78b0" stroke="#403c84" stroke-width="0.7" opacity="0.67"/>
<circle cx="123.5" cy="725.4" r="1.00" fill="#7c78b0" stroke="#403c84" stroke-width="0.7" opacity="0.73"/>
<circle cx="114.8" cy="711.5" r="1.13" fill="#7c78b0" stroke="#403c84" stroke-width="0.7" opacity="0.68"/>
<circle cx="60.7" cy="732.3" r="0.93" fill="#7c78b0" stroke="#403c84" stroke-width="0.7" opacity="0.79"/>
<circle cx="108.8" cy="752.3" r="1.06" fill="#7c78b0" stroke="#403c84" stroke-width="0.7" opacity="0.76"/>
<circle cx="126.5" cy="734.7" r="1.20" fill="#7c78b0" stroke="#403c84" stroke-width="0.7" opacity="0.73"/>
<circle cx="26.6" cy="737.6" r="0.89" fill="#7c78b0" stroke="#403c84" stroke-width="0.7" opacity="0.80"/>
<circle cx="45.0" cy="736.0" r="1.11" fill="#7c78b0" stroke="#403c84" stroke-width="0.7" opacity="0.73"/>
<circle cx="66.8" cy="691.5" r="1.25" fill="#7c78b0" stroke="#403c84" stroke-width="0.7" opacity="0.74"/>
<circle cx="122.5" cy="675.8" r="0.51" fill="#30306c" opacity="0.65"/>
<circle cx="48.3" cy="751.4" r="0.55" fill="#30306c" opacity="0.76"/>
<circle cx="110.5" cy="692.0" r="0.62" fill="#30306c" opacity="0.66"/>
<circle cx="17.5" cy="716.2" r="0.72" fill="#30306c" opacity="0.66"/>
<circle cx="76.3" cy="709.2" r="0.78" fill="#30306c" opacity="0.67"/>
<circle cx="37.6" cy="741.9" r="0.77" fill="#30306c" opacity="0.83"/>
<circle cx="51.0" cy="716.3" r="0.65" fill="#30306c" opacity="0.80"/>
<circle cx="122.1" cy="708.0" r="0.68" fill="#30306c" opacity="0.81"/>
<circle cx="68.7" cy="697.5" r="0.51" fill="#30306c" opacity="0.85"/>
<circle cx="70.3" cy="739.4" r="0.64" fill="#30306c" opacity="0.87"/>
<circle cx="104.8" cy="685.8" r="0.81" fill="#30306c" opacity="0.61"/>
<circle cx="86.0" cy="733.5" r="0.79" fill="#30306c" opacity="0.69"/>
<circle cx="52.0" cy="681.3" r="0.86" fill="#30306c" opacity="0.78"/>
<circle cx="101.9" cy="708.2" r="0.67" fill="#30306c" opacity="0.88"/>
<circle cx="119.8" cy="730.2" r="0.76" fill="#30306c" opacity="0.87"/>
<circle cx="48.7" cy="693.3" r="0.81" fill="#30306c" opacity="0.80"/>
<circle cx="99.9" cy="727.8" r="0.66" fill="#30306c" opacity="0.64"/>
<circle cx="100.9" cy="741.4" r="0.71" fill="#30306c" opacity="0.70"/>
<circle cx="109.3" cy="681.9" r="0.58" fill="#30306c" opacity="0.77"/>
<circle cx="66.8" cy="731.7" r="0.51" fill="#30306c" opacity="0.88"/>
<circle cx="43.7" cy="708.9" r="0.51" fill="#30306c" opacity="0.71"/>
<circle cx="69.9" cy="748.0" r="0.58" fill="#30306c" opacity="0.64"/>
<circle cx="111.6" cy="745.8" r="0.70" fill="#30306c" opacity="0.75"/>
<circle cx="113.4" cy="705.7" r="0.68" fill="#30306c" opacity="0.73"/>
<circle cx="39.3" cy="689.4" r="0.65" fill="#30306c" opacity="0.62"/>
<circle cx="64.9" cy="733.5" r="0.85" fill="#30306c" opacity="0.64"/>
<circle cx="53.5" cy="741.3" r="0.88" fill="#30306c" opacity="0.69"/>
<circle cx="31.9" cy="738.7" r="0.62" fill="#30306c" opacity="0.80"/>
<circle cx="118.5" cy="687.4" r="0.62" fill="#30306c" opacity="0.77"/>
<circle cx="21.0" cy="709.6" r="0.73" fill="#30306c" opacity="0.73"/>
<circle cx="97.1" cy="723.6" r="0.73" fill="#30306c" opacity="0.84"/>
<circle cx="27.8" cy="681.0" r="0.61" fill="#30306c" opacity="0.65"/>
<circle cx="115.3" cy="739.7" r="0.86" fill="#30306c" opacity="0.72"/>
<circle cx="109.9" cy="747.0" r="0.81" fill="#30306c" opacity="0.85"/>
<circle cx="90.7" cy="666.5" r="0.63" fill="#30306c" opacity="0.68"/>
<circle cx="72.7" cy="714.5" r="0.87" fill="#30306c" opacity="0.68"/>
<circle cx="124.5" cy="678.7" r="0.81" fill="#30306c" opacity="0.69"/>
<circle cx="76.5" cy="719.3" r="0.52" fill="#30306c" opacity="0.77"/>
<circle cx="87.8" cy="688.1" r="0.54" fill="#30306c" opacity="0.78"/>
<circle cx="41.4" cy="680.8" r="0.60" fill="#30306c" opacity="0.77"/>
<circle cx="65.6" cy="698.9" r="0.55" fill="#30306c" opacity="0.67"/>
<circle cx="82.4" cy="700.3" r="0.57" fill="#30306c" opacity="0.85"/>
<circle cx="74.6" cy="695.5" r="0.89" fill="#30306c" opacity="0.76"/>
<circle cx="28.9" cy="707.2" r="0.61" fill="#30306c" opacity="0.85"/>
<circle cx="101.6" cy="672.0" r="0.55" fill="#30306c" opacity="0.80"/>
<circle cx="69.6" cy="692.6" r="0.70" fill="#30306c" opacity="0.64"/>
<circle cx="65.6" cy="714.9" r="0.87" fill="#30306c" opacity="0.78"/>
<circle cx="78.0" cy="668.7" r="0.70" fill="#30306c" opacity="0.77"/>
<circle cx="88.3" cy="692.7" r="0.88" fill="#30306c" opacity="0.81"/>
<circle cx="94.9" cy="750.7" r="0.88" fill="#30306c" opacity="0.64"/>
<circle cx="115.4" cy="711.7" r="0.74" fill="#30306c" opacity="0.61"/>
<circle cx="19.0" cy="734.9" r="0.65" fill="#30306c" opacity="0.90"/>
<circle cx="120.9" cy="712.6" r="0.74" fill="#30306c" opacity="0.78"/>
<circle cx="73.7" cy="736.2" r="0.89" fill="#30306c" opacity="0.70"/>
<circle cx="59.4" cy="699.6" r="0.53" fill="#30306c" opacity="0.65"/>
<circle cx="32.2" cy="730.4" r="0.57" fill="#30306c" opacity="0.78"/>
<circle cx="124.5" cy="701.1" r="0.90" fill="#30306c" opacity="0.68"/>
<circle cx="52.5" cy="677.9" r="0.56" fill="#30306c" opacity="0.72"/>
<circle cx="101.0" cy="722.6" r="0.59" fill="#30306c" opacity="0.62"/>
<circle cx="20.0" cy="694.3" r="0.72" fill="#30306c" opacity="0.60"/>
<circle cx="23.4" cy="723.6" r="0.59" fill="#30306c" opacity="0.61"/>
<circle cx="105.2" cy="672.0" r="0.80" fill="#30306c" opacity="0.62"/>
<circle cx="111.1" cy="706.7" r="0.64" fill="#30306c" opacity="0.66"/>
<circle cx="106.4" cy="701.8" r="0.72" fill="#30306c" opacity="0.70"/>
<circle cx="32.0" cy="692.4" r="0.60" fill="#30306c" opacity="0.82"/>
<circle cx="106.7" cy="733.1" r="0.62" fill="#30306c" opacity="0.70"/>
<circle cx="120.7" cy="705.7" r="0.73" fill="#30306c" opacity="0.62"/>
<circle cx="101.3" cy="704.1" r="0.59" fill="#30306c" opacity="0.74"/>
<circle cx="34.5" cy="696.2" r="0.64" fill="#30306c" opacity="0.73"/>
<circle cx="50.5" cy="680.1" r="0.83" fill="#30306c" opacity="0.76"/>
<rect x="117.20" y="749.50" width="7.00" height="1.30" fill="#ffffff" />
</g>
<clipPath id="clip5"><rect x="132.1" y="665.4" width="115.6" height="87.3"/></clipPath>
<filter id="bl5" x="-20%" y="-20%" width="140%" height="140%"><feGaussianBlur stdDeviation="0.9"/></filter>
<filter id="bl5s" x="-50%" y="-50%" width="200%" height="200%"><feGaussianBlur stdDeviation="0.5"/></filter>
<filter id="nf5_0" filterUnits="userSpaceOnUse" x="132.1" y="665.4" width="115.6" height="87.3" color-interpolation-filters="sRGB"><feTurbulence type="fractalNoise" baseFrequency="0.09" numOctaves="2" seed="50"/><feColorMatrix type="matrix" values="0 0 0 0 0.518 0 0 0 0 0.290 0 0 0 0 0.173 6.0 0 0 0 -2.7"/></filter>
<filter id="nf5_1" filterUnits="userSpaceOnUse" x="132.1" y="665.4" width="115.6" height="87.3" color-interpolation-filters="sRGB"><feTurbulence type="fractalNoise" baseFrequency="0.13" numOctaves="2" seed="51"/><feColorMatrix type="matrix" values="0 0 0 0 0.416 0 0 0 0 0.345 0 0 0 0 0.596 4.0 0 0 0 -1.8"/></filter>
<filter id="nf5_2" filterUnits="userSpaceOnUse" x="132.1" y="665.4" width="115.6" height="87.3" color-interpolation-filters="sRGB"><feTurbulence type="fractalNoise" baseFrequency="0.3" numOctaves="2" seed="52"/><feColorMatrix type="matrix" values="0 0 0 0 0.910 0 0 0 0 0.863 0 0 0 0 0.831 3.5 0 0 0 -1.6"/></filter>
<g clip-path="url(#clip5)">
<rect x="132.10" y="665.40" width="115.60" height="87.30" fill="#ad8070" />
<rect x="132.1" y="665.4" width="115.6" height="87.3" filter="url(#nf5_0)" opacity="0.45"/>
<rect x="132.1" y="665.4" width="115.6" height="87.3" filter="url(#nf5_1)" opacity="0.5"/>
<rect x="132.1" y="665.4" width="115.6" height="87.3" filter="url(#nf5_2)" opacity="0.3"/>
<rect x="222.3" y="665.4" width="28.9" height="87.3" fill="#9a86a4" opacity="0.35" filter="url(#bl5)"/>
<g filter="url(#bl5)" fill="none" stroke="#e2dbd5" stroke-linecap="round" stroke-linejoin="round">
<path d="M158.0,666.8 L169.3,673.0 L182.6,675.9 L203.5,674.0" stroke-width="5.2"/>
<path d="M137.1,675.9 L148.5,687.3 L159.9,698.7 L173.1,706.2 L182.6,709.1" stroke-width="3.7"/>
<path d="M178.8,675.9 L182.6,685.4 L185.5,696.8 L188.3,708.1 L192.1,715.7" stroke-width="7.0"/>
<path d="M142.8,708.1 L152.3,717.6 L159.9,729.0 L167.4,738.5 L175.0,752.7" stroke-width="5.2"/>
<path d="M131.4,734.7 L140.9,740.4 L148.5,748.0 L152.3,752.7" stroke-width="5.8"/>
<path d="M201.6,675.9 L206.4,689.2 L204.5,702.4 L202.6,711.9 L195.9,719.5" stroke-width="4.1"/>
<path d="M192.1,719.5 L189.3,730.9 L188.3,740.4 L190.2,752.7" stroke-width="3.5"/>
<path d="M203.5,717.6 L214.9,721.4 L223.4,723.3" stroke-width="3.5"/>
<path d="M218.7,681.6 L224.4,693.0 L230.1,708.1 L232.0,721.4" stroke-width="2.9"/>
<path d="M163.7,708.1 L171.2,711.9" stroke-width="3.5"/>
<path d="M131.4,700.5 L140.9,706.2 L148.5,711.9" stroke-width="4.1"/>
<path d="M199.7,723.3 L207.3,729.0 L218.7,730.9" stroke-width="2.9"/>
<path d="M226.3,734.7 L233.9,744.2 L241.5,752.7" stroke-width="2.9"/>
<path d="M144.7,677.8 L139.0,687.3 L131.4,693.0" stroke-width="3.5"/>
<path d="M182.6,727.1 L176.9,734.7" stroke-width="2.9"/>
<path d="M167.4,683.5 L176.9,681.6" stroke-width="2.9"/>
<path d="M131.4,666.4 L142.8,666.4 L156.1,666.8" stroke-width="2.9"/>
<path d="M209.2,666.4 L214.9,677.8 L218.7,681.6" stroke-width="2.9"/>
</g>
<circle cx="204.1" cy="730.2" r="1.22" fill="#8c84b4" stroke="#544c8c" stroke-width="0.7" opacity="0.83"/>
<circle cx="217.6" cy="745.9" r="0.91" fill="#8c84b4" stroke="#544c8c" stroke-width="0.7" opacity="0.64"/>
<circle cx="241.2" cy="722.1" r="1.26" fill="#8c84b4" stroke="#544c8c" stroke-width="0.7" opacity="0.50"/>
<circle cx="186.3" cy="686.9" r="1.12" fill="#8c84b4" stroke="#544c8c" stroke-width="0.7" opacity="0.68"/>
<circle cx="133.6" cy="684.3" r="1.01" fill="#8c84b4" stroke="#544c8c" stroke-width="0.7" opacity="0.82"/>
<circle cx="220.6" cy="679.3" r="1.22" fill="#8c84b4" stroke="#544c8c" stroke-width="0.7" opacity="0.51"/>
<circle cx="203.5" cy="676.5" r="0.90" fill="#8c84b4" stroke="#544c8c" stroke-width="0.7" opacity="0.80"/>
<circle cx="156.3" cy="684.2" r="1.29" fill="#8c84b4" stroke="#544c8c" stroke-width="0.7" opacity="0.80"/>
<circle cx="165.5" cy="749.3" r="1.12" fill="#8c84b4" stroke="#544c8c" stroke-width="0.7" opacity="0.72"/>
<circle cx="155.8" cy="747.5" r="1.18" fill="#8c84b4" stroke="#544c8c" stroke-width="0.7" opacity="0.84"/>
<circle cx="235.4" cy="691.5" r="1.04" fill="#8c84b4" stroke="#544c8c" stroke-width="0.7" opacity="0.52"/>
<circle cx="148.9" cy="671.1" r="1.02" fill="#8c84b4" stroke="#544c8c" stroke-width="0.7" opacity="0.69"/>
<circle cx="132.5" cy="724.6" r="1.04" fill="#8c84b4" stroke="#544c8c" stroke-width="0.7" opacity="0.57"/>
<circle cx="226.7" cy="707.4" r="1.03" fill="#8c84b4" stroke="#544c8c" stroke-width="0.7" opacity="0.64"/>
<circle cx="213.6" cy="670.4" r="1.29" fill="#8c84b4" stroke="#544c8c" stroke-width="0.7" opacity="0.46"/>
<circle cx="218.8" cy="739.2" r="0.91" fill="#8c84b4" stroke="#544c8c" stroke-width="0.7" opacity="0.77"/>
<circle cx="174.4" cy="715.9" r="0.90" fill="#8c84b4" stroke="#544c8c" stroke-width="0.7" opacity="0.47"/>
<circle cx="153.0" cy="748.8" r="0.98" fill="#8c84b4" stroke="#544c8c" stroke-width="0.7" opacity="0.75"/>
<circle cx="239.6" cy="747.6" r="1.04" fill="#8c84b4" stroke="#544c8c" stroke-width="0.7" opacity="0.59"/>
<circle cx="192.8" cy="733.1" r="0.94" fill="#8c84b4" stroke="#544c8c" stroke-width="0.7" opacity="0.75"/>
<circle cx="224.3" cy="740.5" r="0.91" fill="#8c84b4" stroke="#544c8c" stroke-width="0.7" opacity="0.83"/>
<circle cx="142.6" cy="695.1" r="1.14" fill="#8c84b4" stroke="#544c8c" stroke-width="0.7" opacity="0.82"/>
<circle cx="171.4" cy="746.1" r="1.12" fill="#8c84b4" stroke="#544c8c" stroke-width="0.7" opacity="0.57"/>
<circle cx="168.7" cy="680.9" r="0.93" fill="#8c84b4" stroke="#544c8c" stroke-width="0.7" opacity="0.51"/>
<circle cx="211.8" cy="752.4" r="0.96" fill="#8c84b4" stroke="#544c8c" stroke-width="0.7" opacity="0.47"/>
<circle cx="246.2" cy="712.0" r="1.06" fill="#8c84b4" stroke="#544c8c" stroke-width="0.7" opacity="0.54"/>
<circle cx="200.8" cy="737.5" r="1.08" fill="#8c84b4" stroke="#544c8c" stroke-width="0.7" opacity="0.62"/>
<circle cx="138.5" cy="745.4" r="0.91" fill="#8c84b4" stroke="#544c8c" stroke-width="0.7" opacity="0.65"/>
<circle cx="229.0" cy="676.8" r="1.19" fill="#8c84b4" stroke="#544c8c" stroke-width="0.7" opacity="0.83"/>
<circle cx="205.0" cy="734.2" r="0.94" fill="#8c84b4" stroke="#544c8c" stroke-width="0.7" opacity="0.62"/>
<circle cx="149.4" cy="739.1" r="1.02" fill="#8c84b4" stroke="#544c8c" stroke-width="0.7" opacity="0.63"/>
<circle cx="247.6" cy="739.8" r="1.29" fill="#8c84b4" stroke="#544c8c" stroke-width="0.7" opacity="0.63"/>
<circle cx="188.5" cy="729.1" r="1.09" fill="#8c84b4" stroke="#544c8c" stroke-width="0.7" opacity="0.57"/>
<circle cx="178.8" cy="678.2" r="1.05" fill="#8c84b4" stroke="#544c8c" stroke-width="0.7" opacity="0.85"/>
<circle cx="243.1" cy="720.1" r="1.10" fill="#8c84b4" stroke="#544c8c" stroke-width="0.7" opacity="0.59"/>
<circle cx="142.4" cy="689.2" r="1.21" fill="#8c84b4" stroke="#544c8c" stroke-width="0.7" opacity="0.80"/>
<circle cx="173.9" cy="734.0" r="1.21" fill="#8c84b4" stroke="#544c8c" stroke-width="0.7" opacity="0.73"/>
<circle cx="208.9" cy="731.7" r="1.05" fill="#8c84b4" stroke="#544c8c" stroke-width="0.7" opacity="0.73"/>
<circle cx="164.6" cy="707.8" r="1.21" fill="#8c84b4" stroke="#544c8c" stroke-width="0.7" opacity="0.73"/>
<circle cx="166.1" cy="747.9" r="1.16" fill="#8c84b4" stroke="#544c8c" stroke-width="0.7" opacity="0.68"/>
<circle cx="133.4" cy="713.2" r="1.00" fill="#8c84b4" stroke="#544c8c" stroke-width="0.7" opacity="0.72"/>
<circle cx="185.6" cy="736.7" r="1.16" fill="#8c84b4" stroke="#544c8c" stroke-width="0.7" opacity="0.77"/>
<circle cx="172.3" cy="721.6" r="1.20" fill="#8c84b4" stroke="#544c8c" stroke-width="0.7" opacity="0.78"/>
<circle cx="172.6" cy="739.0" r="1.25" fill="#8c84b4" stroke="#544c8c" stroke-width="0.7" opacity="0.73"/>
<circle cx="244.9" cy="748.9" r="1.11" fill="#8c84b4" stroke="#544c8c" stroke-width="0.7" opacity="0.66"/>
<circle cx="151.3" cy="738.4" r="1.27" fill="#8c84b4" stroke="#544c8c" stroke-width="0.7" opacity="0.64"/>
<circle cx="212.0" cy="728.2" r="1.19" fill="#8c84b4" stroke="#544c8c" stroke-width="0.7" opacity="0.52"/>
<circle cx="222.3" cy="716.1" r="1.17" fill="#8c84b4" stroke="#544c8c" stroke-width="0.7" opacity="0.62"/>
<circle cx="204.2" cy="733.0" r="1.15" fill="#8c84b4" stroke="#544c8c" stroke-width="0.7" opacity="0.74"/>
<circle cx="135.3" cy="679.4" r="1.08" fill="#8c84b4" stroke="#544c8c" stroke-width="0.7" opacity="0.71"/>
<circle cx="157.4" cy="725.3" r="1.15" fill="#8c84b4" stroke="#544c8c" stroke-width="0.7" opacity="0.47"/>
<circle cx="186.6" cy="685.2" r="0.92" fill="#8c84b4" stroke="#544c8c" stroke-width="0.7" opacity="0.50"/>
<circle cx="168.8" cy="681.2" r="0.98" fill="#8c84b4" stroke="#544c8c" stroke-width="0.7" opacity="0.46"/>
<circle cx="185.9" cy="698.6" r="1.14" fill="#8c84b4" stroke="#544c8c" stroke-width="0.7" opacity="0.69"/>
<circle cx="159.6" cy="744.2" r="0.90" fill="#8c84b4" stroke="#544c8c" stroke-width="0.7" opacity="0.61"/>
<circle cx="164.3" cy="701.2" r="0.95" fill="#8c84b4" stroke="#544c8c" stroke-width="0.7" opacity="0.78"/>
<circle cx="175.3" cy="668.5" r="1.15" fill="#8c84b4" stroke="#544c8c" stroke-width="0.7" opacity="0.49"/>
<circle cx="195.1" cy="695.0" r="1.13" fill="#8c84b4" stroke="#544c8c" stroke-width="0.7" opacity="0.83"/>
<circle cx="226.7" cy="702.0" r="1.23" fill="#8c84b4" stroke="#544c8c" stroke-width="0.7" opacity="0.71"/>
<circle cx="174.8" cy="677.8" r="1.14" fill="#8c84b4" stroke="#544c8c" stroke-width="0.7" opacity="0.68"/>
<circle cx="242.8" cy="749.9" r="1.14" fill="#8c84b4" stroke="#544c8c" stroke-width="0.7" opacity="0.59"/>
<circle cx="235.4" cy="665.5" r="0.94" fill="#8c84b4" stroke="#544c8c" stroke-width="0.7" opacity="0.68"/>
<circle cx="203.2" cy="677.7" r="1.15" fill="#8c84b4" stroke="#544c8c" stroke-width="0.7" opacity="0.81"/>
<circle cx="175.5" cy="703.1" r="0.99" fill="#8c84b4" stroke="#544c8c" stroke-width="0.7" opacity="0.57"/>
<circle cx="244.5" cy="698.6" r="1.28" fill="#8c84b4" stroke="#544c8c" stroke-width="0.7" opacity="0.82"/>
<circle cx="201.0" cy="688.1" r="1.29" fill="#8c84b4" stroke="#544c8c" stroke-width="0.7" opacity="0.65"/>
<circle cx="180.1" cy="693.3" r="1.29" fill="#8c84b4" stroke="#544c8c" stroke-width="0.7" opacity="0.65"/>
<circle cx="165.2" cy="707.0" r="0.95" fill="#8c84b4" stroke="#544c8c" stroke-width="0.7" opacity="0.70"/>
<circle cx="183.4" cy="691.0" r="1.21" fill="#8c84b4" stroke="#544c8c" stroke-width="0.7" opacity="0.78"/>
<circle cx="133.6" cy="711.9" r="1.01" fill="#8c84b4" stroke="#544c8c" stroke-width="0.7" opacity="0.82"/>
<circle cx="222.5" cy="686.8" r="1.01" fill="#8c84b4" stroke="#544c8c" stroke-width="0.7" opacity="0.51"/>
<circle cx="246.4" cy="691.0" r="1.14" fill="#8c84b4" stroke="#544c8c" stroke-width="0.7" opacity="0.64"/>
<circle cx="206.6" cy="718.1" r="1.20" fill="#8c84b4" stroke="#544c8c" stroke-width="0.7" opacity="0.50"/>
<circle cx="220.0" cy="691.7" r="1.11" fill="#8c84b4" stroke="#544c8c" stroke-width="0.7" opacity="0.58"/>
<circle cx="166.4" cy="711.7" r="1.09" fill="#8c84b4" stroke="#544c8c" stroke-width="0.7" opacity="0.59"/>
<circle cx="218.2" cy="717.0" r="0.91" fill="#8c84b4" stroke="#544c8c" stroke-width="0.7" opacity="0.55"/>
<circle cx="184.8" cy="745.4" r="1.26" fill="#8c84b4" stroke="#544c8c" stroke-width="0.7" opacity="0.67"/>
<circle cx="133.8" cy="733.4" r="1.07" fill="#8c84b4" stroke="#544c8c" stroke-width="0.7" opacity="0.68"/>
<circle cx="214.0" cy="720.6" r="1.09" fill="#8c84b4" stroke="#544c8c" stroke-width="0.7" opacity="0.81"/>
<circle cx="176.7" cy="699.6" r="1.24" fill="#8c84b4" stroke="#544c8c" stroke-width="0.7" opacity="0.53"/>
<circle cx="166.4" cy="737.9" r="0.93" fill="#8c84b4" stroke="#544c8c" stroke-width="0.7" opacity="0.78"/>
<circle cx="212.4" cy="703.2" r="1.01" fill="#8c84b4" stroke="#544c8c" stroke-width="0.7" opacity="0.76"/>
<circle cx="237.4" cy="677.9" r="1.09" fill="#8c84b4" stroke="#544c8c" stroke-width="0.7" opacity="0.67"/>
<circle cx="189.6" cy="694.3" r="0.96" fill="#8c84b4" stroke="#544c8c" stroke-width="0.7" opacity="0.68"/>
<circle cx="225.9" cy="671.4" r="0.99" fill="#8c84b4" stroke="#544c8c" stroke-width="0.7" opacity="0.78"/>
<circle cx="223.6" cy="723.3" r="0.91" fill="#8c84b4" stroke="#544c8c" stroke-width="0.7" opacity="0.74"/>
<circle cx="245.2" cy="752.6" r="1.18" fill="#8c84b4" stroke="#544c8c" stroke-width="0.7" opacity="0.47"/>
<circle cx="229.4" cy="684.5" r="1.16" fill="#8c84b4" stroke="#544c8c" stroke-width="0.7" opacity="0.83"/>
<circle cx="214.5" cy="677.2" r="1.02" fill="#8c84b4" stroke="#544c8c" stroke-width="0.7" opacity="0.82"/>
<circle cx="149.4" cy="718.7" r="1.07" fill="#8c84b4" stroke="#544c8c" stroke-width="0.7" opacity="0.51"/>
<circle cx="204.1" cy="669.2" r="0.94" fill="#8c84b4" stroke="#544c8c" stroke-width="0.7" opacity="0.60"/>
<circle cx="140.4" cy="670.4" r="1.13" fill="#8c84b4" stroke="#544c8c" stroke-width="0.7" opacity="0.75"/>
<circle cx="233.6" cy="677.1" r="1.07" fill="#8c84b4" stroke="#544c8c" stroke-width="0.7" opacity="0.58"/>
<circle cx="201.5" cy="708.1" r="1.28" fill="#8c84b4" stroke="#544c8c" stroke-width="0.7" opacity="0.60"/>
<circle cx="138.5" cy="726.3" r="0.96" fill="#8c84b4" stroke="#544c8c" stroke-width="0.7" opacity="0.70"/>
<circle cx="190.6" cy="744.9" r="1.12" fill="#8c84b4" stroke="#544c8c" stroke-width="0.7" opacity="0.70"/>
<circle cx="162.5" cy="713.6" r="1.00" fill="#8c84b4" stroke="#544c8c" stroke-width="0.7" opacity="0.75"/>
<circle cx="191.9" cy="677.1" r="0.99" fill="#8c84b4" stroke="#544c8c" stroke-width="0.7" opacity="0.60"/>
<circle cx="217.3" cy="681.1" r="1.19" fill="#8c84b4" stroke="#544c8c" stroke-width="0.7" opacity="0.71"/>
<circle cx="142.0" cy="723.7" r="0.94" fill="#8c84b4" stroke="#544c8c" stroke-width="0.7" opacity="0.50"/>
<circle cx="200.8" cy="686.2" r="1.25" fill="#8c84b4" stroke="#544c8c" stroke-width="0.7" opacity="0.64"/>
<circle cx="169.5" cy="734.9" r="0.91" fill="#8c84b4" stroke="#544c8c" stroke-width="0.7" opacity="0.74"/>
<circle cx="138.3" cy="678.6" r="1.28" fill="#8c84b4" stroke="#544c8c" stroke-width="0.7" opacity="0.72"/>
<circle cx="157.9" cy="675.5" r="1.29" fill="#8c84b4" stroke="#544c8c" stroke-width="0.7" opacity="0.72"/>
<circle cx="227.0" cy="677.6" r="1.15" fill="#8c84b4" stroke="#544c8c" stroke-width="0.7" opacity="0.59"/>
<circle cx="159.3" cy="694.5" r="1.15" fill="#8c84b4" stroke="#544c8c" stroke-width="0.7" opacity="0.59"/>
<circle cx="176.7" cy="677.3" r="1.23" fill="#8c84b4" stroke="#544c8c" stroke-width="0.7" opacity="0.71"/>
<circle cx="225.1" cy="703.2" r="1.24" fill="#8c84b4" stroke="#544c8c" stroke-width="0.7" opacity="0.66"/>
<circle cx="200.6" cy="715.4" r="1.20" fill="#8c84b4" stroke="#544c8c" stroke-width="0.7" opacity="0.61"/>
<circle cx="143.3" cy="668.3" r="0.98" fill="#8c84b4" stroke="#544c8c" stroke-width="0.7" opacity="0.47"/>
<circle cx="234.9" cy="707.4" r="1.20" fill="#8c84b4" stroke="#544c8c" stroke-width="0.7" opacity="0.45"/>
<circle cx="186.5" cy="743.1" r="1.15" fill="#8c84b4" stroke="#544c8c" stroke-width="0.7" opacity="0.62"/>
<circle cx="185.9" cy="674.1" r="0.96" fill="#8c84b4" stroke="#544c8c" stroke-width="0.7" opacity="0.51"/>
<circle cx="175.4" cy="699.1" r="1.25" fill="#8c84b4" stroke="#544c8c" stroke-width="0.7" opacity="0.51"/>
<circle cx="161.5" cy="689.6" r="0.96" fill="#8c84b4" stroke="#544c8c" stroke-width="0.7" opacity="0.56"/>
<circle cx="159.3" cy="707.5" r="0.91" fill="#8c84b4" stroke="#544c8c" stroke-width="0.7" opacity="0.82"/>
<circle cx="174.8" cy="747.3" r="1.18" fill="#8c84b4" stroke="#544c8c" stroke-width="0.7" opacity="0.72"/>
<circle cx="186.6" cy="747.9" r="0.95" fill="#8c84b4" stroke="#544c8c" stroke-width="0.7" opacity="0.72"/>
<circle cx="165.8" cy="724.3" r="1.19" fill="#8c84b4" stroke="#544c8c" stroke-width="0.7" opacity="0.52"/>
<circle cx="155.3" cy="667.6" r="0.99" fill="#8c84b4" stroke="#544c8c" stroke-width="0.7" opacity="0.48"/>
<circle cx="178.5" cy="750.4" r="1.05" fill="#8c84b4" stroke="#544c8c" stroke-width="0.7" opacity="0.57"/>
<circle cx="186.2" cy="690.1" r="1.19" fill="#8c84b4" stroke="#544c8c" stroke-width="0.7" opacity="0.74"/>
<circle cx="151.0" cy="686.4" r="1.17" fill="#8c84b4" stroke="#544c8c" stroke-width="0.7" opacity="0.83"/>
<circle cx="206.8" cy="703.0" r="1.29" fill="#8c84b4" stroke="#544c8c" stroke-width="0.7" opacity="0.45"/>
<circle cx="139.1" cy="733.4" r="1.06" fill="#8c84b4" stroke="#544c8c" stroke-width="0.7" opacity="0.47"/>
<circle cx="195.5" cy="751.8" r="1.11" fill="#8c84b4" stroke="#544c8c" stroke-width="0.7" opacity="0.59"/>
<circle cx="142.9" cy="671.6" r="1.26" fill="#8c84b4" stroke="#544c8c" stroke-width="0.7" opacity="0.65"/>
<circle cx="240.3" cy="670.1" r="1.00" fill="#8c84b4" stroke="#544c8c" stroke-width="0.7" opacity="0.47"/>
<circle cx="178.0" cy="670.7" r="1.00" fill="#8c84b4" stroke="#544c8c" stroke-width="0.7" opacity="0.61"/>
<circle cx="167.5" cy="669.9" r="0.92" fill="#8c84b4" stroke="#544c8c" stroke-width="0.7" opacity="0.84"/>
<circle cx="152.8" cy="709.8" r="1.06" fill="#8c84b4" stroke="#544c8c" stroke-width="0.7" opacity="0.66"/>
<circle cx="141.9" cy="692.8" r="0.94" fill="#8c84b4" stroke="#544c8c" stroke-width="0.7" opacity="0.67"/>
<circle cx="238.6" cy="717.6" r="1.24" fill="#8c84b4" stroke="#544c8c" stroke-width="0.7" opacity="0.54"/>
<circle cx="134.1" cy="712.5" r="1.09" fill="#8c84b4" stroke="#544c8c" stroke-width="0.7" opacity="0.68"/>
<circle cx="175.6" cy="720.0" r="1.19" fill="#8c84b4" stroke="#544c8c" stroke-width="0.7" opacity="0.82"/>
<circle cx="167.7" cy="704.6" r="1.23" fill="#8c84b4" stroke="#544c8c" stroke-width="0.7" opacity="0.54"/>
<circle cx="145.5" cy="692.6" r="0.94" fill="#8c84b4" stroke="#544c8c" stroke-width="0.7" opacity="0.76"/>
<circle cx="226.8" cy="692.7" r="0.95" fill="#8c84b4" stroke="#544c8c" stroke-width="0.7" opacity="0.48"/>
<circle cx="160.4" cy="672.8" r="1.07" fill="#8c84b4" stroke="#544c8c" stroke-width="0.7" opacity="0.68"/>
<circle cx="160.5" cy="670.8" r="1.18" fill="#8c84b4" stroke="#544c8c" stroke-width="0.7" opacity="0.47"/>
<circle cx="155.2" cy="690.4" r="1.05" fill="#8c84b4" stroke="#544c8c" stroke-width="0.7" opacity="0.49"/>
<circle cx="180.7" cy="692.8" r="1.20" fill="#8c84b4" stroke="#544c8c" stroke-width="0.7" opacity="0.67"/>
<circle cx="235.7" cy="722.5" r="1.20" fill="#8c84b4" stroke="#544c8c" stroke-width="0.7" opacity="0.68"/>
<circle cx="183.2" cy="736.7" r="1.16" fill="#8c84b4" stroke="#544c8c" stroke-width="0.7" opacity="0.83"/>
<circle cx="216.3" cy="726.6" r="1.01" fill="#8c84b4" stroke="#544c8c" stroke-width="0.7" opacity="0.77"/>
<circle cx="176.3" cy="676.8" r="0.93" fill="#8c84b4" stroke="#544c8c" stroke-width="0.7" opacity="0.52"/>
<circle cx="162.5" cy="724.4" r="1.01" fill="#8c84b4" stroke="#544c8c" stroke-width="0.7" opacity="0.48"/>
<circle cx="220.4" cy="714.0" r="0.91" fill="#8c84b4" stroke="#544c8c" stroke-width="0.7" opacity="0.47"/>
<circle cx="147.1" cy="696.6" r="1.24" fill="#8c84b4" stroke="#544c8c" stroke-width="0.7" opacity="0.83"/>
<circle cx="202.8" cy="685.6" r="1.07" fill="#8c84b4" stroke="#544c8c" stroke-width="0.7" opacity="0.59"/>
<circle cx="170.3" cy="666.5" r="1.13" fill="#8c84b4" stroke="#544c8c" stroke-width="0.7" opacity="0.78"/>
<circle cx="216.1" cy="673.7" r="1.11" fill="#8c84b4" stroke="#544c8c" stroke-width="0.7" opacity="0.52"/>
<circle cx="214.1" cy="704.4" r="1.28" fill="#8c84b4" stroke="#544c8c" stroke-width="0.7" opacity="0.77"/>
<circle cx="145.8" cy="693.1" r="1.27" fill="#8c84b4" stroke="#544c8c" stroke-width="0.7" opacity="0.63"/>
<circle cx="182.3" cy="703.9" r="1.21" fill="#8c84b4" stroke="#544c8c" stroke-width="0.7" opacity="0.82"/>
<circle cx="193.7" cy="750.1" r="1.14" fill="#8c84b4" stroke="#544c8c" stroke-width="0.7" opacity="0.49"/>
<circle cx="226.2" cy="702.0" r="0.92" fill="#8c84b4" stroke="#544c8c" stroke-width="0.7" opacity="0.84"/>
<circle cx="135.9" cy="715.8" r="1.09" fill="#8c84b4" stroke="#544c8c" stroke-width="0.7" opacity="0.80"/>
<circle cx="177.5" cy="684.2" r="1.01" fill="#8c84b4" stroke="#544c8c" stroke-width="0.7" opacity="0.53"/>
<circle cx="197.1" cy="696.6" r="1.20" fill="#8c84b4" stroke="#544c8c" stroke-width="0.7" opacity="0.55"/>
<circle cx="172.8" cy="687.1" r="1.29" fill="#8c84b4" stroke="#544c8c" stroke-width="0.7" opacity="0.79"/>
<circle cx="230.3" cy="719.4" r="1.06" fill="#8c84b4" stroke="#544c8c" stroke-width="0.7" opacity="0.51"/>
<circle cx="228.2" cy="708.2" r="0.92" fill="#8c84b4" stroke="#544c8c" stroke-width="0.7" opacity="0.52"/>
<circle cx="143.5" cy="728.1" r="1.26" fill="#8c84b4" stroke="#544c8c" stroke-width="0.7" opacity="0.53"/>
<circle cx="224.2" cy="693.7" r="1.17" fill="#8c84b4" stroke="#544c8c" stroke-width="0.7" opacity="0.80"/>
<circle cx="204.1" cy="735.3" r="1.05" fill="#8c84b4" stroke="#544c8c" stroke-width="0.7" opacity="0.45"/>
<circle cx="191.3" cy="716.6" r="0.97" fill="#8c84b4" stroke="#544c8c" stroke-width="0.7" opacity="0.61"/>
<circle cx="168.8" cy="667.8" r="1.02" fill="#8c84b4" stroke="#544c8c" stroke-width="0.7" opacity="0.60"/>
<circle cx="187.1" cy="726.8" r="1.06" fill="#8c84b4" stroke="#544c8c" stroke-width="0.7" opacity="0.84"/>
<circle cx="226.4" cy="746.1" r="1.18" fill="#8c84b4" stroke="#544c8c" stroke-width="0.7" opacity="0.72"/>
<circle cx="194.1" cy="735.1" r="1.05" fill="#8c84b4" stroke="#544c8c" stroke-width="0.7" opacity="0.69"/>
<circle cx="210.6" cy="711.0" r="1.01" fill="#8c84b4" stroke="#544c8c" stroke-width="0.7" opacity="0.48"/>
<circle cx="142.2" cy="696.5" r="1.13" fill="#8c84b4" stroke="#544c8c" stroke-width="0.7" opacity="0.75"/>
<circle cx="214.7" cy="692.2" r="1.27" fill="#8c84b4" stroke="#544c8c" stroke-width="0.7" opacity="0.56"/>
<circle cx="214.9" cy="671.7" r="1.20" fill="#8c84b4" stroke="#544c8c" stroke-width="0.7" opacity="0.72"/>
<circle cx="242.7" cy="743.7" r="1.18" fill="#8c84b4" stroke="#544c8c" stroke-width="0.7" opacity="0.79"/>
<circle cx="217.5" cy="718.7" r="0.98" fill="#8c84b4" stroke="#544c8c" stroke-width="0.7" opacity="0.66"/>
<circle cx="235.7" cy="686.3" r="1.29" fill="#8c84b4" stroke="#544c8c" stroke-width="0.7" opacity="0.67"/>
<circle cx="177.6" cy="665.7" r="1.06" fill="#8c84b4" stroke="#544c8c" stroke-width="0.7" opacity="0.52"/>
<circle cx="207.6" cy="743.9" r="1.26" fill="#8c84b4" stroke="#544c8c" stroke-width="0.7" opacity="0.70"/>
<circle cx="176.8" cy="674.9" r="1.18" fill="#8c84b4" stroke="#544c8c" stroke-width="0.7" opacity="0.67"/>
<circle cx="214.8" cy="698.1" r="1.25" fill="#8c84b4" stroke="#544c8c" stroke-width="0.7" opacity="0.54"/>
<circle cx="167.4" cy="688.8" r="1.15" fill="#8c84b4" stroke="#544c8c" stroke-width="0.7" opacity="0.81"/>
<circle cx="151.5" cy="720.6" r="1.21" fill="#8c84b4" stroke="#544c8c" stroke-width="0.7" opacity="0.54"/>
<circle cx="139.3" cy="714.8" r="1.23" fill="#8c84b4" stroke="#544c8c" stroke-width="0.7" opacity="0.80"/>
<circle cx="216.3" cy="701.8" r="1.07" fill="#8c84b4" stroke="#544c8c" stroke-width="0.7" opacity="0.66"/>
<circle cx="236.7" cy="691.8" r="1.01" fill="#8c84b4" stroke="#544c8c" stroke-width="0.7" opacity="0.69"/>
<circle cx="243.8" cy="681.7" r="0.91" fill="#8c84b4" stroke="#544c8c" stroke-width="0.7" opacity="0.50"/>
<circle cx="197.1" cy="718.1" r="0.97" fill="#8c84b4" stroke="#544c8c" stroke-width="0.7" opacity="0.53"/>
<circle cx="200.8" cy="721.8" r="1.18" fill="#8c84b4" stroke="#544c8c" stroke-width="0.7" opacity="0.74"/>
<circle cx="139.2" cy="707.7" r="1.23" fill="#8c84b4" stroke="#544c8c" stroke-width="0.7" opacity="0.83"/>
<circle cx="168.9" cy="739.6" r="1.16" fill="#8c84b4" stroke="#544c8c" stroke-width="0.7" opacity="0.82"/>
<circle cx="158.6" cy="726.2" r="1.24" fill="#8c84b4" stroke="#544c8c" stroke-width="0.7" opacity="0.64"/>
<circle cx="143.8" cy="682.3" r="0.96" fill="#8c84b4" stroke="#544c8c" stroke-width="0.7" opacity="0.49"/>
<circle cx="149.7" cy="719.2" r="0.94" fill="#8c84b4" stroke="#544c8c" stroke-width="0.7" opacity="0.75"/>
<circle cx="217.2" cy="736.7" r="1.22" fill="#8c84b4" stroke="#544c8c" stroke-width="0.7" opacity="0.74"/>
<circle cx="238.9" cy="748.9" r="1.15" fill="#8c84b4" stroke="#544c8c" stroke-width="0.7" opacity="0.84"/>
<circle cx="144.0" cy="674.4" r="0.93" fill="#8c84b4" stroke="#544c8c" stroke-width="0.7" opacity="0.53"/>
<circle cx="175.4" cy="705.4" r="1.17" fill="#8c84b4" stroke="#544c8c" stroke-width="0.7" opacity="0.75"/>
<circle cx="141.8" cy="700.6" r="1.12" fill="#8c84b4" stroke="#544c8c" stroke-width="0.7" opacity="0.60"/>
<circle cx="145.7" cy="717.5" r="1.05" fill="#8c84b4" stroke="#544c8c" stroke-width="0.7" opacity="0.72"/>
<circle cx="189.4" cy="749.4" r="1.28" fill="#8c84b4" stroke="#544c8c" stroke-width="0.7" opacity="0.48"/>
<circle cx="219.9" cy="728.4" r="1.02" fill="#8c84b4" stroke="#544c8c" stroke-width="0.7" opacity="0.50"/>
<circle cx="187.5" cy="696.3" r="1.19" fill="#8c84b4" stroke="#544c8c" stroke-width="0.7" opacity="0.82"/>
<circle cx="176.3" cy="690.8" r="1.10" fill="#8c84b4" stroke="#544c8c" stroke-width="0.7" opacity="0.73"/>
<circle cx="223.3" cy="715.7" r="1.02" fill="#8c84b4" stroke="#544c8c" stroke-width="0.7" opacity="0.58"/>
<circle cx="230.1" cy="710.7" r="0.92" fill="#8c84b4" stroke="#544c8c" stroke-width="0.7" opacity="0.62"/>
<circle cx="159.6" cy="723.6" r="0.93" fill="#8c84b4" stroke="#544c8c" stroke-width="0.7" opacity="0.56"/>
<circle cx="143.2" cy="707.1" r="1.29" fill="#8c84b4" stroke="#544c8c" stroke-width="0.7" opacity="0.67"/>
<circle cx="176.8" cy="746.9" r="0.94" fill="#8c84b4" stroke="#544c8c" stroke-width="0.7" opacity="0.59"/>
<circle cx="225.8" cy="665.8" r="1.21" fill="#8c84b4" stroke="#544c8c" stroke-width="0.7" opacity="0.59"/>
<circle cx="134.0" cy="687.3" r="1.08" fill="#8c84b4" stroke="#544c8c" stroke-width="0.7" opacity="0.60"/>
<circle cx="191.8" cy="670.0" r="0.99" fill="#8c84b4" stroke="#544c8c" stroke-width="0.7" opacity="0.84"/>
<circle cx="183.3" cy="706.6" r="0.93" fill="#8c84b4" stroke="#544c8c" stroke-width="0.7" opacity="0.56"/>
<circle cx="242.5" cy="725.4" r="1.10" fill="#8c84b4" stroke="#544c8c" stroke-width="0.7" opacity="0.47"/>
<circle cx="177.5" cy="733.4" r="1.07" fill="#8c84b4" stroke="#544c8c" stroke-width="0.7" opacity="0.69"/>
<circle cx="236.4" cy="721.7" r="1.15" fill="#8c84b4" stroke="#544c8c" stroke-width="0.7" opacity="0.46"/>
<circle cx="134.9" cy="732.6" r="1.07" fill="#8c84b4" stroke="#544c8c" stroke-width="0.7" opacity="0.80"/>
<circle cx="227.5" cy="745.3" r="1.05" fill="#8c84b4" stroke="#544c8c" stroke-width="0.7" opacity="0.85"/>
<circle cx="219.5" cy="743.3" r="0.96" fill="#8c84b4" stroke="#544c8c" stroke-width="0.7" opacity="0.76"/>
<circle cx="180.9" cy="750.3" r="1.30" fill="#8c84b4" stroke="#544c8c" stroke-width="0.7" opacity="0.54"/>
<circle cx="180.8" cy="689.1" r="1.09" fill="#8c84b4" stroke="#544c8c" stroke-width="0.7" opacity="0.56"/>
<circle cx="209.1" cy="676.2" r="0.97" fill="#8c84b4" stroke="#544c8c" stroke-width="0.7" opacity="0.63"/>
<circle cx="140.6" cy="698.7" r="1.26" fill="#8c84b4" stroke="#544c8c" stroke-width="0.7" opacity="0.80"/>
<circle cx="154.8" cy="667.0" r="1.23" fill="#8c84b4" stroke="#544c8c" stroke-width="0.7" opacity="0.83"/>
<circle cx="201.3" cy="677.3" r="0.99" fill="#8c84b4" stroke="#544c8c" stroke-width="0.7" opacity="0.82"/>
<circle cx="240.5" cy="668.1" r="0.97" fill="#8c84b4" stroke="#544c8c" stroke-width="0.7" opacity="0.62"/>
<circle cx="162.9" cy="731.2" r="1.05" fill="#8c84b4" stroke="#544c8c" stroke-width="0.7" opacity="0.76"/>
<circle cx="149.7" cy="710.6" r="1.29" fill="#8c84b4" stroke="#544c8c" stroke-width="0.7" opacity="0.73"/>
<circle cx="142.5" cy="675.1" r="1.16" fill="#8c84b4" stroke="#544c8c" stroke-width="0.7" opacity="0.60"/>
<circle cx="174.7" cy="707.1" r="1.13" fill="#8c84b4" stroke="#544c8c" stroke-width="0.7" opacity="0.84"/>
<circle cx="159.9" cy="715.0" r="1.01" fill="#8c84b4" stroke="#544c8c" stroke-width="0.7" opacity="0.67"/>
<circle cx="216.7" cy="677.1" r="1.09" fill="#8c84b4" stroke="#544c8c" stroke-width="0.7" opacity="0.73"/>
<circle cx="133.0" cy="732.7" r="1.07" fill="#8c84b4" stroke="#544c8c" stroke-width="0.7" opacity="0.65"/>
<circle cx="202.7" cy="734.6" r="0.92" fill="#8c84b4" stroke="#544c8c" stroke-width="0.7" opacity="0.65"/>
<circle cx="136.5" cy="699.1" r="1.04" fill="#8c84b4" stroke="#544c8c" stroke-width="0.7" opacity="0.46"/>
<circle cx="166.5" cy="704.7" r="1.16" fill="#8c84b4" stroke="#544c8c" stroke-width="0.7" opacity="0.82"/>
<circle cx="174.9" cy="711.7" r="1.19" fill="#8c84b4" stroke="#544c8c" stroke-width="0.7" opacity="0.82"/>
<circle cx="241.9" cy="751.7" r="1.02" fill="#8c84b4" stroke="#544c8c" stroke-width="0.7" opacity="0.52"/>
<circle cx="239.8" cy="672.2" r="1.08" fill="#8c84b4" stroke="#544c8c" stroke-width="0.7" opacity="0.74"/>
<circle cx="193.2" cy="699.3" r="1.27" fill="#8c84b4" stroke="#544c8c" stroke-width="0.7" opacity="0.57"/>
<circle cx="195.9" cy="737.8" r="0.96" fill="#8c84b4" stroke="#544c8c" stroke-width="0.7" opacity="0.59"/>
<circle cx="189.2" cy="714.8" r="0.98" fill="#8c84b4" stroke="#544c8c" stroke-width="0.7" opacity="0.63"/>
<circle cx="139.0" cy="673.1" r="1.04" fill="#8c84b4" stroke="#544c8c" stroke-width="0.7" opacity="0.51"/>
<circle cx="243.9" cy="688.4" r="1.01" fill="#8c84b4" stroke="#544c8c" stroke-width="0.7" opacity="0.76"/>
<circle cx="217.8" cy="688.3" r="1.23" fill="#8c84b4" stroke="#544c8c" stroke-width="0.7" opacity="0.70"/>
<circle cx="177.0" cy="720.3" r="1.00" fill="#8c84b4" stroke="#544c8c" stroke-width="0.7" opacity="0.56"/>
<circle cx="233.4" cy="703.7" r="1.26" fill="#8c84b4" stroke="#544c8c" stroke-width="0.7" opacity="0.52"/>
<circle cx="148.0" cy="669.9" r="1.20" fill="#8c84b4" stroke="#544c8c" stroke-width="0.7" opacity="0.67"/>
<circle cx="133.2" cy="669.2" r="1.23" fill="#8c84b4" stroke="#544c8c" stroke-width="0.7" opacity="0.65"/>
<circle cx="232.8" cy="668.9" r="1.14" fill="#8c84b4" stroke="#544c8c" stroke-width="0.7" opacity="0.50"/>
<circle cx="215.5" cy="718.8" r="1.14" fill="#8c84b4" stroke="#544c8c" stroke-width="0.7" opacity="0.54"/>
<circle cx="241.8" cy="675.1" r="0.93" fill="#8c84b4" stroke="#544c8c" stroke-width="0.7" opacity="0.72"/>
<circle cx="142.8" cy="671.2" r="1.08" fill="#8c84b4" stroke="#544c8c" stroke-width="0.7" opacity="0.71"/>
<circle cx="235.2" cy="728.3" r="0.93" fill="#8c84b4" stroke="#544c8c" stroke-width="0.7" opacity="0.71"/>
<circle cx="229.6" cy="675.9" r="1.20" fill="#8c84b4" stroke="#544c8c" stroke-width="0.7" opacity="0.55"/>
<circle cx="166.6" cy="665.5" r="1.20" fill="#8c84b4" stroke="#544c8c" stroke-width="0.7" opacity="0.66"/>
<circle cx="236.4" cy="706.0" r="0.96" fill="#8c84b4" stroke="#544c8c" stroke-width="0.7" opacity="0.54"/>
<circle cx="162.5" cy="748.1" r="0.98" fill="#8c84b4" stroke="#544c8c" stroke-width="0.7" opacity="0.49"/>
<circle cx="172.9" cy="672.3" r="1.07" fill="#8c84b4" stroke="#544c8c" stroke-width="0.7" opacity="0.70"/>
<circle cx="207.3" cy="680.7" r="0.96" fill="#8c84b4" stroke="#544c8c" stroke-width="0.7" opacity="0.65"/>
<circle cx="211.5" cy="704.4" r="1.13" fill="#8c84b4" stroke="#544c8c" stroke-width="0.7" opacity="0.81"/>
<circle cx="148.9" cy="688.8" r="1.10" fill="#8c84b4" stroke="#544c8c" stroke-width="0.7" opacity="0.66"/>
<circle cx="236.2" cy="713.9" r="1.16" fill="#8c84b4" stroke="#544c8c" stroke-width="0.7" opacity="0.62"/>
<circle cx="222.8" cy="738.4" r="1.02" fill="#8c84b4" stroke="#544c8c" stroke-width="0.7" opacity="0.49"/>
<circle cx="162.1" cy="696.6" r="1.26" fill="#8c84b4" stroke="#544c8c" stroke-width="0.7" opacity="0.56"/>
<circle cx="204.9" cy="721.3" r="1.28" fill="#8c84b4" stroke="#544c8c" stroke-width="0.7" opacity="0.50"/>
<circle cx="221.1" cy="694.8" r="0.94" fill="#8c84b4" stroke="#544c8c" stroke-width="0.7" opacity="0.70"/>
<circle cx="229.7" cy="716.3" r="0.92" fill="#8c84b4" stroke="#544c8c" stroke-width="0.7" opacity="0.84"/>
<circle cx="176.5" cy="721.0" r="1.19" fill="#8c84b4" stroke="#544c8c" stroke-width="0.7" opacity="0.55"/>
<circle cx="179.3" cy="694.1" r="0.94" fill="#8c84b4" stroke="#544c8c" stroke-width="0.7" opacity="0.48"/>
<circle cx="215.0" cy="701.2" r="1.25" fill="#8c84b4" stroke="#544c8c" stroke-width="0.7" opacity="0.48"/>
<circle cx="166.9" cy="681.1" r="1.28" fill="#8c84b4" stroke="#544c8c" stroke-width="0.7" opacity="0.77"/>
<circle cx="235.7" cy="709.6" r="0.94" fill="#8c84b4" stroke="#544c8c" stroke-width="0.7" opacity="0.62"/>
<circle cx="158.2" cy="667.7" r="1.13" fill="#8c84b4" stroke="#544c8c" stroke-width="0.7" opacity="0.57"/>
<circle cx="144.6" cy="710.1" r="1.27" fill="#8c84b4" stroke="#544c8c" stroke-width="0.7" opacity="0.83"/>
<circle cx="186.0" cy="674.4" r="1.21" fill="#8c84b4" stroke="#544c8c" stroke-width="0.7" opacity="0.50"/>
<circle cx="194.2" cy="672.7" r="1.29" fill="#8c84b4" stroke="#544c8c" stroke-width="0.7" opacity="0.67"/>
<circle cx="182.7" cy="689.2" r="1.12" fill="#8c84b4" stroke="#544c8c" stroke-width="0.7" opacity="0.84"/>
<circle cx="181.6" cy="683.7" r="1.11" fill="#8c84b4" stroke="#544c8c" stroke-width="0.7" opacity="0.82"/>
<circle cx="176.2" cy="720.7" r="1.27" fill="#8c84b4" stroke="#544c8c" stroke-width="0.7" opacity="0.58"/>
<circle cx="225.8" cy="711.6" r="0.96" fill="#8c84b4" stroke="#544c8c" stroke-width="0.7" opacity="0.47"/>
<circle cx="240.6" cy="706.1" r="1.08" fill="#8c84b4" stroke="#544c8c" stroke-width="0.7" opacity="0.82"/>
<circle cx="198.5" cy="709.1" r="1.01" fill="#8c84b4" stroke="#544c8c" stroke-width="0.7" opacity="0.75"/>
<circle cx="161.7" cy="706.5" r="1.20" fill="#8c84b4" stroke="#544c8c" stroke-width="0.7" opacity="0.69"/>
<circle cx="147.6" cy="683.1" r="1.18" fill="#8c84b4" stroke="#544c8c" stroke-width="0.7" opacity="0.74"/>
<circle cx="144.0" cy="752.5" r="0.95" fill="#8c84b4" stroke="#544c8c" stroke-width="0.7" opacity="0.52"/>
<circle cx="142.5" cy="704.4" r="1.15" fill="#8c84b4" stroke="#544c8c" stroke-width="0.7" opacity="0.79"/>
<circle cx="151.0" cy="726.4" r="0.94" fill="#8c84b4" stroke="#544c8c" stroke-width="0.7" opacity="0.68"/>
<circle cx="161.2" cy="696.5" r="0.92" fill="#8c84b4" stroke="#544c8c" stroke-width="0.7" opacity="0.74"/>
<circle cx="146.2" cy="732.1" r="1.03" fill="#8c84b4" stroke="#544c8c" stroke-width="0.7" opacity="0.69"/>
<circle cx="206.0" cy="708.1" r="1.25" fill="#8c84b4" stroke="#544c8c" stroke-width="0.7" opacity="0.82"/>
<circle cx="164.7" cy="694.5" r="1.25" fill="#8c84b4" stroke="#544c8c" stroke-width="0.7" opacity="0.50"/>
<circle cx="180.7" cy="701.6" r="1.29" fill="#8c84b4" stroke="#544c8c" stroke-width="0.7" opacity="0.50"/>
<circle cx="207.8" cy="731.5" r="1.19" fill="#8c84b4" stroke="#544c8c" stroke-width="0.7" opacity="0.45"/>
<circle cx="241.2" cy="692.7" r="1.24" fill="#8c84b4" stroke="#544c8c" stroke-width="0.7" opacity="0.71"/>
<circle cx="180.7" cy="738.5" r="1.17" fill="#8c84b4" stroke="#544c8c" stroke-width="0.7" opacity="0.59"/>
<circle cx="216.7" cy="709.5" r="1.18" fill="#8c84b4" stroke="#544c8c" stroke-width="0.7" opacity="0.70"/>
<circle cx="224.1" cy="679.3" r="1.10" fill="#8c84b4" stroke="#544c8c" stroke-width="0.7" opacity="0.45"/>
<circle cx="223.5" cy="732.8" r="1.23" fill="#8c84b4" stroke="#544c8c" stroke-width="0.7" opacity="0.47"/>
<rect x="237.70" y="749.50" width="7.00" height="1.30" fill="#ffffff" />
</g>
<text x="70.70" y="566.60" font-size="13.2" text-anchor="middle" fill="#111" >Normal</text>
<text x="190.00" y="566.60" font-size="13.1" text-anchor="middle" fill="#111" >Phase I</text>
<text x="310.20" y="566.60" font-size="13.2" text-anchor="middle" fill="#111" >Phase II</text>
<text x="69.50" y="767.00" font-size="13.1" text-anchor="middle" fill="#111" >Phase III</text>
<text x="192.20" y="768.50" font-size="13.1" text-anchor="middle" fill="#111" >Phase IV</text>
</svg>
</body></html>
